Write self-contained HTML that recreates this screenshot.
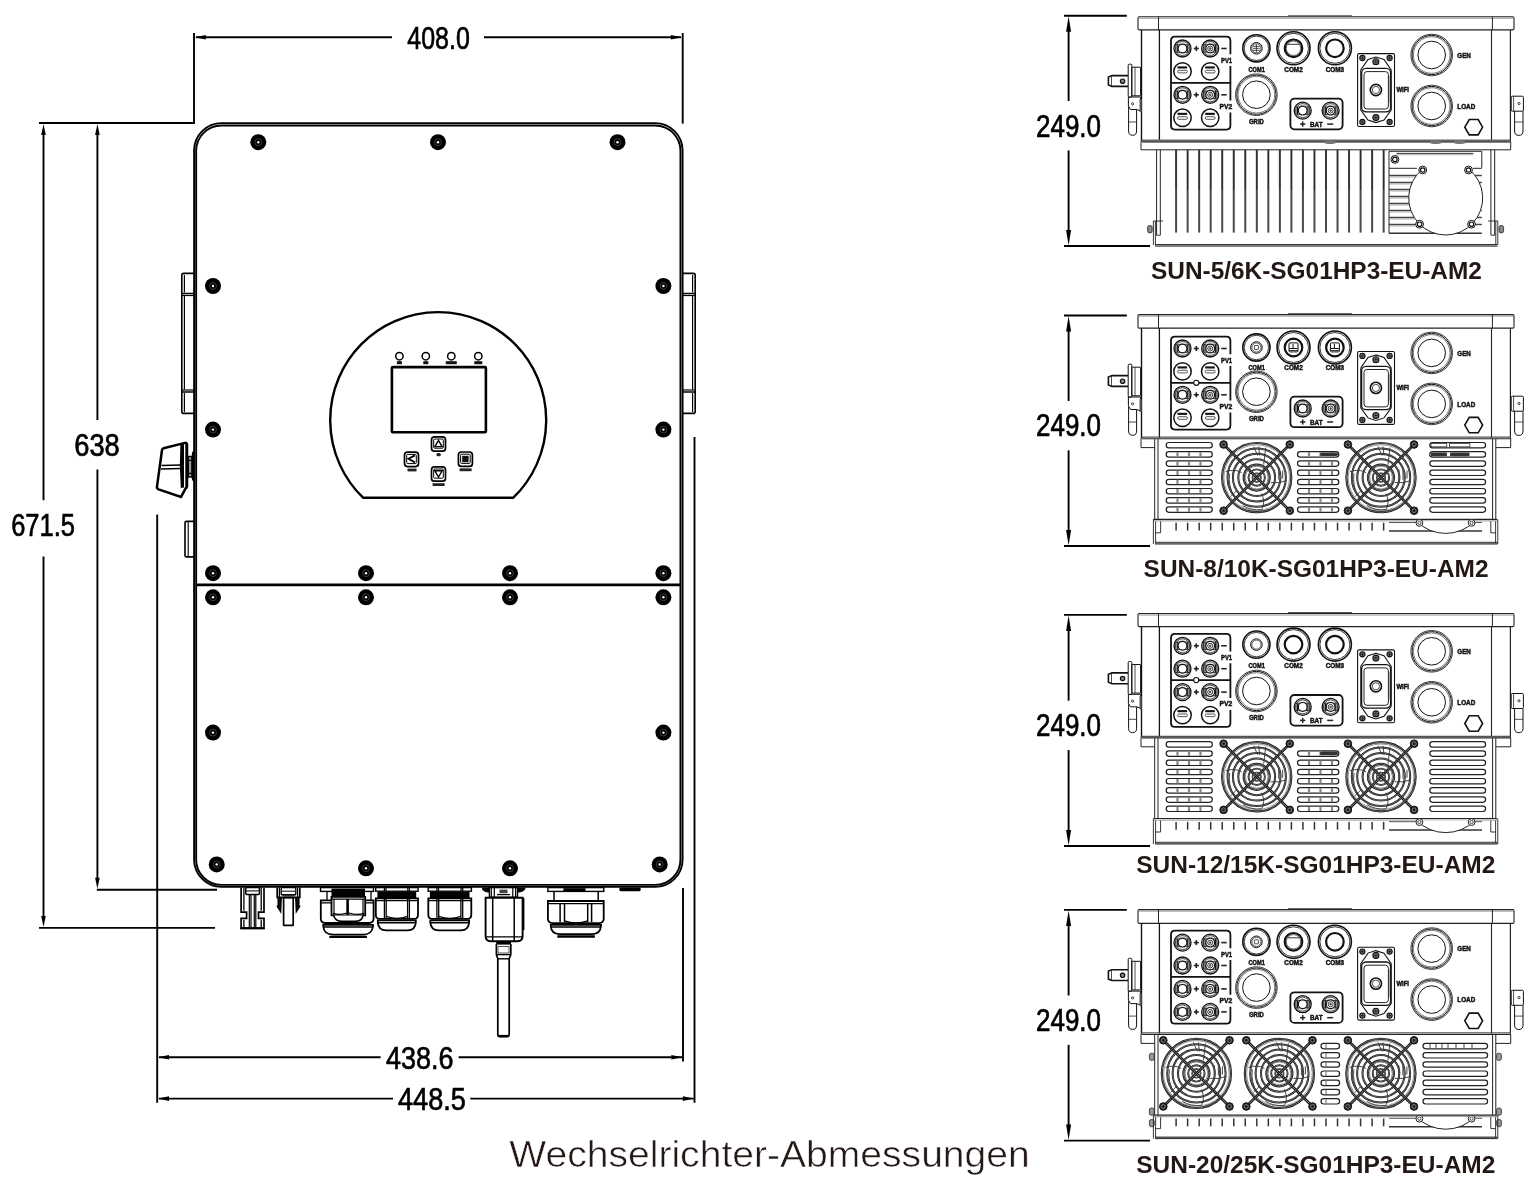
<!DOCTYPE html>
<html lang="de"><head><meta charset="utf-8"><title>Wechselrichter-Abmessungen</title>
<style>
html,body{margin:0;padding:0;background:#fff;}
body{width:1539px;height:1196px;overflow:hidden;}
svg{display:block;font-family:"Liberation Sans",sans-serif;will-change:transform;}
</style></head><body>
<svg width="1539" height="1196" viewBox="0 0 1539 1196">
<rect x="0" y="0" width="1539" height="1196" fill="#fff"/>
<line x1="194" y1="33" x2="194" y2="123.6" stroke="#000" stroke-width="1.9" />
<line x1="682.7" y1="33" x2="682.7" y2="123.6" stroke="#000" stroke-width="1.9" />
<line x1="196" y1="37.3" x2="392" y2="37.3" stroke="#000" stroke-width="1.9" />
<line x1="484" y1="37.3" x2="681" y2="37.3" stroke="#000" stroke-width="1.9" />
<polygon points="194.8,37.3 205.8,35 205.8,39.6" fill="#000"/>
<polygon points="681.9,37.3 670.9,35 670.9,39.6" fill="#000"/>
<text x="407.3" y="48.6" font-size="31.5" font-weight="normal" text-anchor="start" fill="#000" textLength="62.5" lengthAdjust="spacingAndGlyphs" stroke="#000" stroke-width="0.7">408.0</text>
<line x1="39" y1="123" x2="194.9" y2="123" stroke="#000" stroke-width="1.9" />
<line x1="43.5" y1="132" x2="43.5" y2="500.3" stroke="#000" stroke-width="1.9" />
<line x1="43.5" y1="556.5" x2="43.5" y2="918" stroke="#000" stroke-width="1.9" />
<polygon points="43.5,124 41.2,135 45.8,135" fill="#000"/>
<polygon points="43.5,927 41.2,916 45.8,916" fill="#000"/>
<line x1="97.4" y1="132" x2="97.4" y2="420" stroke="#000" stroke-width="1.9" />
<line x1="97.4" y1="469.6" x2="97.4" y2="880" stroke="#000" stroke-width="1.9" />
<polygon points="97.4,124 95.1,135 99.7,135" fill="#000"/>
<polygon points="97.4,888.8 95.1,877.8 99.7,877.8" fill="#000"/>
<line x1="96.8" y1="889.7" x2="217" y2="889.7" stroke="#000" stroke-width="1.9" />
<line x1="39" y1="927.9" x2="215" y2="927.9" stroke="#000" stroke-width="1.9" />
<text x="74.3" y="456.2" font-size="31" font-weight="normal" text-anchor="start" fill="#000" textLength="45.5" lengthAdjust="spacingAndGlyphs" stroke="#000" stroke-width="0.7">638</text>
<text x="11.2" y="536.4" font-size="31" font-weight="normal" text-anchor="start" fill="#000" textLength="63.7" lengthAdjust="spacingAndGlyphs" stroke="#000" stroke-width="0.7">671.5</text>
<line x1="157.2" y1="514.5" x2="157.2" y2="1102.8" stroke="#000" stroke-width="1.9" />
<line x1="694.5" y1="437" x2="694.5" y2="1102.8" stroke="#000" stroke-width="1.9" />
<line x1="683" y1="888" x2="683" y2="1061.6" stroke="#000" stroke-width="1.9" />
<line x1="159" y1="1057.2" x2="380.6" y2="1057.2" stroke="#000" stroke-width="1.9" />
<line x1="458.6" y1="1057.2" x2="682" y2="1057.2" stroke="#000" stroke-width="1.9" />
<polygon points="158,1057.2 169,1054.9 169,1059.5" fill="#000"/>
<polygon points="682.3,1057.2 671.3,1054.9 671.3,1059.5" fill="#000"/>
<line x1="159" y1="1098.6" x2="393" y2="1098.6" stroke="#000" stroke-width="1.9" />
<line x1="470.3" y1="1098.6" x2="693.5" y2="1098.6" stroke="#000" stroke-width="1.9" />
<polygon points="158,1098.6 169,1096.3 169,1100.9" fill="#000"/>
<polygon points="693.8,1098.6 682.8,1096.3 682.8,1100.9" fill="#000"/>
<text x="385.9" y="1068.9" font-size="31.5" font-weight="normal" text-anchor="start" fill="#000" textLength="67.5" lengthAdjust="spacingAndGlyphs" stroke="#000" stroke-width="0.7">438.6</text>
<text x="398" y="1109.6" font-size="31.5" font-weight="normal" text-anchor="start" fill="#000" textLength="67.8" lengthAdjust="spacingAndGlyphs" stroke="#000" stroke-width="0.7">448.5</text>
<rect x="194.1" y="123.1" width="488.5" height="763.8" rx="27.5" stroke="#000" stroke-width="1.9" fill="none"/>
<rect x="196.15" y="125.45" width="484.3" height="759.45" rx="25.4" stroke="#000" stroke-width="1.9" fill="none"/>
<line x1="196" y1="584.9" x2="681" y2="584.9" stroke="#000" stroke-width="2.6" />
<circle cx="258.3" cy="142.2" r="8" fill="#000"/>
<circle cx="258.3" cy="142.2" r="3.4" fill="none" stroke="#555" stroke-width="0.7"/>
<circle cx="258.3" cy="142.2" r="1.2" fill="#fff"/>
<circle cx="438" cy="142.2" r="8" fill="#000"/>
<circle cx="438" cy="142.2" r="3.4" fill="none" stroke="#555" stroke-width="0.7"/>
<circle cx="438" cy="142.2" r="1.2" fill="#fff"/>
<circle cx="617.5" cy="142.2" r="8" fill="#000"/>
<circle cx="617.5" cy="142.2" r="3.4" fill="none" stroke="#555" stroke-width="0.7"/>
<circle cx="617.5" cy="142.2" r="1.2" fill="#fff"/>
<circle cx="213" cy="286" r="8" fill="#000"/>
<circle cx="213" cy="286" r="3.4" fill="none" stroke="#555" stroke-width="0.7"/>
<circle cx="213" cy="286" r="1.2" fill="#fff"/>
<circle cx="663.4" cy="286" r="8" fill="#000"/>
<circle cx="663.4" cy="286" r="3.4" fill="none" stroke="#555" stroke-width="0.7"/>
<circle cx="663.4" cy="286" r="1.2" fill="#fff"/>
<circle cx="213" cy="429.6" r="8" fill="#000"/>
<circle cx="213" cy="429.6" r="3.4" fill="none" stroke="#555" stroke-width="0.7"/>
<circle cx="213" cy="429.6" r="1.2" fill="#fff"/>
<circle cx="663.4" cy="429.6" r="8" fill="#000"/>
<circle cx="663.4" cy="429.6" r="3.4" fill="none" stroke="#555" stroke-width="0.7"/>
<circle cx="663.4" cy="429.6" r="1.2" fill="#fff"/>
<circle cx="213" cy="573.2" r="8" fill="#000"/>
<circle cx="213" cy="573.2" r="3.4" fill="none" stroke="#555" stroke-width="0.7"/>
<circle cx="213" cy="573.2" r="1.2" fill="#fff"/>
<circle cx="663.4" cy="573.2" r="8" fill="#000"/>
<circle cx="663.4" cy="573.2" r="3.4" fill="none" stroke="#555" stroke-width="0.7"/>
<circle cx="663.4" cy="573.2" r="1.2" fill="#fff"/>
<circle cx="213" cy="597.3" r="8" fill="#000"/>
<circle cx="213" cy="597.3" r="3.4" fill="none" stroke="#555" stroke-width="0.7"/>
<circle cx="213" cy="597.3" r="1.2" fill="#fff"/>
<circle cx="663.4" cy="597.3" r="8" fill="#000"/>
<circle cx="663.4" cy="597.3" r="3.4" fill="none" stroke="#555" stroke-width="0.7"/>
<circle cx="663.4" cy="597.3" r="1.2" fill="#fff"/>
<circle cx="213" cy="732.6" r="8" fill="#000"/>
<circle cx="213" cy="732.6" r="3.4" fill="none" stroke="#555" stroke-width="0.7"/>
<circle cx="213" cy="732.6" r="1.2" fill="#fff"/>
<circle cx="663.4" cy="732.6" r="8" fill="#000"/>
<circle cx="663.4" cy="732.6" r="3.4" fill="none" stroke="#555" stroke-width="0.7"/>
<circle cx="663.4" cy="732.6" r="1.2" fill="#fff"/>
<circle cx="366" cy="573.2" r="8" fill="#000"/>
<circle cx="366" cy="573.2" r="3.4" fill="none" stroke="#555" stroke-width="0.7"/>
<circle cx="366" cy="573.2" r="1.2" fill="#fff"/>
<circle cx="366" cy="597.3" r="8" fill="#000"/>
<circle cx="366" cy="597.3" r="3.4" fill="none" stroke="#555" stroke-width="0.7"/>
<circle cx="366" cy="597.3" r="1.2" fill="#fff"/>
<circle cx="366" cy="868.3" r="8" fill="#000"/>
<circle cx="366" cy="868.3" r="3.4" fill="none" stroke="#555" stroke-width="0.7"/>
<circle cx="366" cy="868.3" r="1.2" fill="#fff"/>
<circle cx="510" cy="573.2" r="8" fill="#000"/>
<circle cx="510" cy="573.2" r="3.4" fill="none" stroke="#555" stroke-width="0.7"/>
<circle cx="510" cy="573.2" r="1.2" fill="#fff"/>
<circle cx="510" cy="597.3" r="8" fill="#000"/>
<circle cx="510" cy="597.3" r="3.4" fill="none" stroke="#555" stroke-width="0.7"/>
<circle cx="510" cy="597.3" r="1.2" fill="#fff"/>
<circle cx="510" cy="868.3" r="8" fill="#000"/>
<circle cx="510" cy="868.3" r="3.4" fill="none" stroke="#555" stroke-width="0.7"/>
<circle cx="510" cy="868.3" r="1.2" fill="#fff"/>
<circle cx="216.7" cy="864.4" r="8" fill="#000"/>
<circle cx="216.7" cy="864.4" r="3.4" fill="none" stroke="#555" stroke-width="0.7"/>
<circle cx="216.7" cy="864.4" r="1.2" fill="#fff"/>
<circle cx="659.7" cy="864.4" r="8" fill="#000"/>
<circle cx="659.7" cy="864.4" r="3.4" fill="none" stroke="#555" stroke-width="0.7"/>
<circle cx="659.7" cy="864.4" r="1.2" fill="#fff"/>
<path d="M194.5,273.4 H183.8 Q181.8,273.4 181.8,275.4 V411.4 Q181.8,413.4 183.8,413.4 H194.5" stroke="#000" stroke-width="1.6" fill="none" />
<line x1="181.8" y1="293.5" x2="194.5" y2="293.5" stroke="#000" stroke-width="1.5" />
<line x1="181.8" y1="295.5" x2="194.5" y2="295.5" stroke="#000" stroke-width="1.2" />
<line x1="181.8" y1="392" x2="194.5" y2="392" stroke="#000" stroke-width="1.5" />
<line x1="181.8" y1="390" x2="194.5" y2="390" stroke="#000" stroke-width="1.2" />
<line x1="184.4" y1="275" x2="184.4" y2="292.5" stroke="#000" stroke-width="1.2" />
<line x1="184.4" y1="296" x2="184.4" y2="389.5" stroke="#000" stroke-width="1.2" />
<line x1="184.4" y1="393" x2="184.4" y2="412" stroke="#000" stroke-width="1.2" />
<path d="M682.3,273.4 H693.2 Q695.2,273.4 695.2,275.4 V411.4 Q695.2,413.4 693.2,413.4 H682.3" stroke="#000" stroke-width="1.6" fill="none" />
<line x1="695.2" y1="293.5" x2="682.3" y2="293.5" stroke="#000" stroke-width="1.5" />
<line x1="695.2" y1="295.5" x2="682.3" y2="295.5" stroke="#000" stroke-width="1.2" />
<line x1="695.2" y1="392" x2="682.3" y2="392" stroke="#000" stroke-width="1.5" />
<line x1="695.2" y1="390" x2="682.3" y2="390" stroke="#000" stroke-width="1.2" />
<line x1="692.6" y1="275" x2="692.6" y2="292.5" stroke="#000" stroke-width="1.2" />
<line x1="692.6" y1="296" x2="692.6" y2="389.5" stroke="#000" stroke-width="1.2" />
<line x1="692.6" y1="393" x2="692.6" y2="412" stroke="#000" stroke-width="1.2" />
<path d="M194.5,521.4 H186.5 Q185,521.4 185,523 V555.4 Q185,556.9 186.5,556.9 H194.5" stroke="#000" stroke-width="1.6" fill="none" />
<line x1="188.2" y1="522" x2="188.2" y2="556.5" stroke="#000" stroke-width="1.1" />
<path d="M163.6,448.3 L185,442.9 Q186.9,442.6 187,444.6 V486.6 Q187,488 185.6,488.3 L181,497 L158.6,489.4 Q156.6,488.6 157,486.6 L162,450 Q162.3,448.6 163.6,448.3 Z" stroke="#000" stroke-width="2.5" fill="none" />
<path d="M180.4,444.2 L184,443.3 V487.6 L180.8,488 Q179,466 180.4,444.2 Z" fill="#000"/>
<line x1="185.9" y1="444" x2="185.9" y2="488" stroke="#000" stroke-width="1" />
<line x1="161.6" y1="465.4" x2="181" y2="465" stroke="#000" stroke-width="1.5" />
<line x1="161" y1="469" x2="181" y2="468.6" stroke="#000" stroke-width="1.5" />
<rect x="188.2" y="456.6" width="3.8" height="20.4" rx="0.6" stroke="#000" stroke-width="1.5" fill="#999"/>
<line x1="187.6" y1="460.4" x2="192" y2="460.4" stroke="#000" stroke-width="1.3" />
<line x1="187.6" y1="473.4" x2="192" y2="473.4" stroke="#000" stroke-width="1.3" />
<path d="M194.2,450.6 Q191.6,451.6 191.8,455 V477.6 Q191.6,481 194.2,482 Z" fill="#000"/>
<path d="M363.09,497.7 A108,108 0 1 1 513.31,497.7 Z" stroke="#000" stroke-width="2.4" fill="none" />
<rect x="391.9" y="367.1" width="94" height="65.2" rx="1" stroke="#000" stroke-width="2.6" fill="none"/>
<circle cx="399.4" cy="356.2" r="3.7" stroke="#000" stroke-width="1.5" fill="none"/>
<rect x="396.9" y="361.2" width="5" height="3" fill="#111"/>
<circle cx="425.8" cy="356.2" r="3.7" stroke="#000" stroke-width="1.5" fill="none"/>
<rect x="423.3" y="361.2" width="5" height="3" fill="#111"/>
<circle cx="451.3" cy="356.2" r="3.7" stroke="#000" stroke-width="1.5" fill="none"/>
<rect x="445.8" y="361.2" width="11" height="3" fill="#111"/>
<circle cx="478.3" cy="356.2" r="3.7" stroke="#000" stroke-width="1.5" fill="none"/>
<rect x="474.3" y="361.2" width="8" height="3" fill="#111"/>
<rect x="431.5" y="436.8" width="14" height="14.4" rx="3" stroke="#000" stroke-width="1.7" fill="none"/>
<rect x="433.7" y="439" width="9.6" height="9.2" rx="1" stroke="#000" stroke-width="1" fill="none"/>
<path d="M434.9,446.6 L438.5,440.4 L442.1,446.6 Z" stroke="#000" stroke-width="1.4" fill="none" />
<rect x="404.5" y="452.2" width="14" height="14.4" rx="3" stroke="#000" stroke-width="1.7" fill="none"/>
<rect x="406.7" y="454.4" width="9.6" height="9.2" rx="1" stroke="#000" stroke-width="1" fill="none"/>
<path d="M414.9,455.4 L408.5,458.8 L414.9,462.4" stroke="#000" stroke-width="1.8" fill="none" />
<rect x="458.4" y="452" width="14" height="14.4" rx="3" stroke="#000" stroke-width="1.7" fill="none"/>
<rect x="460.6" y="454.2" width="9.6" height="9.2" rx="1" stroke="#000" stroke-width="1" fill="none"/>
<rect x="462.2" y="455.8" width="6.4" height="6.4" fill="#111"/>
<rect x="431.5" y="466.8" width="14" height="14.4" rx="3" stroke="#000" stroke-width="1.7" fill="none"/>
<rect x="433.7" y="469" width="9.6" height="9.2" rx="1" stroke="#000" stroke-width="1" fill="none"/>
<path d="M434.9,470.8 L438.5,477 L442.1,470.8 Z" stroke="#000" stroke-width="1.4" fill="none" />
<rect x="436.4" y="453" width="4.4" height="3.2" rx="1.5" fill="#222"/>
<rect x="407.5" y="468.6" width="9" height="2.8" fill="#222"/>
<rect x="459.6" y="468.4" width="12" height="2.8" fill="#222"/>
<rect x="432.6" y="483.2" width="12" height="2.8" fill="#222"/>
<path d="M241.1,887.6 V912.2 H246.6 V918.3 H241.1 V928.2 H264.0 V918.3 H258.5 V912.2 H264.0 V887.6" stroke="#000" stroke-width="1.7" fill="none" />
<path d="M243.9,887.6 V910.8 M261.2,887.6 V910.8 M243.9,919.8 V927 M261.2,919.8 V927" stroke="#000" stroke-width="1.3" fill="none" />
<rect x="245.8" y="887.6" width="13.6" height="6.8" rx="0.8" stroke="#000" stroke-width="1.5" fill="none"/>
<line x1="245.8" y1="890.9" x2="259.4" y2="890.9" stroke="#333" stroke-width="1.3" />
<path d="M249.3,895 V927.5 M251,895 V927.5 M254.3,895 V927.5 M255.8,895 V927.5" stroke="#000" stroke-width="1.2" fill="none" />
<line x1="240.3" y1="928.3" x2="264.8" y2="928.3" stroke="#000" stroke-width="2.2" />
<path d="M277.2,887.6 V897.4 H299.8 V887.6" stroke="#000" stroke-width="1.7" fill="none" />
<path d="M279.4,887.6 V897 M297.6,887.6 V897" stroke="#000" stroke-width="1.2" fill="none" />
<rect x="281.2" y="887.6" width="14.6" height="7.2" rx="0.8" stroke="#000" stroke-width="1.4" fill="none"/>
<line x1="281.2" y1="891.2" x2="295.8" y2="891.2" stroke="#333" stroke-width="1.2" />
<line x1="282.5" y1="895.6" x2="294.5" y2="895.6" stroke="#333" stroke-width="1.6" />
<path d="M278.2,897.4 V905.6 L277.4,906.4 L280.6,911.6 L281.2,897.4" stroke="#000" stroke-width="1.5" fill="#111" />
<path d="M298.8,897.4 V905.6 L299.6,906.4 L296.4,911.6 L295.8,897.4" stroke="#000" stroke-width="1.5" fill="#111" />
<rect x="283.6" y="897.6" width="9.6" height="27.8" rx="0.5" stroke="#000" stroke-width="1.7" fill="none"/>
<rect x="375.7" y="887.6" width="42.4" height="3.6" rx="0" stroke="#000" stroke-width="1.4" fill="none"/>
<line x1="384.4" y1="887.6" x2="384.4" y2="891.2" stroke="#000" stroke-width="1.2" />
<line x1="386" y1="887.6" x2="386" y2="891.2" stroke="#000" stroke-width="1.2" />
<line x1="409.4" y1="887.6" x2="409.4" y2="891.2" stroke="#000" stroke-width="1.2" />
<line x1="407.8" y1="887.6" x2="407.8" y2="891.2" stroke="#000" stroke-width="1.2" />
<rect x="377.4" y="891.8" width="38.8" height="6.6" fill="#000"/>
<path d="M375.8,898.4 H418 V914.5 Q418,918.6 414.6,918.8 H379.2 Q375.8,918.6 375.8,914.5 Z" stroke="#000" stroke-width="1.8" fill="none" />
<line x1="375.8" y1="900.6" x2="418" y2="900.6" stroke="#000" stroke-width="1.3" />
<line x1="384.4" y1="898.4" x2="384.4" y2="918" stroke="#000" stroke-width="1.3" />
<line x1="409.4" y1="898.4" x2="409.4" y2="918" stroke="#000" stroke-width="1.3" />
<line x1="386.2" y1="898.4" x2="386.2" y2="918" stroke="#000" stroke-width="1.3" />
<line x1="407.6" y1="898.4" x2="407.6" y2="918" stroke="#000" stroke-width="1.3" />
<path d="M386.2,916.4 Q396.9,920.4 407.6,916.4" stroke="#000" stroke-width="1.4" fill="none" />
<path d="M377.8,920.4 H415.8 V922.6 Q415.2,930.2 407.6,930.3 H386.2 Q378.4,930.2 377.8,922.6 Z" stroke="#000" stroke-width="1.8" fill="none" />
<line x1="377.8" y1="922.7" x2="415.8" y2="922.7" stroke="#000" stroke-width="1.4" />
<rect x="428.2" y="887.6" width="43.2" height="3.6" rx="0" stroke="#000" stroke-width="1.4" fill="none"/>
<line x1="436.9" y1="887.6" x2="436.9" y2="891.2" stroke="#000" stroke-width="1.2" />
<line x1="438.5" y1="887.6" x2="438.5" y2="891.2" stroke="#000" stroke-width="1.2" />
<line x1="462.7" y1="887.6" x2="462.7" y2="891.2" stroke="#000" stroke-width="1.2" />
<line x1="461.1" y1="887.6" x2="461.1" y2="891.2" stroke="#000" stroke-width="1.2" />
<rect x="429.9" y="891.8" width="39.6" height="6.6" fill="#000"/>
<path d="M428.3,898.4 H471.3 V914.5 Q471.3,918.6 467.9,918.8 H431.7 Q428.3,918.6 428.3,914.5 Z" stroke="#000" stroke-width="1.8" fill="none" />
<line x1="428.3" y1="900.6" x2="471.3" y2="900.6" stroke="#000" stroke-width="1.3" />
<line x1="436.9" y1="898.4" x2="436.9" y2="918" stroke="#000" stroke-width="1.3" />
<line x1="462.7" y1="898.4" x2="462.7" y2="918" stroke="#000" stroke-width="1.3" />
<line x1="438.7" y1="898.4" x2="438.7" y2="918" stroke="#000" stroke-width="1.3" />
<line x1="460.9" y1="898.4" x2="460.9" y2="918" stroke="#000" stroke-width="1.3" />
<path d="M438.7,916.4 Q449.8,920.4 460.9,916.4" stroke="#000" stroke-width="1.4" fill="none" />
<path d="M430.3,920.4 H469.1 V922.6 Q468.5,930.2 460.9,930.3 H438.7 Q430.9,930.2 430.3,922.6 Z" stroke="#000" stroke-width="1.8" fill="none" />
<line x1="430.3" y1="922.7" x2="469.1" y2="922.7" stroke="#000" stroke-width="1.4" />
<rect x="320.5" y="887.6" width="53" height="3.8" rx="0" stroke="#000" stroke-width="1.4" fill="none"/>
<rect x="331.5" y="888.6" width="33.5" height="8.2" fill="#000"/>
<path d="M327,892 V900.4 M371,892 V900.4" stroke="#000" stroke-width="1.3" fill="none" />
<path d="M320.8,900.4 H373.6 V918.5 Q373.4,922.8 369,923 H325 Q320.9,922.8 320.8,918.5 Z" stroke="#000" stroke-width="1.8" fill="none" />
<line x1="320.8" y1="902.8" x2="373.6" y2="902.8" stroke="#000" stroke-width="1.3" />
<path d="M331.5,896.8 H365.2 V915.4 H331.5 Z" stroke="#000" stroke-width="1.8" fill="#fff" />
<line x1="331.5" y1="899.2" x2="365.2" y2="899.2" stroke="#000" stroke-width="1.3" />
<line x1="347.6" y1="899" x2="347.6" y2="915" stroke="#000" stroke-width="2.6" />
<line x1="334" y1="899" x2="334" y2="915" stroke="#000" stroke-width="1.2" />
<line x1="363" y1="899" x2="363" y2="915" stroke="#000" stroke-width="1.2" />
<path d="M333,913.4 Q340,915.6 346.5,913 M348.8,913 Q357,915.6 364,913.4" stroke="#000" stroke-width="1.3" fill="none" />
<path d="M333.8,915.6 Q335,921.2 342,921.4 H355 Q362,921.2 363,915.6" stroke="#000" stroke-width="1.7" fill="#fff" />
<path d="M323.3,924.8 H373 V926.5 Q372,934.5 363,934.7 H333 Q324,934.5 323.3,926.5 Z" stroke="#000" stroke-width="1.8" fill="none" />
<line x1="323.3" y1="927" x2="373" y2="927" stroke="#000" stroke-width="1.3" />
<line x1="329.3" y1="936.9" x2="366.9" y2="936.9" stroke="#000" stroke-width="2.4" />
<rect x="547.9" y="887.6" width="55.9" height="3.8" rx="0" stroke="#000" stroke-width="1.4" fill="none"/>
<rect x="563.4" y="888.2" width="22.1" height="3.6" fill="#000"/>
<path d="M554,892 V901 M598.2,892 V901" stroke="#000" stroke-width="1.5" fill="none" />
<path d="M547.9,901 H603.7 V919 Q603.5,922.9 599.3,923.1 H552.4 Q548.1,922.9 547.9,919 Z" stroke="#000" stroke-width="1.8" fill="none" />
<line x1="547.9" y1="903.6" x2="603.7" y2="903.6" stroke="#000" stroke-width="1.4" />
<line x1="560.1" y1="903.6" x2="560.1" y2="922" stroke="#000" stroke-width="1.5" />
<line x1="564.5" y1="903.6" x2="564.5" y2="922" stroke="#000" stroke-width="1.5" />
<line x1="591.6" y1="903.6" x2="591.6" y2="922" stroke="#000" stroke-width="1.5" />
<line x1="587.7" y1="903.6" x2="587.7" y2="922" stroke="#000" stroke-width="1.5" />
<path d="M564.5,920.8 Q575.85,925 587.7,920.8" stroke="#000" stroke-width="1.4" fill="none" />
<path d="M550.7,924.8 H601 V926 Q600.3,934 592.3,934.2 H559.4 Q551.4,934 550.7,926 Z" stroke="#000" stroke-width="1.8" fill="none" />
<line x1="550.7" y1="927" x2="601" y2="927" stroke="#000" stroke-width="1.3" />
<line x1="557.3" y1="936.5" x2="594.9" y2="936.5" stroke="#000" stroke-width="2.4" />
<path d="M481.6,887.6 H525.8 Q524.5,892.4 519,892.4 H488 Q482.6,892.4 481.6,887.6 Z" fill="#000"/>
<rect x="489.4" y="887.6" width="28.1" height="9.6" fill="#fff" stroke="#000" stroke-width="1.4"/>
<path d="M491.3,887.6 V897 M494.3,887.6 V897 M512.8,887.6 V897 M515.6,887.6 V897" stroke="#000" stroke-width="1.2" fill="none" />
<rect x="499.5" y="889.6" width="8" height="3.6" fill="#444"/>
<line x1="497" y1="894.6" x2="510" y2="894.6" stroke="#000" stroke-width="1.3" />
<path d="M485.6,897.8 H522.6 V936 Q522.6,941.2 517.4,941.2 H490.8 Q485.6,941.2 485.6,936 Z" stroke="#000" stroke-width="1.9" fill="none" />
<line x1="523.2" y1="898" x2="523.2" y2="930" stroke="#000" stroke-width="2.4" />
<line x1="492.7" y1="898" x2="492.7" y2="941" stroke="#000" stroke-width="1.5" />
<line x1="514.2" y1="898" x2="514.2" y2="941" stroke="#000" stroke-width="1.5" />
<line x1="485.6" y1="936.9" x2="522.6" y2="936.9" stroke="#000" stroke-width="1.4" />
<rect x="496.2" y="941.4" width="14.8" height="3.2" fill="#000"/>
<path d="M496.4,944 V954.6 L497.8,958.8 V1034.5 Q497.8,1036.6 500,1036.6 H507 Q509.2,1036.6 509.2,1034.5 V958.8 L510.8,954.6 V944" stroke="#000" stroke-width="1.7" fill="none" />
<line x1="496.4" y1="954.6" x2="510.8" y2="954.6" stroke="#000" stroke-width="1.4" />
<line x1="497.8" y1="958.8" x2="509.2" y2="958.8" stroke="#000" stroke-width="1.4" />
<path d="M498,946.5 H509 V953 H498 Z" stroke="#555" stroke-width="1" fill="none" />
<line x1="498.5" y1="1036" x2="508.5" y2="1036" stroke="#000" stroke-width="2.2" />
<rect x="619.3" y="887.6" width="21.4" height="3.6" rx="1.4" fill="#000"/>
<text x="509.3" y="1167.4" font-size="37" font-weight="normal" text-anchor="start" fill="#231815" textLength="520.5" lengthAdjust="spacingAndGlyphs" stroke="#fff" stroke-width="0.55">Wechselrichter-Abmessungen</text>
<line x1="1064" y1="15.7" x2="1126.8" y2="15.7" stroke="#000" stroke-width="1.9" />
<line x1="1064" y1="246" x2="1150" y2="246" stroke="#000" stroke-width="1.9" />
<line x1="1068.6" y1="27.7" x2="1068.6" y2="101.05" stroke="#000" stroke-width="1.9" />
<line x1="1068.6" y1="150.45" x2="1068.6" y2="234" stroke="#000" stroke-width="1.9" />
<polygon points="1068.6,16.3 1066.1,31.8 1071.1,31.8" fill="#000"/>
<polygon points="1068.6,245.4 1066.1,229.9 1071.1,229.9" fill="#000"/>
<text x="1036" y="136.55" font-size="30.5" font-weight="normal" text-anchor="start" fill="#000" textLength="65" lengthAdjust="spacingAndGlyphs" stroke="#000" stroke-width="0.7">249.0</text>
<rect x="1138" y="16.7" width="376" height="13.2" rx="1.2" stroke="#222" stroke-width="1.1" fill="none"/>
<line x1="1139" y1="18.2" x2="1514" y2="18.2" stroke="#777" stroke-width="0.8" />
<line x1="1288" y1="15.8" x2="1352" y2="15.8" stroke="#444" stroke-width="1" />
<line x1="1141.5" y1="29.9" x2="1141.5" y2="141.3" stroke="#111" stroke-width="1.4" />
<line x1="1510.4" y1="29.9" x2="1510.4" y2="141.3" stroke="#222" stroke-width="1.2" />
<line x1="1158.5" y1="16.7" x2="1158.5" y2="29.9" stroke="#222" stroke-width="1" />
<line x1="1492.4" y1="16.7" x2="1492.4" y2="29.9" stroke="#222" stroke-width="1" />
<line x1="1159.4" y1="29.9" x2="1159.4" y2="141.3" stroke="#111" stroke-width="1.3" />
<line x1="1491.5" y1="29.9" x2="1491.5" y2="141.3" stroke="#222" stroke-width="1.1" />
<line x1="1141.8" y1="140.7" x2="1510.4" y2="140.7" stroke="#666" stroke-width="2.6" />
<line x1="1141.8" y1="142.2" x2="1510.4" y2="142.2" stroke="#222" stroke-width="0.8" />
<path d="M1141,141.3 V149.8 H1510.7 V141.3" stroke="#222" stroke-width="1" fill="none" />
<ellipse cx="1330" cy="142.3" rx="6.5" ry="1.8" fill="#777"/>
<ellipse cx="1435.7" cy="142.3" rx="6.5" ry="1.8" fill="#777"/>
<ellipse cx="1459.6" cy="142.3" rx="6.5" ry="1.8" fill="#777"/>
<path d="M1128,75.6 H1112 L1108.4,77 V85 L1112,86.4 H1128" stroke="#111" stroke-width="1.6" fill="none" />
<line x1="1111.5" y1="76" x2="1111.5" y2="86" stroke="#222" stroke-width="0.8" />
<circle cx="1122.6" cy="81.2" r="2.2" stroke="#111" stroke-width="1.2" fill="#888"/>
<rect x="1128.2" y="64.2" width="3.6" height="33" rx="1" stroke="#111" stroke-width="1" fill="none"/>
<rect x="1131.8" y="67.2" width="8.8" height="28.6" rx="0.5" stroke="#111" stroke-width="1" fill="none"/>
<line x1="1135" y1="67.2" x2="1135" y2="95.8" stroke="#222" stroke-width="0.8" />
<path d="M1128.4,97 H1140.6 V111 L1136.8,109.5 H1130.5 L1128.4,106 Z" stroke="#111" stroke-width="1" fill="none" />
<circle cx="1132.6" cy="103.8" r="1.1" stroke="#111" stroke-width="0.8" fill="none"/>
<path d="M1128.6,107 V131 Q1128.6,135.3 1132.6,135.3 Q1136.6,135.3 1136.6,131 V109.5" stroke="#111" stroke-width="1" fill="none" />
<line x1="1128.6" y1="122" x2="1136.6" y2="122" stroke="#222" stroke-width="0.8" />
<line x1="1140.6" y1="99" x2="1140.6" y2="112" stroke="#555" stroke-width="2.2" />
<rect x="1511.2" y="96.2" width="12.2" height="15" rx="1" stroke="#111" stroke-width="1" fill="none"/>
<line x1="1513.6" y1="96.2" x2="1513.6" y2="111.2" stroke="#222" stroke-width="0.8" />
<circle cx="1519" cy="103.5" r="1.1" stroke="#111" stroke-width="0.8" fill="none"/>
<path d="M1514.6,111.2 V131 Q1514.6,135.4 1518.8,135.4 Q1523,135.4 1523,131 V111.2" stroke="#111" stroke-width="1" fill="none" />
<line x1="1514.6" y1="122" x2="1523" y2="122" stroke="#222" stroke-width="0.8" />
<path d="M1230.4,54.2 V40.6 Q1230.4,36.6 1226.4,36.6 H1175 Q1171,36.6 1171,40.6 V125.6 Q1171,129.6 1175,129.6 H1226.4 Q1230.4,129.6 1230.4,125.6 V112.6 M1230.4,66 V100.6" stroke="#111" stroke-width="1.8" fill="none" />
<line x1="1171" y1="82.8" x2="1230.4" y2="82.8" stroke="#111" stroke-width="1.8" />
<circle cx="1182.5" cy="48.5" r="8.5" stroke="#111" stroke-width="1.3" fill="#d2d2d2"/>
<circle cx="1182.5" cy="48.5" r="7" stroke="#333" stroke-width="0.8" fill="#eee"/>
<rect x="1175.9" y="44.8" width="13.2" height="7.4" fill="#fff" stroke="#222" stroke-width="0.8"/>
<line x1="1177.3" y1="44.8" x2="1177.3" y2="52.2" stroke="#111" stroke-width="1.1" />
<line x1="1187.7" y1="44.8" x2="1187.7" y2="52.2" stroke="#111" stroke-width="1.1" />
<circle cx="1182.5" cy="48.5" r="4.4" stroke="#111" stroke-width="1.2" fill="#fff"/>
<circle cx="1210.2" cy="48.5" r="8.5" stroke="#111" stroke-width="1.3" fill="#d2d2d2"/>
<circle cx="1210.2" cy="48.5" r="7" stroke="#333" stroke-width="0.8" fill="#eee"/>
<rect x="1203.6" y="44.8" width="13.2" height="7.4" fill="#fff" stroke="#222" stroke-width="0.8"/>
<line x1="1205" y1="44.8" x2="1205" y2="52.2" stroke="#111" stroke-width="1.1" />
<line x1="1215.4" y1="44.8" x2="1215.4" y2="52.2" stroke="#111" stroke-width="1.1" />
<circle cx="1210.2" cy="48.5" r="4.4" stroke="#111" stroke-width="1.2" fill="#fff"/>
<circle cx="1210.2" cy="48.5" r="2.5" stroke="#222" stroke-width="0.9" fill="none"/>
<circle cx="1210.2" cy="48.5" r="0.9" stroke="#222" stroke-width="0.6" fill="#666"/>
<line x1="1193.8" y1="48.5" x2="1198.8" y2="48.5" stroke="#222" stroke-width="1.6" />
<line x1="1196.3" y1="46" x2="1196.3" y2="51" stroke="#222" stroke-width="1.6" />
<line x1="1221.3" y1="48.5" x2="1226.7" y2="48.5" stroke="#222" stroke-width="1.6" />
<circle cx="1182.5" cy="71.4" r="8.7" stroke="#111" stroke-width="1.5" fill="#fff"/>
<rect x="1177.5" y="66.4" width="9.6" height="2.1" fill="#111"/>
<rect x="1177.6" y="70.3" width="9.8" height="2.6" rx="1.2" stroke="#444" stroke-width="0.9" fill="none"/>
<circle cx="1210.2" cy="71.4" r="8.7" stroke="#111" stroke-width="1.5" fill="#fff"/>
<rect x="1205.2" y="66.4" width="9.6" height="2.1" fill="#111"/>
<rect x="1205.3" y="70.3" width="9.8" height="2.6" rx="1.2" stroke="#444" stroke-width="0.9" fill="none"/>
<circle cx="1182.5" cy="94.8" r="8.5" stroke="#111" stroke-width="1.3" fill="#d2d2d2"/>
<circle cx="1182.5" cy="94.8" r="7" stroke="#333" stroke-width="0.8" fill="#eee"/>
<rect x="1175.9" y="91.1" width="13.2" height="7.4" fill="#fff" stroke="#222" stroke-width="0.8"/>
<line x1="1177.3" y1="91.1" x2="1177.3" y2="98.5" stroke="#111" stroke-width="1.1" />
<line x1="1187.7" y1="91.1" x2="1187.7" y2="98.5" stroke="#111" stroke-width="1.1" />
<circle cx="1182.5" cy="94.8" r="4.4" stroke="#111" stroke-width="1.2" fill="#fff"/>
<circle cx="1210.2" cy="94.8" r="8.5" stroke="#111" stroke-width="1.3" fill="#d2d2d2"/>
<circle cx="1210.2" cy="94.8" r="7" stroke="#333" stroke-width="0.8" fill="#eee"/>
<rect x="1203.6" y="91.1" width="13.2" height="7.4" fill="#fff" stroke="#222" stroke-width="0.8"/>
<line x1="1205" y1="91.1" x2="1205" y2="98.5" stroke="#111" stroke-width="1.1" />
<line x1="1215.4" y1="91.1" x2="1215.4" y2="98.5" stroke="#111" stroke-width="1.1" />
<circle cx="1210.2" cy="94.8" r="4.4" stroke="#111" stroke-width="1.2" fill="#fff"/>
<circle cx="1210.2" cy="94.8" r="2.5" stroke="#222" stroke-width="0.9" fill="none"/>
<circle cx="1210.2" cy="94.8" r="0.9" stroke="#222" stroke-width="0.6" fill="#666"/>
<line x1="1193.8" y1="94.8" x2="1198.8" y2="94.8" stroke="#222" stroke-width="1.6" />
<line x1="1196.3" y1="92.3" x2="1196.3" y2="97.3" stroke="#222" stroke-width="1.6" />
<line x1="1221.3" y1="94.8" x2="1226.7" y2="94.8" stroke="#222" stroke-width="1.6" />
<circle cx="1182.5" cy="117.8" r="8.7" stroke="#111" stroke-width="1.5" fill="#fff"/>
<rect x="1177.5" y="112.8" width="9.6" height="2.1" fill="#111"/>
<rect x="1177.6" y="116.7" width="9.8" height="2.6" rx="1.2" stroke="#444" stroke-width="0.9" fill="none"/>
<circle cx="1210.2" cy="117.8" r="8.7" stroke="#111" stroke-width="1.5" fill="#fff"/>
<rect x="1205.2" y="112.8" width="9.6" height="2.1" fill="#111"/>
<rect x="1205.3" y="116.7" width="9.8" height="2.6" rx="1.2" stroke="#444" stroke-width="0.9" fill="none"/>
<text x="1220.9" y="62.8" font-size="7.2" font-weight="bold" text-anchor="start" fill="#111" textLength="11.3" lengthAdjust="spacingAndGlyphs" stroke="#111" stroke-width="0.45">PV1</text>
<text x="1219.4" y="109" font-size="7.2" font-weight="bold" text-anchor="start" fill="#111" textLength="12.8" lengthAdjust="spacingAndGlyphs" stroke="#111" stroke-width="0.45">PV2</text>
<circle cx="1256.4" cy="48.3" r="13.6" stroke="#111" stroke-width="1.6" fill="none"/>
<circle cx="1256.4" cy="48.3" r="12.2" stroke="#222" stroke-width="0.9" fill="none"/>
<circle cx="1256.4" cy="48.3" r="5.8" stroke="#111" stroke-width="1" fill="none"/>
<circle cx="1256.4" cy="48.3" r="4.6" stroke="#222" stroke-width="0.8" fill="none"/>
<line x1="1253" y1="46.3" x2="1259.8" y2="46.3" stroke="#222" stroke-width="0.8" />
<line x1="1253" y1="48.3" x2="1259.8" y2="48.3" stroke="#222" stroke-width="0.8" />
<line x1="1253" y1="50.3" x2="1259.8" y2="50.3" stroke="#222" stroke-width="0.8" />
<line x1="1256.4" y1="44.3" x2="1256.4" y2="52.3" stroke="#222" stroke-width="0.8" />
<circle cx="1293.5" cy="48.3" r="16.5" stroke="#111" stroke-width="1.6" fill="none"/>
<circle cx="1293.5" cy="48.3" r="15" stroke="#222" stroke-width="0.9" fill="none"/>
<circle cx="1293.5" cy="48.3" r="8.8" stroke="#111" stroke-width="2.2" fill="none"/>
<line x1="1288" y1="44.3" x2="1299" y2="44.3" stroke="#222" stroke-width="0.9" />
<circle cx="1293.5" cy="48.3" r="7.2" stroke="#222" stroke-width="0.7" fill="none"/>
<circle cx="1334.9" cy="48.3" r="16.5" stroke="#111" stroke-width="1.6" fill="none"/>
<circle cx="1334.9" cy="48.3" r="15" stroke="#222" stroke-width="0.9" fill="none"/>
<circle cx="1334.9" cy="48.3" r="8.8" stroke="#111" stroke-width="2.2" fill="none"/>
<text x="1248.4" y="71.7" font-size="6.6" font-weight="bold" text-anchor="start" fill="#111" textLength="16.4" lengthAdjust="spacingAndGlyphs" stroke="#111" stroke-width="0.45">COM1</text>
<text x="1284.3" y="71.7" font-size="6.6" font-weight="bold" text-anchor="start" fill="#111" textLength="18.4" lengthAdjust="spacingAndGlyphs" stroke="#111" stroke-width="0.45">COM2</text>
<text x="1325.7" y="71.7" font-size="6.6" font-weight="bold" text-anchor="start" fill="#111" textLength="18.4" lengthAdjust="spacingAndGlyphs" stroke="#111" stroke-width="0.45">COM3</text>
<circle cx="1256.4" cy="94.7" r="20.8" stroke="#222" stroke-width="0.9" fill="none"/>
<circle cx="1256.4" cy="94.7" r="19.6" stroke="#111" stroke-width="1" fill="none"/>
<circle cx="1256.4" cy="94.7" r="18.3" stroke="#444" stroke-width="0.7" fill="none"/>
<circle cx="1256.4" cy="94.7" r="13.8" stroke="#111" stroke-width="1" fill="none"/>
<text x="1249" y="123.5" font-size="6.6" font-weight="bold" text-anchor="start" fill="#111" textLength="14.8" lengthAdjust="spacingAndGlyphs" stroke="#111" stroke-width="0.45">GRID</text>
<rect x="1290.4" y="98.7" width="52.2" height="30.6" rx="4" stroke="#111" stroke-width="1.8" fill="none"/>
<circle cx="1302.7" cy="110.6" r="8.5" stroke="#111" stroke-width="1.3" fill="#d2d2d2"/>
<circle cx="1302.7" cy="110.6" r="7" stroke="#333" stroke-width="0.8" fill="#eee"/>
<rect x="1296.1" y="106.9" width="13.2" height="7.4" fill="#fff" stroke="#222" stroke-width="0.8"/>
<line x1="1297.5" y1="106.9" x2="1297.5" y2="114.3" stroke="#111" stroke-width="1.1" />
<line x1="1307.9" y1="106.9" x2="1307.9" y2="114.3" stroke="#111" stroke-width="1.1" />
<circle cx="1302.7" cy="110.6" r="4.4" stroke="#111" stroke-width="1.2" fill="#fff"/>
<circle cx="1330.6" cy="110.6" r="8.5" stroke="#111" stroke-width="1.3" fill="#d2d2d2"/>
<circle cx="1330.6" cy="110.6" r="7" stroke="#333" stroke-width="0.8" fill="#eee"/>
<rect x="1324" y="106.9" width="13.2" height="7.4" fill="#fff" stroke="#222" stroke-width="0.8"/>
<line x1="1325.4" y1="106.9" x2="1325.4" y2="114.3" stroke="#111" stroke-width="1.1" />
<line x1="1335.8" y1="106.9" x2="1335.8" y2="114.3" stroke="#111" stroke-width="1.1" />
<circle cx="1330.6" cy="110.6" r="4.4" stroke="#111" stroke-width="1.2" fill="#fff"/>
<circle cx="1330.6" cy="110.6" r="2.5" stroke="#222" stroke-width="0.9" fill="none"/>
<circle cx="1330.6" cy="110.6" r="0.9" stroke="#222" stroke-width="0.6" fill="#666"/>
<line x1="1300.1" y1="124.1" x2="1305.3" y2="124.1" stroke="#222" stroke-width="1.5" />
<line x1="1302.7" y1="121.5" x2="1302.7" y2="126.7" stroke="#222" stroke-width="1.5" />
<line x1="1327.2" y1="124.1" x2="1333.2" y2="124.1" stroke="#222" stroke-width="1.5" />
<text x="1310" y="126.6" font-size="6.8" font-weight="bold" text-anchor="start" fill="#111" textLength="12.6" lengthAdjust="spacingAndGlyphs" stroke="#111" stroke-width="0.45">BAT</text>
<rect x="1357.6" y="53.6" width="36.9" height="72.9" rx="1.5" stroke="#111" stroke-width="1.1" fill="none"/>
<circle cx="1362.4" cy="58" r="2.6" stroke="#111" stroke-width="1.1" fill="#777"/>
<line x1="1360.7" y1="58" x2="1364.1" y2="58" stroke="#111" stroke-width="0.7" />
<line x1="1362.4" y1="56.3" x2="1362.4" y2="59.7" stroke="#111" stroke-width="0.7" />
<circle cx="1389.6" cy="58" r="2.6" stroke="#111" stroke-width="1.1" fill="#777"/>
<line x1="1387.9" y1="58" x2="1391.3" y2="58" stroke="#111" stroke-width="0.7" />
<line x1="1389.6" y1="56.3" x2="1389.6" y2="59.7" stroke="#111" stroke-width="0.7" />
<circle cx="1362.4" cy="122" r="2.6" stroke="#111" stroke-width="1.1" fill="#777"/>
<line x1="1360.7" y1="122" x2="1364.1" y2="122" stroke="#111" stroke-width="0.7" />
<line x1="1362.4" y1="120.3" x2="1362.4" y2="123.7" stroke="#111" stroke-width="0.7" />
<circle cx="1389.6" cy="122" r="2.6" stroke="#111" stroke-width="1.1" fill="#777"/>
<line x1="1387.9" y1="122" x2="1391.3" y2="122" stroke="#111" stroke-width="0.7" />
<line x1="1389.6" y1="120.3" x2="1389.6" y2="123.7" stroke="#111" stroke-width="0.7" />
<path d="M1375.9,57 L1368,59.5 L1360.8,70 V110 L1368,120 L1375.9,122.6 L1384,120 L1391.2,110 V70 L1384,59.5 Z" stroke="#111" stroke-width="1.1" fill="none" />
<circle cx="1375.9" cy="61.8" r="3" stroke="#111" stroke-width="1.1" fill="#777"/>
<line x1="1373.8" y1="61.8" x2="1378" y2="61.8" stroke="#111" stroke-width="0.7" />
<line x1="1375.9" y1="59.7" x2="1375.9" y2="63.9" stroke="#111" stroke-width="0.7" />
<circle cx="1375.9" cy="117.6" r="3" stroke="#111" stroke-width="1.1" fill="#777"/>
<line x1="1373.8" y1="117.6" x2="1378" y2="117.6" stroke="#111" stroke-width="0.7" />
<line x1="1375.9" y1="115.5" x2="1375.9" y2="119.7" stroke="#111" stroke-width="0.7" />
<rect x="1361.6" y="68.4" width="29" height="43.4" rx="4.5" stroke="#111" stroke-width="1.3" fill="none"/>
<rect x="1364" y="71.6" width="24.4" height="37.4" rx="3" stroke="#222" stroke-width="1" fill="none"/>
<line x1="1390.2" y1="76" x2="1390.2" y2="103" stroke="#222" stroke-width="1" />
<circle cx="1375.9" cy="90" r="5.6" stroke="#111" stroke-width="1.6" fill="none"/>
<circle cx="1375.9" cy="90" r="3.6" stroke="#222" stroke-width="0.8" fill="none"/>
<text x="1396.4" y="92.4" font-size="6.6" font-weight="bold" text-anchor="start" fill="#111" textLength="12.6" lengthAdjust="spacingAndGlyphs" stroke="#111" stroke-width="0.45">WIFI</text>
<circle cx="1431.7" cy="55" r="20.8" stroke="#222" stroke-width="0.9" fill="none"/>
<circle cx="1431.7" cy="55" r="19.6" stroke="#111" stroke-width="1" fill="none"/>
<circle cx="1431.7" cy="55" r="18.3" stroke="#444" stroke-width="0.7" fill="none"/>
<circle cx="1431.7" cy="55" r="13.8" stroke="#111" stroke-width="1" fill="none"/>
<circle cx="1431.7" cy="106" r="20.8" stroke="#222" stroke-width="0.9" fill="none"/>
<circle cx="1431.7" cy="106" r="19.6" stroke="#111" stroke-width="1" fill="none"/>
<circle cx="1431.7" cy="106" r="18.3" stroke="#444" stroke-width="0.7" fill="none"/>
<circle cx="1431.7" cy="106" r="13.8" stroke="#111" stroke-width="1" fill="none"/>
<text x="1457.3" y="57.6" font-size="6.6" font-weight="bold" text-anchor="start" fill="#111" textLength="13.5" lengthAdjust="spacingAndGlyphs" stroke="#111" stroke-width="0.45">GEN</text>
<text x="1457.3" y="108.6" font-size="6.6" font-weight="bold" text-anchor="start" fill="#111" textLength="18" lengthAdjust="spacingAndGlyphs" stroke="#111" stroke-width="0.45">LOAD</text>
<polygon points="1482.6,127.2 1478.15,134.91 1469.25,134.91 1464.8,127.2 1469.25,119.49 1478.15,119.49" fill="none" stroke="#111" stroke-width="1.6"/>
<text x="1151" y="279.1" font-size="23" font-weight="bold" text-anchor="start" fill="#231815" textLength="330.9" lengthAdjust="spacingAndGlyphs" >SUN-5/6K-SG01HP3-EU-AM2</text>
<line x1="1156.6" y1="149.8" x2="1156.6" y2="235.2" stroke="#222" stroke-width="1" />
<line x1="1160.3" y1="149.8" x2="1160.3" y2="235.2" stroke="#222" stroke-width="1" />
<line x1="1490.9" y1="149.8" x2="1490.9" y2="235.2" stroke="#222" stroke-width="1" />
<line x1="1494.7" y1="149.8" x2="1494.7" y2="235.2" stroke="#222" stroke-width="1" />
<line x1="1176.1" y1="149.8" x2="1176.1" y2="232.6" stroke="#4a4a4a" stroke-width="2" />
<line x1="1176.1" y1="149.8" x2="1176.1" y2="189.8" stroke="#222" stroke-width="0.8" />
<line x1="1187.63" y1="149.8" x2="1187.63" y2="232.6" stroke="#4a4a4a" stroke-width="2" />
<line x1="1187.63" y1="149.8" x2="1187.63" y2="189.8" stroke="#222" stroke-width="0.8" />
<line x1="1199.16" y1="149.8" x2="1199.16" y2="232.6" stroke="#4a4a4a" stroke-width="2" />
<line x1="1199.16" y1="149.8" x2="1199.16" y2="189.8" stroke="#222" stroke-width="0.8" />
<line x1="1210.69" y1="149.8" x2="1210.69" y2="232.6" stroke="#4a4a4a" stroke-width="2" />
<line x1="1210.69" y1="149.8" x2="1210.69" y2="189.8" stroke="#222" stroke-width="0.8" />
<line x1="1222.22" y1="149.8" x2="1222.22" y2="232.6" stroke="#4a4a4a" stroke-width="2" />
<line x1="1222.22" y1="149.8" x2="1222.22" y2="189.8" stroke="#222" stroke-width="0.8" />
<line x1="1233.75" y1="149.8" x2="1233.75" y2="232.6" stroke="#4a4a4a" stroke-width="2" />
<line x1="1233.75" y1="149.8" x2="1233.75" y2="189.8" stroke="#222" stroke-width="0.8" />
<line x1="1245.28" y1="149.8" x2="1245.28" y2="232.6" stroke="#4a4a4a" stroke-width="2" />
<line x1="1245.28" y1="149.8" x2="1245.28" y2="189.8" stroke="#222" stroke-width="0.8" />
<line x1="1256.81" y1="149.8" x2="1256.81" y2="232.6" stroke="#4a4a4a" stroke-width="2" />
<line x1="1256.81" y1="149.8" x2="1256.81" y2="189.8" stroke="#222" stroke-width="0.8" />
<line x1="1268.34" y1="149.8" x2="1268.34" y2="232.6" stroke="#4a4a4a" stroke-width="2" />
<line x1="1268.34" y1="149.8" x2="1268.34" y2="189.8" stroke="#222" stroke-width="0.8" />
<line x1="1279.87" y1="149.8" x2="1279.87" y2="232.6" stroke="#4a4a4a" stroke-width="2" />
<line x1="1279.87" y1="149.8" x2="1279.87" y2="189.8" stroke="#222" stroke-width="0.8" />
<line x1="1291.4" y1="149.8" x2="1291.4" y2="232.6" stroke="#4a4a4a" stroke-width="2" />
<line x1="1291.4" y1="149.8" x2="1291.4" y2="189.8" stroke="#222" stroke-width="0.8" />
<line x1="1302.93" y1="149.8" x2="1302.93" y2="232.6" stroke="#4a4a4a" stroke-width="2" />
<line x1="1302.93" y1="149.8" x2="1302.93" y2="189.8" stroke="#222" stroke-width="0.8" />
<line x1="1314.46" y1="149.8" x2="1314.46" y2="232.6" stroke="#4a4a4a" stroke-width="2" />
<line x1="1314.46" y1="149.8" x2="1314.46" y2="189.8" stroke="#222" stroke-width="0.8" />
<line x1="1325.99" y1="149.8" x2="1325.99" y2="232.6" stroke="#4a4a4a" stroke-width="2" />
<line x1="1325.99" y1="149.8" x2="1325.99" y2="189.8" stroke="#222" stroke-width="0.8" />
<line x1="1337.52" y1="149.8" x2="1337.52" y2="232.6" stroke="#4a4a4a" stroke-width="2" />
<line x1="1337.52" y1="149.8" x2="1337.52" y2="189.8" stroke="#222" stroke-width="0.8" />
<line x1="1349.05" y1="149.8" x2="1349.05" y2="232.6" stroke="#4a4a4a" stroke-width="2" />
<line x1="1349.05" y1="149.8" x2="1349.05" y2="189.8" stroke="#222" stroke-width="0.8" />
<line x1="1360.58" y1="149.8" x2="1360.58" y2="232.6" stroke="#4a4a4a" stroke-width="2" />
<line x1="1360.58" y1="149.8" x2="1360.58" y2="189.8" stroke="#222" stroke-width="0.8" />
<line x1="1372.11" y1="149.8" x2="1372.11" y2="232.6" stroke="#4a4a4a" stroke-width="2" />
<line x1="1372.11" y1="149.8" x2="1372.11" y2="189.8" stroke="#222" stroke-width="0.8" />
<line x1="1383.64" y1="149.8" x2="1383.64" y2="232.6" stroke="#4a4a4a" stroke-width="2" />
<line x1="1383.64" y1="149.8" x2="1383.64" y2="189.8" stroke="#222" stroke-width="0.8" />
<line x1="1155" y1="244.6" x2="1497.5" y2="244.6" stroke="#333" stroke-width="1.2" />
<line x1="1155" y1="246.1" x2="1497.5" y2="246.1" stroke="#222" stroke-width="1" />
<path d="M1160.3,235.2 H1156.2 M1153.4,221 V245 M1155.4,221 V245 M1153.4,221 H1163" stroke="#222" stroke-width="0.9" fill="none" />
<rect x="1147.6" y="225.5" width="4.6" height="7.4" rx="2" fill="#888" stroke="#222" stroke-width="0.8"/>
<path d="M1490.9,235.2 H1495 M1497.8,221 V245 M1495.8,221 V245 M1497.8,221 H1488" stroke="#222" stroke-width="0.9" fill="none" />
<rect x="1499" y="225.5" width="4.6" height="7.4" rx="2" fill="#888" stroke="#222" stroke-width="0.8"/>
<path d="M1389,233.2 V151.3 H1481.8 V167.8" stroke="#222" stroke-width="1" fill="none" />
<line x1="1396.5" y1="153.4" x2="1473.3" y2="153.4" stroke="#333" stroke-width="1" />
<line x1="1396.5" y1="154.8" x2="1473.3" y2="154.8" stroke="#777" stroke-width="0.6" />
<path d="M1389,168.3 H1417 M1473,168.3 H1481.8" stroke="#222" stroke-width="1" fill="none" />
<line x1="1389" y1="175.5" x2="1416.33" y2="175.5" stroke="#444" stroke-width="1.5" />
<line x1="1389" y1="177.1" x2="1416.33" y2="177.1" stroke="#888" stroke-width="0.6" />
<line x1="1475.07" y1="175.5" x2="1481.8" y2="175.5" stroke="#444" stroke-width="1.5" />
<line x1="1389" y1="182.5" x2="1412.1" y2="182.5" stroke="#444" stroke-width="1.5" />
<line x1="1389" y1="184.1" x2="1412.1" y2="184.1" stroke="#888" stroke-width="0.6" />
<line x1="1479.3" y1="182.5" x2="1481.8" y2="182.5" stroke="#444" stroke-width="1.5" />
<line x1="1389" y1="189.5" x2="1409.69" y2="189.5" stroke="#444" stroke-width="1.5" />
<line x1="1389" y1="191.1" x2="1409.69" y2="191.1" stroke="#888" stroke-width="0.6" />
<line x1="1481.71" y1="189.5" x2="1481.8" y2="189.5" stroke="#444" stroke-width="1.5" />
<line x1="1389" y1="196.5" x2="1408.73" y2="196.5" stroke="#444" stroke-width="1.5" />
<line x1="1389" y1="198.1" x2="1408.73" y2="198.1" stroke="#888" stroke-width="0.6" />
<line x1="1389" y1="203.5" x2="1409.11" y2="203.5" stroke="#444" stroke-width="1.5" />
<line x1="1389" y1="205.1" x2="1409.11" y2="205.1" stroke="#888" stroke-width="0.6" />
<line x1="1389" y1="210.5" x2="1410.88" y2="210.5" stroke="#444" stroke-width="1.5" />
<line x1="1389" y1="212.1" x2="1410.88" y2="212.1" stroke="#888" stroke-width="0.6" />
<line x1="1480.52" y1="210.5" x2="1481.8" y2="210.5" stroke="#444" stroke-width="1.5" />
<line x1="1389" y1="217.5" x2="1414.26" y2="217.5" stroke="#444" stroke-width="1.5" />
<line x1="1389" y1="219.1" x2="1414.26" y2="219.1" stroke="#888" stroke-width="0.6" />
<line x1="1477.14" y1="217.5" x2="1481.8" y2="217.5" stroke="#444" stroke-width="1.5" />
<line x1="1389" y1="224.5" x2="1419.88" y2="224.5" stroke="#444" stroke-width="1.5" />
<line x1="1389" y1="226.1" x2="1419.88" y2="226.1" stroke="#888" stroke-width="0.6" />
<line x1="1471.52" y1="224.5" x2="1481.8" y2="224.5" stroke="#444" stroke-width="1.5" />
<line x1="1389" y1="233.2" x2="1481.8" y2="233.2" stroke="#333" stroke-width="1.4" />
<path d="M1422.21,169.41 A37,37 0 1 0 1469.06,169.31" stroke="#222" stroke-width="1" fill="#fff" />
<circle cx="1394.9" cy="159.4" r="3.9" stroke="#111" stroke-width="1" fill="#fff"/>
<circle cx="1394.9" cy="159.4" r="2.2" stroke="#111" stroke-width="1.2" fill="#fff"/>
<circle cx="1422.7" cy="170" r="3.9" stroke="#111" stroke-width="1" fill="#fff"/>
<circle cx="1422.7" cy="170" r="2.2" stroke="#111" stroke-width="1.2" fill="#fff"/>
<circle cx="1468.5" cy="170" r="3.9" stroke="#111" stroke-width="1" fill="#fff"/>
<circle cx="1468.5" cy="170" r="2.2" stroke="#111" stroke-width="1.2" fill="#fff"/>
<circle cx="1419.6" cy="224.2" r="3.9" stroke="#111" stroke-width="1" fill="#fff"/>
<circle cx="1419.6" cy="224.2" r="2.2" stroke="#111" stroke-width="1.2" fill="#fff"/>
<circle cx="1471.5" cy="224.2" r="3.9" stroke="#111" stroke-width="1" fill="#fff"/>
<circle cx="1471.5" cy="224.2" r="2.2" stroke="#111" stroke-width="1.2" fill="#fff"/>
<line x1="1064" y1="315.5" x2="1126.8" y2="315.5" stroke="#000" stroke-width="1.9" />
<line x1="1064" y1="546" x2="1150" y2="546" stroke="#000" stroke-width="1.9" />
<line x1="1068.6" y1="327.5" x2="1068.6" y2="400.95" stroke="#000" stroke-width="1.9" />
<line x1="1068.6" y1="450.35" x2="1068.6" y2="534" stroke="#000" stroke-width="1.9" />
<polygon points="1068.6,316.1 1066.1,331.6 1071.1,331.6" fill="#000"/>
<polygon points="1068.6,545.4 1066.1,529.9 1071.1,529.9" fill="#000"/>
<text x="1036" y="436.45" font-size="30.5" font-weight="normal" text-anchor="start" fill="#000" textLength="65" lengthAdjust="spacingAndGlyphs" stroke="#000" stroke-width="0.7">249.0</text>
<rect x="1138" y="314.6" width="376" height="13.5" rx="1.2" stroke="#222" stroke-width="1.1" fill="none"/>
<line x1="1139" y1="316.1" x2="1514" y2="316.1" stroke="#777" stroke-width="0.8" />
<line x1="1288" y1="313.7" x2="1352" y2="313.7" stroke="#444" stroke-width="1" />
<line x1="1141.5" y1="328.1" x2="1141.5" y2="438" stroke="#111" stroke-width="1.4" />
<line x1="1510.4" y1="328.1" x2="1510.4" y2="438" stroke="#222" stroke-width="1.2" />
<line x1="1158.5" y1="314.6" x2="1158.5" y2="328.1" stroke="#222" stroke-width="1" />
<line x1="1492.4" y1="314.6" x2="1492.4" y2="328.1" stroke="#222" stroke-width="1" />
<line x1="1159.4" y1="328.1" x2="1159.4" y2="438" stroke="#111" stroke-width="1.3" />
<line x1="1491.5" y1="328.1" x2="1491.5" y2="438" stroke="#222" stroke-width="1.1" />
<line x1="1141.8" y1="437.1" x2="1510.4" y2="437.1" stroke="#555" stroke-width="1.2" />
<line x1="1141.8" y1="438.7" x2="1510.4" y2="438.7" stroke="#222" stroke-width="1.1" />
<path d="M1141,438 V447.6 H1154.7 M1495.8,447.6 H1510.7 V438" stroke="#222" stroke-width="1" fill="none" />
<path d="M1128,375.6 H1112 L1108.4,377 V385 L1112,386.4 H1128" stroke="#111" stroke-width="1.6" fill="none" />
<line x1="1111.5" y1="376" x2="1111.5" y2="386" stroke="#222" stroke-width="0.8" />
<circle cx="1122.6" cy="381.2" r="2.2" stroke="#111" stroke-width="1.2" fill="#888"/>
<rect x="1128.2" y="364.2" width="3.6" height="33" rx="1" stroke="#111" stroke-width="1" fill="none"/>
<rect x="1131.8" y="367.2" width="8.8" height="28.6" rx="0.5" stroke="#111" stroke-width="1" fill="none"/>
<line x1="1135" y1="367.2" x2="1135" y2="395.8" stroke="#222" stroke-width="0.8" />
<path d="M1128.4,397 H1140.6 V411 L1136.8,409.5 H1130.5 L1128.4,406 Z" stroke="#111" stroke-width="1" fill="none" />
<circle cx="1132.6" cy="403.8" r="1.1" stroke="#111" stroke-width="0.8" fill="none"/>
<path d="M1128.6,407 V431 Q1128.6,435.3 1132.6,435.3 Q1136.6,435.3 1136.6,431 V409.5" stroke="#111" stroke-width="1" fill="none" />
<line x1="1128.6" y1="422" x2="1136.6" y2="422" stroke="#222" stroke-width="0.8" />
<line x1="1140.6" y1="399" x2="1140.6" y2="412" stroke="#555" stroke-width="2.2" />
<rect x="1511.2" y="396.2" width="12.2" height="15" rx="1" stroke="#111" stroke-width="1" fill="none"/>
<line x1="1513.6" y1="396.2" x2="1513.6" y2="411.2" stroke="#222" stroke-width="0.8" />
<circle cx="1519" cy="403.5" r="1.1" stroke="#111" stroke-width="0.8" fill="none"/>
<path d="M1514.6,411.2 V431 Q1514.6,435.4 1518.8,435.4 Q1523,435.4 1523,431 V411.2" stroke="#111" stroke-width="1" fill="none" />
<line x1="1514.6" y1="422" x2="1523" y2="422" stroke="#222" stroke-width="0.8" />
<path d="M1230.4,354.2 V340.6 Q1230.4,336.6 1226.4,336.6 H1175 Q1171,336.6 1171,340.6 V425.6 Q1171,429.6 1175,429.6 H1226.4 Q1230.4,429.6 1230.4,425.6 V412.6 M1230.4,366 V400.6" stroke="#111" stroke-width="1.8" fill="none" />
<line x1="1171" y1="382.8" x2="1230.4" y2="382.8" stroke="#111" stroke-width="1.8" />
<circle cx="1182.5" cy="348.5" r="8.5" stroke="#111" stroke-width="1.3" fill="#d2d2d2"/>
<circle cx="1182.5" cy="348.5" r="7" stroke="#333" stroke-width="0.8" fill="#eee"/>
<rect x="1175.9" y="344.8" width="13.2" height="7.4" fill="#fff" stroke="#222" stroke-width="0.8"/>
<line x1="1177.3" y1="344.8" x2="1177.3" y2="352.2" stroke="#111" stroke-width="1.1" />
<line x1="1187.7" y1="344.8" x2="1187.7" y2="352.2" stroke="#111" stroke-width="1.1" />
<circle cx="1182.5" cy="348.5" r="4.4" stroke="#111" stroke-width="1.2" fill="#fff"/>
<circle cx="1210.2" cy="348.5" r="8.5" stroke="#111" stroke-width="1.3" fill="#d2d2d2"/>
<circle cx="1210.2" cy="348.5" r="7" stroke="#333" stroke-width="0.8" fill="#eee"/>
<rect x="1203.6" y="344.8" width="13.2" height="7.4" fill="#fff" stroke="#222" stroke-width="0.8"/>
<line x1="1205" y1="344.8" x2="1205" y2="352.2" stroke="#111" stroke-width="1.1" />
<line x1="1215.4" y1="344.8" x2="1215.4" y2="352.2" stroke="#111" stroke-width="1.1" />
<circle cx="1210.2" cy="348.5" r="4.4" stroke="#111" stroke-width="1.2" fill="#fff"/>
<circle cx="1210.2" cy="348.5" r="2.5" stroke="#222" stroke-width="0.9" fill="none"/>
<circle cx="1210.2" cy="348.5" r="0.9" stroke="#222" stroke-width="0.6" fill="#666"/>
<line x1="1193.8" y1="348.5" x2="1198.8" y2="348.5" stroke="#222" stroke-width="1.6" />
<line x1="1196.3" y1="346" x2="1196.3" y2="351" stroke="#222" stroke-width="1.6" />
<line x1="1221.3" y1="348.5" x2="1226.7" y2="348.5" stroke="#222" stroke-width="1.6" />
<circle cx="1182.5" cy="371.4" r="8.7" stroke="#111" stroke-width="1.5" fill="#fff"/>
<rect x="1177.5" y="366.4" width="9.6" height="2.1" fill="#111"/>
<rect x="1177.6" y="370.3" width="9.8" height="2.6" rx="1.2" stroke="#444" stroke-width="0.9" fill="none"/>
<circle cx="1210.2" cy="371.4" r="8.7" stroke="#111" stroke-width="1.5" fill="#fff"/>
<rect x="1205.2" y="366.4" width="9.6" height="2.1" fill="#111"/>
<rect x="1205.3" y="370.3" width="9.8" height="2.6" rx="1.2" stroke="#444" stroke-width="0.9" fill="none"/>
<circle cx="1182.5" cy="394.8" r="8.5" stroke="#111" stroke-width="1.3" fill="#d2d2d2"/>
<circle cx="1182.5" cy="394.8" r="7" stroke="#333" stroke-width="0.8" fill="#eee"/>
<rect x="1175.9" y="391.1" width="13.2" height="7.4" fill="#fff" stroke="#222" stroke-width="0.8"/>
<line x1="1177.3" y1="391.1" x2="1177.3" y2="398.5" stroke="#111" stroke-width="1.1" />
<line x1="1187.7" y1="391.1" x2="1187.7" y2="398.5" stroke="#111" stroke-width="1.1" />
<circle cx="1182.5" cy="394.8" r="4.4" stroke="#111" stroke-width="1.2" fill="#fff"/>
<circle cx="1210.2" cy="394.8" r="8.5" stroke="#111" stroke-width="1.3" fill="#d2d2d2"/>
<circle cx="1210.2" cy="394.8" r="7" stroke="#333" stroke-width="0.8" fill="#eee"/>
<rect x="1203.6" y="391.1" width="13.2" height="7.4" fill="#fff" stroke="#222" stroke-width="0.8"/>
<line x1="1205" y1="391.1" x2="1205" y2="398.5" stroke="#111" stroke-width="1.1" />
<line x1="1215.4" y1="391.1" x2="1215.4" y2="398.5" stroke="#111" stroke-width="1.1" />
<circle cx="1210.2" cy="394.8" r="4.4" stroke="#111" stroke-width="1.2" fill="#fff"/>
<circle cx="1210.2" cy="394.8" r="2.5" stroke="#222" stroke-width="0.9" fill="none"/>
<circle cx="1210.2" cy="394.8" r="0.9" stroke="#222" stroke-width="0.6" fill="#666"/>
<line x1="1193.8" y1="394.8" x2="1198.8" y2="394.8" stroke="#222" stroke-width="1.6" />
<line x1="1196.3" y1="392.3" x2="1196.3" y2="397.3" stroke="#222" stroke-width="1.6" />
<line x1="1221.3" y1="394.8" x2="1226.7" y2="394.8" stroke="#222" stroke-width="1.6" />
<circle cx="1182.5" cy="417.8" r="8.7" stroke="#111" stroke-width="1.5" fill="#fff"/>
<rect x="1177.5" y="412.8" width="9.6" height="2.1" fill="#111"/>
<rect x="1177.6" y="416.7" width="9.8" height="2.6" rx="1.2" stroke="#444" stroke-width="0.9" fill="none"/>
<circle cx="1210.2" cy="417.8" r="8.7" stroke="#111" stroke-width="1.5" fill="#fff"/>
<rect x="1205.2" y="412.8" width="9.6" height="2.1" fill="#111"/>
<rect x="1205.3" y="416.7" width="9.8" height="2.6" rx="1.2" stroke="#444" stroke-width="0.9" fill="none"/>
<text x="1220.9" y="362.8" font-size="7.2" font-weight="bold" text-anchor="start" fill="#111" textLength="11.3" lengthAdjust="spacingAndGlyphs" stroke="#111" stroke-width="0.45">PV1</text>
<text x="1219.4" y="409" font-size="7.2" font-weight="bold" text-anchor="start" fill="#111" textLength="12.8" lengthAdjust="spacingAndGlyphs" stroke="#111" stroke-width="0.45">PV2</text>
<circle cx="1196.3" cy="382.8" r="2.6" stroke="#111" stroke-width="1.1" fill="#fff"/>
<circle cx="1256.4" cy="347.5" r="13.6" stroke="#111" stroke-width="1.6" fill="none"/>
<circle cx="1256.4" cy="347.5" r="12.2" stroke="#222" stroke-width="0.9" fill="none"/>
<circle cx="1256.4" cy="347.5" r="5.8" stroke="#111" stroke-width="1" fill="none"/>
<circle cx="1256.4" cy="347.5" r="4.6" stroke="#222" stroke-width="0.8" fill="none"/>
<rect x="1254.4" y="345.5" width="4" height="4" rx="0.5" stroke="#222" stroke-width="0.8" fill="none"/>
<circle cx="1293.5" cy="347.5" r="16.5" stroke="#111" stroke-width="1.6" fill="none"/>
<circle cx="1293.5" cy="347.5" r="15" stroke="#222" stroke-width="0.9" fill="none"/>
<circle cx="1293.5" cy="347.5" r="8.8" stroke="#111" stroke-width="2.2" fill="none"/>
<rect x="1289" y="342.9" width="9" height="9" rx="1" stroke="#111" stroke-width="1" fill="none"/>
<path d="M1289.5,348.5 H1293 V344 M1293,348.5 H1297.5" stroke="#111" stroke-width="1" fill="none" />
<line x1="1289" y1="350.5" x2="1298" y2="350.5" stroke="#222" stroke-width="0.9" />
<circle cx="1334.9" cy="347.5" r="16.5" stroke="#111" stroke-width="1.6" fill="none"/>
<circle cx="1334.9" cy="347.5" r="15" stroke="#222" stroke-width="0.9" fill="none"/>
<circle cx="1334.9" cy="347.5" r="8.8" stroke="#111" stroke-width="2.2" fill="none"/>
<rect x="1330.4" y="342.9" width="9" height="9" rx="1" stroke="#111" stroke-width="1" fill="none"/>
<path d="M1330.9,348.5 H1334.4 V344 M1334.4,348.5 H1338.9" stroke="#111" stroke-width="1" fill="none" />
<line x1="1330.4" y1="350.5" x2="1339.4" y2="350.5" stroke="#222" stroke-width="0.9" />
<text x="1248.4" y="369.6" font-size="6.6" font-weight="bold" text-anchor="start" fill="#111" textLength="16.4" lengthAdjust="spacingAndGlyphs" stroke="#111" stroke-width="0.45">COM1</text>
<text x="1284.3" y="369.6" font-size="6.6" font-weight="bold" text-anchor="start" fill="#111" textLength="18.4" lengthAdjust="spacingAndGlyphs" stroke="#111" stroke-width="0.45">COM2</text>
<text x="1325.7" y="369.6" font-size="6.6" font-weight="bold" text-anchor="start" fill="#111" textLength="18.4" lengthAdjust="spacingAndGlyphs" stroke="#111" stroke-width="0.45">COM3</text>
<circle cx="1256.4" cy="391.7" r="20.8" stroke="#222" stroke-width="0.9" fill="none"/>
<circle cx="1256.4" cy="391.7" r="19.6" stroke="#111" stroke-width="1" fill="none"/>
<circle cx="1256.4" cy="391.7" r="18.3" stroke="#444" stroke-width="0.7" fill="none"/>
<circle cx="1256.4" cy="391.7" r="13.8" stroke="#111" stroke-width="1" fill="none"/>
<text x="1249" y="421.4" font-size="6.6" font-weight="bold" text-anchor="start" fill="#111" textLength="14.8" lengthAdjust="spacingAndGlyphs" stroke="#111" stroke-width="0.45">GRID</text>
<rect x="1290.4" y="396.6" width="52.2" height="30.6" rx="4" stroke="#111" stroke-width="1.8" fill="none"/>
<circle cx="1302.7" cy="408.5" r="8.5" stroke="#111" stroke-width="1.3" fill="#d2d2d2"/>
<circle cx="1302.7" cy="408.5" r="7" stroke="#333" stroke-width="0.8" fill="#eee"/>
<rect x="1296.1" y="404.8" width="13.2" height="7.4" fill="#fff" stroke="#222" stroke-width="0.8"/>
<line x1="1297.5" y1="404.8" x2="1297.5" y2="412.2" stroke="#111" stroke-width="1.1" />
<line x1="1307.9" y1="404.8" x2="1307.9" y2="412.2" stroke="#111" stroke-width="1.1" />
<circle cx="1302.7" cy="408.5" r="4.4" stroke="#111" stroke-width="1.2" fill="#fff"/>
<circle cx="1330.6" cy="408.5" r="8.5" stroke="#111" stroke-width="1.3" fill="#d2d2d2"/>
<circle cx="1330.6" cy="408.5" r="7" stroke="#333" stroke-width="0.8" fill="#eee"/>
<rect x="1324" y="404.8" width="13.2" height="7.4" fill="#fff" stroke="#222" stroke-width="0.8"/>
<line x1="1325.4" y1="404.8" x2="1325.4" y2="412.2" stroke="#111" stroke-width="1.1" />
<line x1="1335.8" y1="404.8" x2="1335.8" y2="412.2" stroke="#111" stroke-width="1.1" />
<circle cx="1330.6" cy="408.5" r="4.4" stroke="#111" stroke-width="1.2" fill="#fff"/>
<circle cx="1330.6" cy="408.5" r="2.5" stroke="#222" stroke-width="0.9" fill="none"/>
<circle cx="1330.6" cy="408.5" r="0.9" stroke="#222" stroke-width="0.6" fill="#666"/>
<line x1="1300.1" y1="422" x2="1305.3" y2="422" stroke="#222" stroke-width="1.5" />
<line x1="1302.7" y1="419.4" x2="1302.7" y2="424.6" stroke="#222" stroke-width="1.5" />
<line x1="1327.2" y1="422" x2="1333.2" y2="422" stroke="#222" stroke-width="1.5" />
<text x="1310" y="424.5" font-size="6.8" font-weight="bold" text-anchor="start" fill="#111" textLength="12.6" lengthAdjust="spacingAndGlyphs" stroke="#111" stroke-width="0.45">BAT</text>
<rect x="1357.6" y="351.5" width="36.9" height="72.9" rx="1.5" stroke="#111" stroke-width="1.1" fill="none"/>
<circle cx="1362.4" cy="355.9" r="2.6" stroke="#111" stroke-width="1.1" fill="#777"/>
<line x1="1360.7" y1="355.9" x2="1364.1" y2="355.9" stroke="#111" stroke-width="0.7" />
<line x1="1362.4" y1="354.2" x2="1362.4" y2="357.6" stroke="#111" stroke-width="0.7" />
<circle cx="1389.6" cy="355.9" r="2.6" stroke="#111" stroke-width="1.1" fill="#777"/>
<line x1="1387.9" y1="355.9" x2="1391.3" y2="355.9" stroke="#111" stroke-width="0.7" />
<line x1="1389.6" y1="354.2" x2="1389.6" y2="357.6" stroke="#111" stroke-width="0.7" />
<circle cx="1362.4" cy="419.9" r="2.6" stroke="#111" stroke-width="1.1" fill="#777"/>
<line x1="1360.7" y1="419.9" x2="1364.1" y2="419.9" stroke="#111" stroke-width="0.7" />
<line x1="1362.4" y1="418.2" x2="1362.4" y2="421.6" stroke="#111" stroke-width="0.7" />
<circle cx="1389.6" cy="419.9" r="2.6" stroke="#111" stroke-width="1.1" fill="#777"/>
<line x1="1387.9" y1="419.9" x2="1391.3" y2="419.9" stroke="#111" stroke-width="0.7" />
<line x1="1389.6" y1="418.2" x2="1389.6" y2="421.6" stroke="#111" stroke-width="0.7" />
<path d="M1375.9,354.9 L1368,357.4 L1360.8,367.9 V407.9 L1368,417.9 L1375.9,420.5 L1384,417.9 L1391.2,407.9 V367.9 L1384,357.4 Z" stroke="#111" stroke-width="1.1" fill="none" />
<circle cx="1375.9" cy="359.7" r="3" stroke="#111" stroke-width="1.1" fill="#777"/>
<line x1="1373.8" y1="359.7" x2="1378" y2="359.7" stroke="#111" stroke-width="0.7" />
<line x1="1375.9" y1="357.6" x2="1375.9" y2="361.8" stroke="#111" stroke-width="0.7" />
<circle cx="1375.9" cy="415.5" r="3" stroke="#111" stroke-width="1.1" fill="#777"/>
<line x1="1373.8" y1="415.5" x2="1378" y2="415.5" stroke="#111" stroke-width="0.7" />
<line x1="1375.9" y1="413.4" x2="1375.9" y2="417.6" stroke="#111" stroke-width="0.7" />
<rect x="1361.6" y="366.3" width="29" height="43.4" rx="4.5" stroke="#111" stroke-width="1.3" fill="none"/>
<rect x="1364" y="369.5" width="24.4" height="37.4" rx="3" stroke="#222" stroke-width="1" fill="none"/>
<line x1="1390.2" y1="373.9" x2="1390.2" y2="400.9" stroke="#222" stroke-width="1" />
<circle cx="1375.9" cy="387.9" r="5.6" stroke="#111" stroke-width="1.6" fill="none"/>
<circle cx="1375.9" cy="387.9" r="3.6" stroke="#222" stroke-width="0.8" fill="none"/>
<text x="1396.4" y="390.3" font-size="6.6" font-weight="bold" text-anchor="start" fill="#111" textLength="12.6" lengthAdjust="spacingAndGlyphs" stroke="#111" stroke-width="0.45">WIFI</text>
<circle cx="1431.7" cy="352.9" r="20.8" stroke="#222" stroke-width="0.9" fill="none"/>
<circle cx="1431.7" cy="352.9" r="19.6" stroke="#111" stroke-width="1" fill="none"/>
<circle cx="1431.7" cy="352.9" r="18.3" stroke="#444" stroke-width="0.7" fill="none"/>
<circle cx="1431.7" cy="352.9" r="13.8" stroke="#111" stroke-width="1" fill="none"/>
<circle cx="1431.7" cy="403.9" r="20.8" stroke="#222" stroke-width="0.9" fill="none"/>
<circle cx="1431.7" cy="403.9" r="19.6" stroke="#111" stroke-width="1" fill="none"/>
<circle cx="1431.7" cy="403.9" r="18.3" stroke="#444" stroke-width="0.7" fill="none"/>
<circle cx="1431.7" cy="403.9" r="13.8" stroke="#111" stroke-width="1" fill="none"/>
<text x="1457.3" y="355.5" font-size="6.6" font-weight="bold" text-anchor="start" fill="#111" textLength="13.5" lengthAdjust="spacingAndGlyphs" stroke="#111" stroke-width="0.45">GEN</text>
<text x="1457.3" y="406.5" font-size="6.6" font-weight="bold" text-anchor="start" fill="#111" textLength="18" lengthAdjust="spacingAndGlyphs" stroke="#111" stroke-width="0.45">LOAD</text>
<polygon points="1482.6,425.1 1478.15,432.81 1469.25,432.81 1464.8,425.1 1469.25,417.39 1478.15,417.39" fill="none" stroke="#111" stroke-width="1.6"/>
<text x="1143.6" y="576.6" font-size="23" font-weight="bold" text-anchor="start" fill="#231815" textLength="344.9" lengthAdjust="spacingAndGlyphs" >SUN-8/10K-SG01HP3-EU-AM2</text>
<line x1="1154.7" y1="439" x2="1154.7" y2="519.3" stroke="#222" stroke-width="1" />
<line x1="1158" y1="439" x2="1158" y2="519.3" stroke="#222" stroke-width="1" />
<line x1="1495.8" y1="439" x2="1495.8" y2="519.3" stroke="#222" stroke-width="1" />
<line x1="1492.6" y1="439" x2="1492.6" y2="519.3" stroke="#222" stroke-width="1" />
<line x1="1153.5" y1="519.3" x2="1497" y2="519.3" stroke="#222" stroke-width="1.2" />
<line x1="1153.5" y1="520.9" x2="1497" y2="520.9" stroke="#666" stroke-width="0.7" />
<rect x="1166.2" y="442.5" width="46.1" height="5.4" rx="2.7" stroke="#222" stroke-width="1.2" fill="none"/>
<rect x="1429.8" y="442.5" width="55.8" height="5.4" rx="2.7" stroke="#222" stroke-width="1.2" fill="none"/>
<rect x="1166.2" y="451.7" width="46.1" height="5.4" rx="2.7" stroke="#222" stroke-width="1.2" fill="none"/>
<rect x="1297.5" y="451.7" width="41.3" height="5.4" rx="2.7" stroke="#222" stroke-width="1.2" fill="none"/>
<line x1="1177.5" y1="452.2" x2="1177.5" y2="456.6" stroke="#888" stroke-width="2.2" />
<line x1="1189" y1="452.2" x2="1189" y2="456.6" stroke="#888" stroke-width="2.2" />
<line x1="1200.5" y1="452.2" x2="1200.5" y2="456.6" stroke="#888" stroke-width="2.2" />
<line x1="1309" y1="452.2" x2="1309" y2="456.6" stroke="#888" stroke-width="2.2" />
<line x1="1320.5" y1="452.2" x2="1320.5" y2="456.6" stroke="#888" stroke-width="2.2" />
<line x1="1332" y1="452.2" x2="1332" y2="456.6" stroke="#888" stroke-width="2.2" />
<rect x="1429.8" y="451.7" width="55.8" height="5.4" rx="2.7" stroke="#222" stroke-width="1.2" fill="none"/>
<rect x="1166.2" y="460.9" width="46.1" height="5.4" rx="2.7" stroke="#222" stroke-width="1.2" fill="none"/>
<rect x="1297.5" y="460.9" width="41.3" height="5.4" rx="2.7" stroke="#222" stroke-width="1.2" fill="none"/>
<line x1="1177.5" y1="461.4" x2="1177.5" y2="465.8" stroke="#888" stroke-width="2.2" />
<line x1="1189" y1="461.4" x2="1189" y2="465.8" stroke="#888" stroke-width="2.2" />
<line x1="1200.5" y1="461.4" x2="1200.5" y2="465.8" stroke="#888" stroke-width="2.2" />
<line x1="1309" y1="461.4" x2="1309" y2="465.8" stroke="#888" stroke-width="2.2" />
<line x1="1320.5" y1="461.4" x2="1320.5" y2="465.8" stroke="#888" stroke-width="2.2" />
<line x1="1332" y1="461.4" x2="1332" y2="465.8" stroke="#888" stroke-width="2.2" />
<rect x="1429.8" y="460.9" width="55.8" height="5.4" rx="2.7" stroke="#222" stroke-width="1.2" fill="none"/>
<rect x="1166.2" y="470.1" width="46.1" height="5.4" rx="2.7" stroke="#222" stroke-width="1.2" fill="none"/>
<rect x="1297.5" y="470.1" width="41.3" height="5.4" rx="2.7" stroke="#222" stroke-width="1.2" fill="none"/>
<line x1="1177.5" y1="470.6" x2="1177.5" y2="475" stroke="#888" stroke-width="2.2" />
<line x1="1189" y1="470.6" x2="1189" y2="475" stroke="#888" stroke-width="2.2" />
<line x1="1200.5" y1="470.6" x2="1200.5" y2="475" stroke="#888" stroke-width="2.2" />
<line x1="1309" y1="470.6" x2="1309" y2="475" stroke="#888" stroke-width="2.2" />
<line x1="1320.5" y1="470.6" x2="1320.5" y2="475" stroke="#888" stroke-width="2.2" />
<line x1="1332" y1="470.6" x2="1332" y2="475" stroke="#888" stroke-width="2.2" />
<rect x="1429.8" y="470.1" width="55.8" height="5.4" rx="2.7" stroke="#222" stroke-width="1.2" fill="none"/>
<rect x="1166.2" y="479.3" width="46.1" height="5.4" rx="2.7" stroke="#222" stroke-width="1.2" fill="none"/>
<rect x="1297.5" y="479.3" width="41.3" height="5.4" rx="2.7" stroke="#222" stroke-width="1.2" fill="none"/>
<line x1="1177.5" y1="479.8" x2="1177.5" y2="484.2" stroke="#888" stroke-width="2.2" />
<line x1="1189" y1="479.8" x2="1189" y2="484.2" stroke="#888" stroke-width="2.2" />
<line x1="1200.5" y1="479.8" x2="1200.5" y2="484.2" stroke="#888" stroke-width="2.2" />
<line x1="1309" y1="479.8" x2="1309" y2="484.2" stroke="#888" stroke-width="2.2" />
<line x1="1320.5" y1="479.8" x2="1320.5" y2="484.2" stroke="#888" stroke-width="2.2" />
<line x1="1332" y1="479.8" x2="1332" y2="484.2" stroke="#888" stroke-width="2.2" />
<rect x="1429.8" y="479.3" width="55.8" height="5.4" rx="2.7" stroke="#222" stroke-width="1.2" fill="none"/>
<rect x="1166.2" y="488.5" width="46.1" height="5.4" rx="2.7" stroke="#222" stroke-width="1.2" fill="none"/>
<rect x="1297.5" y="488.5" width="41.3" height="5.4" rx="2.7" stroke="#222" stroke-width="1.2" fill="none"/>
<line x1="1177.5" y1="489" x2="1177.5" y2="493.4" stroke="#888" stroke-width="2.2" />
<line x1="1189" y1="489" x2="1189" y2="493.4" stroke="#888" stroke-width="2.2" />
<line x1="1200.5" y1="489" x2="1200.5" y2="493.4" stroke="#888" stroke-width="2.2" />
<line x1="1309" y1="489" x2="1309" y2="493.4" stroke="#888" stroke-width="2.2" />
<line x1="1320.5" y1="489" x2="1320.5" y2="493.4" stroke="#888" stroke-width="2.2" />
<line x1="1332" y1="489" x2="1332" y2="493.4" stroke="#888" stroke-width="2.2" />
<rect x="1429.8" y="488.5" width="55.8" height="5.4" rx="2.7" stroke="#222" stroke-width="1.2" fill="none"/>
<rect x="1166.2" y="497.7" width="46.1" height="5.4" rx="2.7" stroke="#222" stroke-width="1.2" fill="none"/>
<rect x="1297.5" y="497.7" width="41.3" height="5.4" rx="2.7" stroke="#222" stroke-width="1.2" fill="none"/>
<line x1="1177.5" y1="498.2" x2="1177.5" y2="502.6" stroke="#888" stroke-width="2.2" />
<line x1="1189" y1="498.2" x2="1189" y2="502.6" stroke="#888" stroke-width="2.2" />
<line x1="1200.5" y1="498.2" x2="1200.5" y2="502.6" stroke="#888" stroke-width="2.2" />
<line x1="1309" y1="498.2" x2="1309" y2="502.6" stroke="#888" stroke-width="2.2" />
<line x1="1320.5" y1="498.2" x2="1320.5" y2="502.6" stroke="#888" stroke-width="2.2" />
<line x1="1332" y1="498.2" x2="1332" y2="502.6" stroke="#888" stroke-width="2.2" />
<rect x="1429.8" y="497.7" width="55.8" height="5.4" rx="2.7" stroke="#222" stroke-width="1.2" fill="none"/>
<rect x="1166.2" y="506.9" width="46.1" height="5.4" rx="2.7" stroke="#222" stroke-width="1.2" fill="none"/>
<rect x="1297.5" y="506.9" width="41.3" height="5.4" rx="2.7" stroke="#222" stroke-width="1.2" fill="none"/>
<line x1="1177.5" y1="507.4" x2="1177.5" y2="511.8" stroke="#888" stroke-width="2.2" />
<line x1="1189" y1="507.4" x2="1189" y2="511.8" stroke="#888" stroke-width="2.2" />
<line x1="1200.5" y1="507.4" x2="1200.5" y2="511.8" stroke="#888" stroke-width="2.2" />
<line x1="1309" y1="507.4" x2="1309" y2="511.8" stroke="#888" stroke-width="2.2" />
<line x1="1320.5" y1="507.4" x2="1320.5" y2="511.8" stroke="#888" stroke-width="2.2" />
<line x1="1332" y1="507.4" x2="1332" y2="511.8" stroke="#888" stroke-width="2.2" />
<rect x="1429.8" y="506.9" width="55.8" height="5.4" rx="2.7" stroke="#222" stroke-width="1.2" fill="none"/>
<rect x="1320" y="452.4" width="18" height="3.6" rx="1.8" fill="#333"/>
<rect x="1431" y="443.6" width="15.8" height="3.2" rx="0" stroke="#333" stroke-width="0.8" fill="none"/>
<rect x="1449.5" y="443.6" width="20.4" height="3.2" rx="0" stroke="#333" stroke-width="0.8" fill="none"/>
<rect x="1431" y="452.4" width="16" height="3.8" rx="1" fill="#333"/>
<rect x="1450" y="452.4" width="19.5" height="3.8" rx="1" fill="#333"/>
<line x1="1256.7" y1="477.6" x2="1223.6" y2="444.5" stroke="#1a1a1a" stroke-width="2.8" />
<line x1="1256.7" y1="477.6" x2="1223.6" y2="444.5" stroke="#aaa" stroke-width="0.7" />
<line x1="1256.7" y1="477.6" x2="1223.6" y2="510.7" stroke="#1a1a1a" stroke-width="2.8" />
<line x1="1256.7" y1="477.6" x2="1223.6" y2="510.7" stroke="#aaa" stroke-width="0.7" />
<line x1="1256.7" y1="477.6" x2="1289.8" y2="444.5" stroke="#1a1a1a" stroke-width="2.8" />
<line x1="1256.7" y1="477.6" x2="1289.8" y2="444.5" stroke="#aaa" stroke-width="0.7" />
<line x1="1256.7" y1="477.6" x2="1289.8" y2="510.7" stroke="#1a1a1a" stroke-width="2.8" />
<line x1="1256.7" y1="477.6" x2="1289.8" y2="510.7" stroke="#aaa" stroke-width="0.7" />
<circle cx="1256.7" cy="477.6" r="34.6" stroke="#1a1a1a" stroke-width="2.2" fill="none"/>
<circle cx="1256.7" cy="477.6" r="34.6" stroke="#aaa" stroke-width="0.5" fill="none"/>
<circle cx="1256.7" cy="477.6" r="29.2" stroke="#1a1a1a" stroke-width="2" fill="none"/>
<circle cx="1256.7" cy="477.6" r="29.2" stroke="#aaa" stroke-width="0.5" fill="none"/>
<circle cx="1256.7" cy="477.6" r="23.8" stroke="#1a1a1a" stroke-width="2" fill="none"/>
<circle cx="1256.7" cy="477.6" r="23.8" stroke="#aaa" stroke-width="0.5" fill="none"/>
<circle cx="1256.7" cy="477.6" r="18.4" stroke="#1a1a1a" stroke-width="2" fill="none"/>
<circle cx="1256.7" cy="477.6" r="18.4" stroke="#aaa" stroke-width="0.5" fill="none"/>
<circle cx="1256.7" cy="477.6" r="13" stroke="#1a1a1a" stroke-width="2.2" fill="none"/>
<circle cx="1256.7" cy="477.6" r="13" stroke="#aaa" stroke-width="0.5" fill="none"/>
<circle cx="1256.7" cy="477.6" r="8.2" stroke="#1a1a1a" stroke-width="1.9" fill="none"/>
<circle cx="1256.7" cy="477.6" r="8.2" stroke="#aaa" stroke-width="0.5" fill="none"/>
<circle cx="1256.7" cy="477.6" r="4.2" stroke="#1a1a1a" stroke-width="1.7" fill="none"/>
<circle cx="1256.7" cy="477.6" r="4.2" stroke="#aaa" stroke-width="0.5" fill="none"/>
<circle cx="1256.7" cy="477.6" r="32.8" stroke="#555" stroke-width="0.6" fill="none"/>
<circle cx="1256.7" cy="477.6" r="11.4" stroke="#555" stroke-width="0.7" fill="none"/>
<path d="M1253.7,446.6 L1257.7,455.6 M1258.7,446.6 L1259.7,455.6 M1265.7,447.6 L1263.7,464.6" stroke="#333" stroke-width="0.9" fill="none" />
<path d="M1225.7,471.6 Q1234.7,468.6 1241.7,472.6 M1229.7,473.6 Q1227.7,485.6 1234.7,497.6 M1236.7,490.6 L1230.7,496.6" stroke="#333" stroke-width="0.9" fill="none" />
<path d="M1286.7,480.6 Q1278.7,483.6 1270.7,482.6 M1261.7,493.6 Q1265.7,502.6 1261.7,509.6 M1261.7,509.6 Q1250.7,510.6 1242.7,505.6" stroke="#333" stroke-width="0.9" fill="none" />
<path d="M1274.7,469.6 V479.6 M1278.7,469.6 V479.6 M1282.7,470.6 V478.6" stroke="#444" stroke-width="1" fill="none" />
<circle cx="1223.6" cy="444.5" r="3.8" stroke="#111" stroke-width="1" fill="#222"/>
<circle cx="1223.6" cy="444.5" r="2" stroke="#999" stroke-width="0.7" fill="none"/>
<circle cx="1223.6" cy="510.7" r="3.8" stroke="#111" stroke-width="1" fill="#222"/>
<circle cx="1223.6" cy="510.7" r="2" stroke="#999" stroke-width="0.7" fill="none"/>
<circle cx="1289.8" cy="444.5" r="3.8" stroke="#111" stroke-width="1" fill="#222"/>
<circle cx="1289.8" cy="444.5" r="2" stroke="#999" stroke-width="0.7" fill="none"/>
<circle cx="1289.8" cy="510.7" r="3.8" stroke="#111" stroke-width="1" fill="#222"/>
<circle cx="1289.8" cy="510.7" r="2" stroke="#999" stroke-width="0.7" fill="none"/>
<line x1="1381" y1="477.6" x2="1347.9" y2="444.5" stroke="#1a1a1a" stroke-width="2.8" />
<line x1="1381" y1="477.6" x2="1347.9" y2="444.5" stroke="#aaa" stroke-width="0.7" />
<line x1="1381" y1="477.6" x2="1347.9" y2="510.7" stroke="#1a1a1a" stroke-width="2.8" />
<line x1="1381" y1="477.6" x2="1347.9" y2="510.7" stroke="#aaa" stroke-width="0.7" />
<line x1="1381" y1="477.6" x2="1414.1" y2="444.5" stroke="#1a1a1a" stroke-width="2.8" />
<line x1="1381" y1="477.6" x2="1414.1" y2="444.5" stroke="#aaa" stroke-width="0.7" />
<line x1="1381" y1="477.6" x2="1414.1" y2="510.7" stroke="#1a1a1a" stroke-width="2.8" />
<line x1="1381" y1="477.6" x2="1414.1" y2="510.7" stroke="#aaa" stroke-width="0.7" />
<circle cx="1381" cy="477.6" r="34.6" stroke="#1a1a1a" stroke-width="2.2" fill="none"/>
<circle cx="1381" cy="477.6" r="34.6" stroke="#aaa" stroke-width="0.5" fill="none"/>
<circle cx="1381" cy="477.6" r="29.2" stroke="#1a1a1a" stroke-width="2" fill="none"/>
<circle cx="1381" cy="477.6" r="29.2" stroke="#aaa" stroke-width="0.5" fill="none"/>
<circle cx="1381" cy="477.6" r="23.8" stroke="#1a1a1a" stroke-width="2" fill="none"/>
<circle cx="1381" cy="477.6" r="23.8" stroke="#aaa" stroke-width="0.5" fill="none"/>
<circle cx="1381" cy="477.6" r="18.4" stroke="#1a1a1a" stroke-width="2" fill="none"/>
<circle cx="1381" cy="477.6" r="18.4" stroke="#aaa" stroke-width="0.5" fill="none"/>
<circle cx="1381" cy="477.6" r="13" stroke="#1a1a1a" stroke-width="2.2" fill="none"/>
<circle cx="1381" cy="477.6" r="13" stroke="#aaa" stroke-width="0.5" fill="none"/>
<circle cx="1381" cy="477.6" r="8.2" stroke="#1a1a1a" stroke-width="1.9" fill="none"/>
<circle cx="1381" cy="477.6" r="8.2" stroke="#aaa" stroke-width="0.5" fill="none"/>
<circle cx="1381" cy="477.6" r="4.2" stroke="#1a1a1a" stroke-width="1.7" fill="none"/>
<circle cx="1381" cy="477.6" r="4.2" stroke="#aaa" stroke-width="0.5" fill="none"/>
<circle cx="1381" cy="477.6" r="32.8" stroke="#555" stroke-width="0.6" fill="none"/>
<circle cx="1381" cy="477.6" r="11.4" stroke="#555" stroke-width="0.7" fill="none"/>
<path d="M1378,446.6 L1382,455.6 M1383,446.6 L1384,455.6 M1390,447.6 L1388,464.6" stroke="#333" stroke-width="0.9" fill="none" />
<path d="M1350,471.6 Q1359,468.6 1366,472.6 M1354,473.6 Q1352,485.6 1359,497.6 M1361,490.6 L1355,496.6" stroke="#333" stroke-width="0.9" fill="none" />
<path d="M1411,480.6 Q1403,483.6 1395,482.6 M1386,493.6 Q1390,502.6 1386,509.6 M1386,509.6 Q1375,510.6 1367,505.6" stroke="#333" stroke-width="0.9" fill="none" />
<path d="M1399,469.6 V479.6 M1403,469.6 V479.6 M1407,470.6 V478.6" stroke="#444" stroke-width="1" fill="none" />
<circle cx="1347.9" cy="444.5" r="3.8" stroke="#111" stroke-width="1" fill="#222"/>
<circle cx="1347.9" cy="444.5" r="2" stroke="#999" stroke-width="0.7" fill="none"/>
<circle cx="1347.9" cy="510.7" r="3.8" stroke="#111" stroke-width="1" fill="#222"/>
<circle cx="1347.9" cy="510.7" r="2" stroke="#999" stroke-width="0.7" fill="none"/>
<circle cx="1414.1" cy="444.5" r="3.8" stroke="#111" stroke-width="1" fill="#222"/>
<circle cx="1414.1" cy="444.5" r="2" stroke="#999" stroke-width="0.7" fill="none"/>
<circle cx="1414.1" cy="510.7" r="3.8" stroke="#111" stroke-width="1" fill="#222"/>
<circle cx="1414.1" cy="510.7" r="2" stroke="#999" stroke-width="0.7" fill="none"/>
<line x1="1176.1" y1="522.7" x2="1176.1" y2="530.5" stroke="#333" stroke-width="1.5" />
<line x1="1187.63" y1="522.7" x2="1187.63" y2="530.5" stroke="#333" stroke-width="1.5" />
<line x1="1199.16" y1="522.7" x2="1199.16" y2="530.5" stroke="#333" stroke-width="1.5" />
<line x1="1210.69" y1="522.7" x2="1210.69" y2="530.5" stroke="#333" stroke-width="1.5" />
<line x1="1222.22" y1="522.7" x2="1222.22" y2="530.5" stroke="#333" stroke-width="1.5" />
<line x1="1233.75" y1="522.7" x2="1233.75" y2="530.5" stroke="#333" stroke-width="1.5" />
<line x1="1245.28" y1="522.7" x2="1245.28" y2="530.5" stroke="#333" stroke-width="1.5" />
<line x1="1256.81" y1="522.7" x2="1256.81" y2="530.5" stroke="#333" stroke-width="1.5" />
<line x1="1268.34" y1="522.7" x2="1268.34" y2="530.5" stroke="#333" stroke-width="1.5" />
<line x1="1279.87" y1="522.7" x2="1279.87" y2="530.5" stroke="#333" stroke-width="1.5" />
<line x1="1291.4" y1="522.7" x2="1291.4" y2="530.5" stroke="#333" stroke-width="1.5" />
<line x1="1302.93" y1="522.7" x2="1302.93" y2="530.5" stroke="#333" stroke-width="1.5" />
<line x1="1314.46" y1="522.7" x2="1314.46" y2="530.5" stroke="#333" stroke-width="1.5" />
<line x1="1325.99" y1="522.7" x2="1325.99" y2="530.5" stroke="#333" stroke-width="1.5" />
<line x1="1337.52" y1="522.7" x2="1337.52" y2="530.5" stroke="#333" stroke-width="1.5" />
<line x1="1349.05" y1="522.7" x2="1349.05" y2="530.5" stroke="#333" stroke-width="1.5" />
<line x1="1360.58" y1="522.7" x2="1360.58" y2="530.5" stroke="#333" stroke-width="1.5" />
<line x1="1372.11" y1="522.7" x2="1372.11" y2="530.5" stroke="#333" stroke-width="1.5" />
<line x1="1383.64" y1="522.7" x2="1383.64" y2="530.5" stroke="#333" stroke-width="1.5" />
<line x1="1155" y1="542.6" x2="1497.5" y2="542.6" stroke="#555" stroke-width="1.6" />
<line x1="1155" y1="544" x2="1497.5" y2="544" stroke="#222" stroke-width="1" />
<path d="M1153.4,519.3 V544 M1155.6,521.3 V543 M1155.6,532.8 H1160.6 V521.3" stroke="#222" stroke-width="0.9" fill="none" />
<path d="M1497.8,519.3 V544 M1495.6,521.3 V543 M1495.6,532.8 H1490.8 V521.3" stroke="#222" stroke-width="0.9" fill="none" />
<line x1="1389" y1="522.5" x2="1482" y2="522.5" stroke="#444" stroke-width="0.9" />
<line x1="1389" y1="530.9" x2="1482" y2="530.9" stroke="#333" stroke-width="1.5" />
<path d="M1416.6,521.3 A41,41 0 0 0 1474.8,521.3" stroke="#222" stroke-width="1" fill="#fff" />
<circle cx="1419.4" cy="522.9" r="3.4" stroke="#222" stroke-width="1" fill="#fff"/>
<circle cx="1419.4" cy="522.9" r="1.6" stroke="#222" stroke-width="0.8" fill="none"/>
<circle cx="1471.6" cy="522.9" r="3.4" stroke="#222" stroke-width="1" fill="#fff"/>
<circle cx="1471.6" cy="522.9" r="1.6" stroke="#222" stroke-width="0.8" fill="none"/>
<line x1="1064" y1="614.9" x2="1126.8" y2="614.9" stroke="#000" stroke-width="1.9" />
<line x1="1064" y1="846" x2="1150" y2="846" stroke="#000" stroke-width="1.9" />
<line x1="1068.6" y1="626.9" x2="1068.6" y2="700.65" stroke="#000" stroke-width="1.9" />
<line x1="1068.6" y1="750.05" x2="1068.6" y2="834" stroke="#000" stroke-width="1.9" />
<polygon points="1068.6,615.5 1066.1,631 1071.1,631" fill="#000"/>
<polygon points="1068.6,845.4 1066.1,829.9 1071.1,829.9" fill="#000"/>
<text x="1036" y="736.15" font-size="30.5" font-weight="normal" text-anchor="start" fill="#000" textLength="65" lengthAdjust="spacingAndGlyphs" stroke="#000" stroke-width="0.7">249.0</text>
<rect x="1138" y="613.5" width="376" height="13.1" rx="1.2" stroke="#222" stroke-width="1.1" fill="none"/>
<line x1="1139" y1="615" x2="1514" y2="615" stroke="#777" stroke-width="0.8" />
<line x1="1288" y1="612.6" x2="1352" y2="612.6" stroke="#444" stroke-width="1" />
<line x1="1141.5" y1="626.6" x2="1141.5" y2="737.2" stroke="#111" stroke-width="1.4" />
<line x1="1510.4" y1="626.6" x2="1510.4" y2="737.2" stroke="#222" stroke-width="1.2" />
<line x1="1158.5" y1="613.5" x2="1158.5" y2="626.6" stroke="#222" stroke-width="1" />
<line x1="1492.4" y1="613.5" x2="1492.4" y2="626.6" stroke="#222" stroke-width="1" />
<line x1="1159.4" y1="626.6" x2="1159.4" y2="737.2" stroke="#111" stroke-width="1.3" />
<line x1="1491.5" y1="626.6" x2="1491.5" y2="737.2" stroke="#222" stroke-width="1.1" />
<line x1="1141.8" y1="736.3" x2="1510.4" y2="736.3" stroke="#555" stroke-width="1.2" />
<line x1="1141.8" y1="737.9" x2="1510.4" y2="737.9" stroke="#222" stroke-width="1.1" />
<path d="M1141,737.2 V746.8 H1154.7 M1495.8,746.8 H1510.7 V737.2" stroke="#222" stroke-width="1" fill="none" />
<path d="M1128,672.9 H1112 L1108.4,674.3 V682.3 L1112,683.7 H1128" stroke="#111" stroke-width="1.6" fill="none" />
<line x1="1111.5" y1="673.3" x2="1111.5" y2="683.3" stroke="#222" stroke-width="0.8" />
<circle cx="1122.6" cy="678.5" r="2.2" stroke="#111" stroke-width="1.2" fill="#888"/>
<rect x="1128.2" y="661.5" width="3.6" height="33" rx="1" stroke="#111" stroke-width="1" fill="none"/>
<rect x="1131.8" y="664.5" width="8.8" height="28.6" rx="0.5" stroke="#111" stroke-width="1" fill="none"/>
<line x1="1135" y1="664.5" x2="1135" y2="693.1" stroke="#222" stroke-width="0.8" />
<path d="M1128.4,694.3 H1140.6 V708.3 L1136.8,706.8 H1130.5 L1128.4,703.3 Z" stroke="#111" stroke-width="1" fill="none" />
<circle cx="1132.6" cy="701.1" r="1.1" stroke="#111" stroke-width="0.8" fill="none"/>
<path d="M1128.6,704.3 V728.3 Q1128.6,732.6 1132.6,732.6 Q1136.6,732.6 1136.6,728.3 V706.8" stroke="#111" stroke-width="1" fill="none" />
<line x1="1128.6" y1="719.3" x2="1136.6" y2="719.3" stroke="#222" stroke-width="0.8" />
<line x1="1140.6" y1="696.3" x2="1140.6" y2="709.3" stroke="#555" stroke-width="2.2" />
<rect x="1511.2" y="693.5" width="12.2" height="15" rx="1" stroke="#111" stroke-width="1" fill="none"/>
<line x1="1513.6" y1="693.5" x2="1513.6" y2="708.5" stroke="#222" stroke-width="0.8" />
<circle cx="1519" cy="700.8" r="1.1" stroke="#111" stroke-width="0.8" fill="none"/>
<path d="M1514.6,708.5 V728.3 Q1514.6,732.7 1518.8,732.7 Q1523,732.7 1523,728.3 V708.5" stroke="#111" stroke-width="1" fill="none" />
<line x1="1514.6" y1="719.3" x2="1523" y2="719.3" stroke="#222" stroke-width="0.8" />
<path d="M1230.4,651.5 V637.9 Q1230.4,633.9 1226.4,633.9 H1175 Q1171,633.9 1171,637.9 V722.9 Q1171,726.9 1175,726.9 H1226.4 Q1230.4,726.9 1230.4,722.9 V709.9 M1230.4,663.3 V697.9" stroke="#111" stroke-width="1.8" fill="none" />
<line x1="1171" y1="680.1" x2="1230.4" y2="680.1" stroke="#111" stroke-width="1.8" />
<circle cx="1182.5" cy="645.8" r="8.5" stroke="#111" stroke-width="1.3" fill="#d2d2d2"/>
<circle cx="1182.5" cy="645.8" r="7" stroke="#333" stroke-width="0.8" fill="#eee"/>
<rect x="1175.9" y="642.1" width="13.2" height="7.4" fill="#fff" stroke="#222" stroke-width="0.8"/>
<line x1="1177.3" y1="642.1" x2="1177.3" y2="649.5" stroke="#111" stroke-width="1.1" />
<line x1="1187.7" y1="642.1" x2="1187.7" y2="649.5" stroke="#111" stroke-width="1.1" />
<circle cx="1182.5" cy="645.8" r="4.4" stroke="#111" stroke-width="1.2" fill="#fff"/>
<circle cx="1210.2" cy="645.8" r="8.5" stroke="#111" stroke-width="1.3" fill="#d2d2d2"/>
<circle cx="1210.2" cy="645.8" r="7" stroke="#333" stroke-width="0.8" fill="#eee"/>
<rect x="1203.6" y="642.1" width="13.2" height="7.4" fill="#fff" stroke="#222" stroke-width="0.8"/>
<line x1="1205" y1="642.1" x2="1205" y2="649.5" stroke="#111" stroke-width="1.1" />
<line x1="1215.4" y1="642.1" x2="1215.4" y2="649.5" stroke="#111" stroke-width="1.1" />
<circle cx="1210.2" cy="645.8" r="4.4" stroke="#111" stroke-width="1.2" fill="#fff"/>
<circle cx="1210.2" cy="645.8" r="2.5" stroke="#222" stroke-width="0.9" fill="none"/>
<circle cx="1210.2" cy="645.8" r="0.9" stroke="#222" stroke-width="0.6" fill="#666"/>
<line x1="1193.8" y1="645.8" x2="1198.8" y2="645.8" stroke="#222" stroke-width="1.6" />
<line x1="1196.3" y1="643.3" x2="1196.3" y2="648.3" stroke="#222" stroke-width="1.6" />
<line x1="1221.3" y1="645.8" x2="1226.7" y2="645.8" stroke="#222" stroke-width="1.6" />
<circle cx="1182.5" cy="668.7" r="8.5" stroke="#111" stroke-width="1.3" fill="#d2d2d2"/>
<circle cx="1182.5" cy="668.7" r="7" stroke="#333" stroke-width="0.8" fill="#eee"/>
<rect x="1175.9" y="665" width="13.2" height="7.4" fill="#fff" stroke="#222" stroke-width="0.8"/>
<line x1="1177.3" y1="665" x2="1177.3" y2="672.4" stroke="#111" stroke-width="1.1" />
<line x1="1187.7" y1="665" x2="1187.7" y2="672.4" stroke="#111" stroke-width="1.1" />
<circle cx="1182.5" cy="668.7" r="4.4" stroke="#111" stroke-width="1.2" fill="#fff"/>
<circle cx="1210.2" cy="668.7" r="8.5" stroke="#111" stroke-width="1.3" fill="#d2d2d2"/>
<circle cx="1210.2" cy="668.7" r="7" stroke="#333" stroke-width="0.8" fill="#eee"/>
<rect x="1203.6" y="665" width="13.2" height="7.4" fill="#fff" stroke="#222" stroke-width="0.8"/>
<line x1="1205" y1="665" x2="1205" y2="672.4" stroke="#111" stroke-width="1.1" />
<line x1="1215.4" y1="665" x2="1215.4" y2="672.4" stroke="#111" stroke-width="1.1" />
<circle cx="1210.2" cy="668.7" r="4.4" stroke="#111" stroke-width="1.2" fill="#fff"/>
<circle cx="1210.2" cy="668.7" r="2.5" stroke="#222" stroke-width="0.9" fill="none"/>
<circle cx="1210.2" cy="668.7" r="0.9" stroke="#222" stroke-width="0.6" fill="#666"/>
<line x1="1193.8" y1="668.7" x2="1198.8" y2="668.7" stroke="#222" stroke-width="1.6" />
<line x1="1196.3" y1="666.2" x2="1196.3" y2="671.2" stroke="#222" stroke-width="1.6" />
<line x1="1221.3" y1="668.7" x2="1226.7" y2="668.7" stroke="#222" stroke-width="1.6" />
<circle cx="1182.5" cy="692.1" r="8.5" stroke="#111" stroke-width="1.3" fill="#d2d2d2"/>
<circle cx="1182.5" cy="692.1" r="7" stroke="#333" stroke-width="0.8" fill="#eee"/>
<rect x="1175.9" y="688.4" width="13.2" height="7.4" fill="#fff" stroke="#222" stroke-width="0.8"/>
<line x1="1177.3" y1="688.4" x2="1177.3" y2="695.8" stroke="#111" stroke-width="1.1" />
<line x1="1187.7" y1="688.4" x2="1187.7" y2="695.8" stroke="#111" stroke-width="1.1" />
<circle cx="1182.5" cy="692.1" r="4.4" stroke="#111" stroke-width="1.2" fill="#fff"/>
<circle cx="1210.2" cy="692.1" r="8.5" stroke="#111" stroke-width="1.3" fill="#d2d2d2"/>
<circle cx="1210.2" cy="692.1" r="7" stroke="#333" stroke-width="0.8" fill="#eee"/>
<rect x="1203.6" y="688.4" width="13.2" height="7.4" fill="#fff" stroke="#222" stroke-width="0.8"/>
<line x1="1205" y1="688.4" x2="1205" y2="695.8" stroke="#111" stroke-width="1.1" />
<line x1="1215.4" y1="688.4" x2="1215.4" y2="695.8" stroke="#111" stroke-width="1.1" />
<circle cx="1210.2" cy="692.1" r="4.4" stroke="#111" stroke-width="1.2" fill="#fff"/>
<circle cx="1210.2" cy="692.1" r="2.5" stroke="#222" stroke-width="0.9" fill="none"/>
<circle cx="1210.2" cy="692.1" r="0.9" stroke="#222" stroke-width="0.6" fill="#666"/>
<line x1="1193.8" y1="692.1" x2="1198.8" y2="692.1" stroke="#222" stroke-width="1.6" />
<line x1="1196.3" y1="689.6" x2="1196.3" y2="694.6" stroke="#222" stroke-width="1.6" />
<line x1="1221.3" y1="692.1" x2="1226.7" y2="692.1" stroke="#222" stroke-width="1.6" />
<circle cx="1182.5" cy="715.1" r="8.7" stroke="#111" stroke-width="1.5" fill="#fff"/>
<rect x="1177.5" y="710.1" width="9.6" height="2.1" fill="#111"/>
<rect x="1177.6" y="714" width="9.8" height="2.6" rx="1.2" stroke="#444" stroke-width="0.9" fill="none"/>
<circle cx="1210.2" cy="715.1" r="8.7" stroke="#111" stroke-width="1.5" fill="#fff"/>
<rect x="1205.2" y="710.1" width="9.6" height="2.1" fill="#111"/>
<rect x="1205.3" y="714" width="9.8" height="2.6" rx="1.2" stroke="#444" stroke-width="0.9" fill="none"/>
<text x="1220.9" y="660.1" font-size="7.2" font-weight="bold" text-anchor="start" fill="#111" textLength="11.3" lengthAdjust="spacingAndGlyphs" stroke="#111" stroke-width="0.45">PV1</text>
<text x="1219.4" y="706.3" font-size="7.2" font-weight="bold" text-anchor="start" fill="#111" textLength="12.8" lengthAdjust="spacingAndGlyphs" stroke="#111" stroke-width="0.45">PV2</text>
<circle cx="1196.3" cy="680.1" r="2.6" stroke="#111" stroke-width="1.1" fill="#fff"/>
<circle cx="1256.4" cy="644.6" r="13.6" stroke="#111" stroke-width="1.6" fill="none"/>
<circle cx="1256.4" cy="644.6" r="12.2" stroke="#222" stroke-width="0.9" fill="none"/>
<circle cx="1256.4" cy="644.6" r="5.8" stroke="#111" stroke-width="1" fill="none"/>
<circle cx="1256.4" cy="644.6" r="4.6" stroke="#222" stroke-width="0.8" fill="none"/>
<circle cx="1293.5" cy="644.6" r="16.5" stroke="#111" stroke-width="1.6" fill="none"/>
<circle cx="1293.5" cy="644.6" r="15" stroke="#222" stroke-width="0.9" fill="none"/>
<circle cx="1293.5" cy="644.6" r="8.8" stroke="#111" stroke-width="2.2" fill="none"/>
<circle cx="1334.9" cy="644.6" r="16.5" stroke="#111" stroke-width="1.6" fill="none"/>
<circle cx="1334.9" cy="644.6" r="15" stroke="#222" stroke-width="0.9" fill="none"/>
<circle cx="1334.9" cy="644.6" r="8.8" stroke="#111" stroke-width="2.2" fill="none"/>
<text x="1248.4" y="668" font-size="6.6" font-weight="bold" text-anchor="start" fill="#111" textLength="16.4" lengthAdjust="spacingAndGlyphs" stroke="#111" stroke-width="0.45">COM1</text>
<text x="1284.3" y="668" font-size="6.6" font-weight="bold" text-anchor="start" fill="#111" textLength="18.4" lengthAdjust="spacingAndGlyphs" stroke="#111" stroke-width="0.45">COM2</text>
<text x="1325.7" y="668" font-size="6.6" font-weight="bold" text-anchor="start" fill="#111" textLength="18.4" lengthAdjust="spacingAndGlyphs" stroke="#111" stroke-width="0.45">COM3</text>
<circle cx="1256.4" cy="691" r="20.8" stroke="#222" stroke-width="0.9" fill="none"/>
<circle cx="1256.4" cy="691" r="19.6" stroke="#111" stroke-width="1" fill="none"/>
<circle cx="1256.4" cy="691" r="18.3" stroke="#444" stroke-width="0.7" fill="none"/>
<circle cx="1256.4" cy="691" r="13.8" stroke="#111" stroke-width="1" fill="none"/>
<text x="1249" y="719.8" font-size="6.6" font-weight="bold" text-anchor="start" fill="#111" textLength="14.8" lengthAdjust="spacingAndGlyphs" stroke="#111" stroke-width="0.45">GRID</text>
<rect x="1290.4" y="695" width="52.2" height="30.6" rx="4" stroke="#111" stroke-width="1.8" fill="none"/>
<circle cx="1302.7" cy="706.9" r="8.5" stroke="#111" stroke-width="1.3" fill="#d2d2d2"/>
<circle cx="1302.7" cy="706.9" r="7" stroke="#333" stroke-width="0.8" fill="#eee"/>
<rect x="1296.1" y="703.2" width="13.2" height="7.4" fill="#fff" stroke="#222" stroke-width="0.8"/>
<line x1="1297.5" y1="703.2" x2="1297.5" y2="710.6" stroke="#111" stroke-width="1.1" />
<line x1="1307.9" y1="703.2" x2="1307.9" y2="710.6" stroke="#111" stroke-width="1.1" />
<circle cx="1302.7" cy="706.9" r="4.4" stroke="#111" stroke-width="1.2" fill="#fff"/>
<circle cx="1330.6" cy="706.9" r="8.5" stroke="#111" stroke-width="1.3" fill="#d2d2d2"/>
<circle cx="1330.6" cy="706.9" r="7" stroke="#333" stroke-width="0.8" fill="#eee"/>
<rect x="1324" y="703.2" width="13.2" height="7.4" fill="#fff" stroke="#222" stroke-width="0.8"/>
<line x1="1325.4" y1="703.2" x2="1325.4" y2="710.6" stroke="#111" stroke-width="1.1" />
<line x1="1335.8" y1="703.2" x2="1335.8" y2="710.6" stroke="#111" stroke-width="1.1" />
<circle cx="1330.6" cy="706.9" r="4.4" stroke="#111" stroke-width="1.2" fill="#fff"/>
<circle cx="1330.6" cy="706.9" r="2.5" stroke="#222" stroke-width="0.9" fill="none"/>
<circle cx="1330.6" cy="706.9" r="0.9" stroke="#222" stroke-width="0.6" fill="#666"/>
<line x1="1300.1" y1="720.4" x2="1305.3" y2="720.4" stroke="#222" stroke-width="1.5" />
<line x1="1302.7" y1="717.8" x2="1302.7" y2="723" stroke="#222" stroke-width="1.5" />
<line x1="1327.2" y1="720.4" x2="1333.2" y2="720.4" stroke="#222" stroke-width="1.5" />
<text x="1310" y="722.9" font-size="6.8" font-weight="bold" text-anchor="start" fill="#111" textLength="12.6" lengthAdjust="spacingAndGlyphs" stroke="#111" stroke-width="0.45">BAT</text>
<rect x="1357.6" y="649.9" width="36.9" height="72.9" rx="1.5" stroke="#111" stroke-width="1.1" fill="none"/>
<circle cx="1362.4" cy="654.3" r="2.6" stroke="#111" stroke-width="1.1" fill="#777"/>
<line x1="1360.7" y1="654.3" x2="1364.1" y2="654.3" stroke="#111" stroke-width="0.7" />
<line x1="1362.4" y1="652.6" x2="1362.4" y2="656" stroke="#111" stroke-width="0.7" />
<circle cx="1389.6" cy="654.3" r="2.6" stroke="#111" stroke-width="1.1" fill="#777"/>
<line x1="1387.9" y1="654.3" x2="1391.3" y2="654.3" stroke="#111" stroke-width="0.7" />
<line x1="1389.6" y1="652.6" x2="1389.6" y2="656" stroke="#111" stroke-width="0.7" />
<circle cx="1362.4" cy="718.3" r="2.6" stroke="#111" stroke-width="1.1" fill="#777"/>
<line x1="1360.7" y1="718.3" x2="1364.1" y2="718.3" stroke="#111" stroke-width="0.7" />
<line x1="1362.4" y1="716.6" x2="1362.4" y2="720" stroke="#111" stroke-width="0.7" />
<circle cx="1389.6" cy="718.3" r="2.6" stroke="#111" stroke-width="1.1" fill="#777"/>
<line x1="1387.9" y1="718.3" x2="1391.3" y2="718.3" stroke="#111" stroke-width="0.7" />
<line x1="1389.6" y1="716.6" x2="1389.6" y2="720" stroke="#111" stroke-width="0.7" />
<path d="M1375.9,653.3 L1368,655.8 L1360.8,666.3 V706.3 L1368,716.3 L1375.9,718.9 L1384,716.3 L1391.2,706.3 V666.3 L1384,655.8 Z" stroke="#111" stroke-width="1.1" fill="none" />
<circle cx="1375.9" cy="658.1" r="3" stroke="#111" stroke-width="1.1" fill="#777"/>
<line x1="1373.8" y1="658.1" x2="1378" y2="658.1" stroke="#111" stroke-width="0.7" />
<line x1="1375.9" y1="656" x2="1375.9" y2="660.2" stroke="#111" stroke-width="0.7" />
<circle cx="1375.9" cy="713.9" r="3" stroke="#111" stroke-width="1.1" fill="#777"/>
<line x1="1373.8" y1="713.9" x2="1378" y2="713.9" stroke="#111" stroke-width="0.7" />
<line x1="1375.9" y1="711.8" x2="1375.9" y2="716" stroke="#111" stroke-width="0.7" />
<rect x="1361.6" y="664.7" width="29" height="43.4" rx="4.5" stroke="#111" stroke-width="1.3" fill="none"/>
<rect x="1364" y="667.9" width="24.4" height="37.4" rx="3" stroke="#222" stroke-width="1" fill="none"/>
<line x1="1390.2" y1="672.3" x2="1390.2" y2="699.3" stroke="#222" stroke-width="1" />
<circle cx="1375.9" cy="686.3" r="5.6" stroke="#111" stroke-width="1.6" fill="none"/>
<circle cx="1375.9" cy="686.3" r="3.6" stroke="#222" stroke-width="0.8" fill="none"/>
<text x="1396.4" y="688.7" font-size="6.6" font-weight="bold" text-anchor="start" fill="#111" textLength="12.6" lengthAdjust="spacingAndGlyphs" stroke="#111" stroke-width="0.45">WIFI</text>
<circle cx="1431.7" cy="651.3" r="20.8" stroke="#222" stroke-width="0.9" fill="none"/>
<circle cx="1431.7" cy="651.3" r="19.6" stroke="#111" stroke-width="1" fill="none"/>
<circle cx="1431.7" cy="651.3" r="18.3" stroke="#444" stroke-width="0.7" fill="none"/>
<circle cx="1431.7" cy="651.3" r="13.8" stroke="#111" stroke-width="1" fill="none"/>
<circle cx="1431.7" cy="702.3" r="20.8" stroke="#222" stroke-width="0.9" fill="none"/>
<circle cx="1431.7" cy="702.3" r="19.6" stroke="#111" stroke-width="1" fill="none"/>
<circle cx="1431.7" cy="702.3" r="18.3" stroke="#444" stroke-width="0.7" fill="none"/>
<circle cx="1431.7" cy="702.3" r="13.8" stroke="#111" stroke-width="1" fill="none"/>
<text x="1457.3" y="653.9" font-size="6.6" font-weight="bold" text-anchor="start" fill="#111" textLength="13.5" lengthAdjust="spacingAndGlyphs" stroke="#111" stroke-width="0.45">GEN</text>
<text x="1457.3" y="704.9" font-size="6.6" font-weight="bold" text-anchor="start" fill="#111" textLength="18" lengthAdjust="spacingAndGlyphs" stroke="#111" stroke-width="0.45">LOAD</text>
<polygon points="1482.6,723.5 1478.15,731.21 1469.25,731.21 1464.8,723.5 1469.25,715.79 1478.15,715.79" fill="none" stroke="#111" stroke-width="1.6"/>
<text x="1136.2" y="872.8" font-size="23" font-weight="bold" text-anchor="start" fill="#231815" textLength="359.2" lengthAdjust="spacingAndGlyphs" >SUN-12/15K-SG01HP3-EU-AM2</text>
<line x1="1154.7" y1="738.2" x2="1154.7" y2="818.5" stroke="#222" stroke-width="1" />
<line x1="1158" y1="738.2" x2="1158" y2="818.5" stroke="#222" stroke-width="1" />
<line x1="1495.8" y1="738.2" x2="1495.8" y2="818.5" stroke="#222" stroke-width="1" />
<line x1="1492.6" y1="738.2" x2="1492.6" y2="818.5" stroke="#222" stroke-width="1" />
<line x1="1153.5" y1="818.5" x2="1497" y2="818.5" stroke="#222" stroke-width="1.2" />
<line x1="1153.5" y1="820.1" x2="1497" y2="820.1" stroke="#666" stroke-width="0.7" />
<rect x="1166.2" y="741.7" width="46.1" height="5.4" rx="2.7" stroke="#222" stroke-width="1.2" fill="none"/>
<rect x="1429.8" y="741.7" width="55.8" height="5.4" rx="2.7" stroke="#222" stroke-width="1.2" fill="none"/>
<rect x="1166.2" y="750.9" width="46.1" height="5.4" rx="2.7" stroke="#222" stroke-width="1.2" fill="none"/>
<rect x="1297.5" y="750.9" width="41.3" height="5.4" rx="2.7" stroke="#222" stroke-width="1.2" fill="none"/>
<line x1="1177.5" y1="751.4" x2="1177.5" y2="755.8" stroke="#888" stroke-width="2.2" />
<line x1="1189" y1="751.4" x2="1189" y2="755.8" stroke="#888" stroke-width="2.2" />
<line x1="1200.5" y1="751.4" x2="1200.5" y2="755.8" stroke="#888" stroke-width="2.2" />
<line x1="1309" y1="751.4" x2="1309" y2="755.8" stroke="#888" stroke-width="2.2" />
<line x1="1320.5" y1="751.4" x2="1320.5" y2="755.8" stroke="#888" stroke-width="2.2" />
<line x1="1332" y1="751.4" x2="1332" y2="755.8" stroke="#888" stroke-width="2.2" />
<rect x="1429.8" y="750.9" width="55.8" height="5.4" rx="2.7" stroke="#222" stroke-width="1.2" fill="none"/>
<rect x="1166.2" y="760.1" width="46.1" height="5.4" rx="2.7" stroke="#222" stroke-width="1.2" fill="none"/>
<rect x="1297.5" y="760.1" width="41.3" height="5.4" rx="2.7" stroke="#222" stroke-width="1.2" fill="none"/>
<line x1="1177.5" y1="760.6" x2="1177.5" y2="765" stroke="#888" stroke-width="2.2" />
<line x1="1189" y1="760.6" x2="1189" y2="765" stroke="#888" stroke-width="2.2" />
<line x1="1200.5" y1="760.6" x2="1200.5" y2="765" stroke="#888" stroke-width="2.2" />
<line x1="1309" y1="760.6" x2="1309" y2="765" stroke="#888" stroke-width="2.2" />
<line x1="1320.5" y1="760.6" x2="1320.5" y2="765" stroke="#888" stroke-width="2.2" />
<line x1="1332" y1="760.6" x2="1332" y2="765" stroke="#888" stroke-width="2.2" />
<rect x="1429.8" y="760.1" width="55.8" height="5.4" rx="2.7" stroke="#222" stroke-width="1.2" fill="none"/>
<rect x="1166.2" y="769.3" width="46.1" height="5.4" rx="2.7" stroke="#222" stroke-width="1.2" fill="none"/>
<rect x="1297.5" y="769.3" width="41.3" height="5.4" rx="2.7" stroke="#222" stroke-width="1.2" fill="none"/>
<line x1="1177.5" y1="769.8" x2="1177.5" y2="774.2" stroke="#888" stroke-width="2.2" />
<line x1="1189" y1="769.8" x2="1189" y2="774.2" stroke="#888" stroke-width="2.2" />
<line x1="1200.5" y1="769.8" x2="1200.5" y2="774.2" stroke="#888" stroke-width="2.2" />
<line x1="1309" y1="769.8" x2="1309" y2="774.2" stroke="#888" stroke-width="2.2" />
<line x1="1320.5" y1="769.8" x2="1320.5" y2="774.2" stroke="#888" stroke-width="2.2" />
<line x1="1332" y1="769.8" x2="1332" y2="774.2" stroke="#888" stroke-width="2.2" />
<rect x="1429.8" y="769.3" width="55.8" height="5.4" rx="2.7" stroke="#222" stroke-width="1.2" fill="none"/>
<rect x="1166.2" y="778.5" width="46.1" height="5.4" rx="2.7" stroke="#222" stroke-width="1.2" fill="none"/>
<rect x="1297.5" y="778.5" width="41.3" height="5.4" rx="2.7" stroke="#222" stroke-width="1.2" fill="none"/>
<line x1="1177.5" y1="779" x2="1177.5" y2="783.4" stroke="#888" stroke-width="2.2" />
<line x1="1189" y1="779" x2="1189" y2="783.4" stroke="#888" stroke-width="2.2" />
<line x1="1200.5" y1="779" x2="1200.5" y2="783.4" stroke="#888" stroke-width="2.2" />
<line x1="1309" y1="779" x2="1309" y2="783.4" stroke="#888" stroke-width="2.2" />
<line x1="1320.5" y1="779" x2="1320.5" y2="783.4" stroke="#888" stroke-width="2.2" />
<line x1="1332" y1="779" x2="1332" y2="783.4" stroke="#888" stroke-width="2.2" />
<rect x="1429.8" y="778.5" width="55.8" height="5.4" rx="2.7" stroke="#222" stroke-width="1.2" fill="none"/>
<rect x="1166.2" y="787.7" width="46.1" height="5.4" rx="2.7" stroke="#222" stroke-width="1.2" fill="none"/>
<rect x="1297.5" y="787.7" width="41.3" height="5.4" rx="2.7" stroke="#222" stroke-width="1.2" fill="none"/>
<line x1="1177.5" y1="788.2" x2="1177.5" y2="792.6" stroke="#888" stroke-width="2.2" />
<line x1="1189" y1="788.2" x2="1189" y2="792.6" stroke="#888" stroke-width="2.2" />
<line x1="1200.5" y1="788.2" x2="1200.5" y2="792.6" stroke="#888" stroke-width="2.2" />
<line x1="1309" y1="788.2" x2="1309" y2="792.6" stroke="#888" stroke-width="2.2" />
<line x1="1320.5" y1="788.2" x2="1320.5" y2="792.6" stroke="#888" stroke-width="2.2" />
<line x1="1332" y1="788.2" x2="1332" y2="792.6" stroke="#888" stroke-width="2.2" />
<rect x="1429.8" y="787.7" width="55.8" height="5.4" rx="2.7" stroke="#222" stroke-width="1.2" fill="none"/>
<rect x="1166.2" y="796.9" width="46.1" height="5.4" rx="2.7" stroke="#222" stroke-width="1.2" fill="none"/>
<rect x="1297.5" y="796.9" width="41.3" height="5.4" rx="2.7" stroke="#222" stroke-width="1.2" fill="none"/>
<line x1="1177.5" y1="797.4" x2="1177.5" y2="801.8" stroke="#888" stroke-width="2.2" />
<line x1="1189" y1="797.4" x2="1189" y2="801.8" stroke="#888" stroke-width="2.2" />
<line x1="1200.5" y1="797.4" x2="1200.5" y2="801.8" stroke="#888" stroke-width="2.2" />
<line x1="1309" y1="797.4" x2="1309" y2="801.8" stroke="#888" stroke-width="2.2" />
<line x1="1320.5" y1="797.4" x2="1320.5" y2="801.8" stroke="#888" stroke-width="2.2" />
<line x1="1332" y1="797.4" x2="1332" y2="801.8" stroke="#888" stroke-width="2.2" />
<rect x="1429.8" y="796.9" width="55.8" height="5.4" rx="2.7" stroke="#222" stroke-width="1.2" fill="none"/>
<rect x="1166.2" y="806.1" width="46.1" height="5.4" rx="2.7" stroke="#222" stroke-width="1.2" fill="none"/>
<rect x="1297.5" y="806.1" width="41.3" height="5.4" rx="2.7" stroke="#222" stroke-width="1.2" fill="none"/>
<line x1="1177.5" y1="806.6" x2="1177.5" y2="811" stroke="#888" stroke-width="2.2" />
<line x1="1189" y1="806.6" x2="1189" y2="811" stroke="#888" stroke-width="2.2" />
<line x1="1200.5" y1="806.6" x2="1200.5" y2="811" stroke="#888" stroke-width="2.2" />
<line x1="1309" y1="806.6" x2="1309" y2="811" stroke="#888" stroke-width="2.2" />
<line x1="1320.5" y1="806.6" x2="1320.5" y2="811" stroke="#888" stroke-width="2.2" />
<line x1="1332" y1="806.6" x2="1332" y2="811" stroke="#888" stroke-width="2.2" />
<rect x="1429.8" y="806.1" width="55.8" height="5.4" rx="2.7" stroke="#222" stroke-width="1.2" fill="none"/>
<rect x="1320" y="751.6" width="18" height="3.6" rx="1.8" fill="#333"/>
<line x1="1256.7" y1="776.8" x2="1223.6" y2="743.7" stroke="#1a1a1a" stroke-width="2.8" />
<line x1="1256.7" y1="776.8" x2="1223.6" y2="743.7" stroke="#aaa" stroke-width="0.7" />
<line x1="1256.7" y1="776.8" x2="1223.6" y2="809.9" stroke="#1a1a1a" stroke-width="2.8" />
<line x1="1256.7" y1="776.8" x2="1223.6" y2="809.9" stroke="#aaa" stroke-width="0.7" />
<line x1="1256.7" y1="776.8" x2="1289.8" y2="743.7" stroke="#1a1a1a" stroke-width="2.8" />
<line x1="1256.7" y1="776.8" x2="1289.8" y2="743.7" stroke="#aaa" stroke-width="0.7" />
<line x1="1256.7" y1="776.8" x2="1289.8" y2="809.9" stroke="#1a1a1a" stroke-width="2.8" />
<line x1="1256.7" y1="776.8" x2="1289.8" y2="809.9" stroke="#aaa" stroke-width="0.7" />
<circle cx="1256.7" cy="776.8" r="34.6" stroke="#1a1a1a" stroke-width="2.2" fill="none"/>
<circle cx="1256.7" cy="776.8" r="34.6" stroke="#aaa" stroke-width="0.5" fill="none"/>
<circle cx="1256.7" cy="776.8" r="29.2" stroke="#1a1a1a" stroke-width="2" fill="none"/>
<circle cx="1256.7" cy="776.8" r="29.2" stroke="#aaa" stroke-width="0.5" fill="none"/>
<circle cx="1256.7" cy="776.8" r="23.8" stroke="#1a1a1a" stroke-width="2" fill="none"/>
<circle cx="1256.7" cy="776.8" r="23.8" stroke="#aaa" stroke-width="0.5" fill="none"/>
<circle cx="1256.7" cy="776.8" r="18.4" stroke="#1a1a1a" stroke-width="2" fill="none"/>
<circle cx="1256.7" cy="776.8" r="18.4" stroke="#aaa" stroke-width="0.5" fill="none"/>
<circle cx="1256.7" cy="776.8" r="13" stroke="#1a1a1a" stroke-width="2.2" fill="none"/>
<circle cx="1256.7" cy="776.8" r="13" stroke="#aaa" stroke-width="0.5" fill="none"/>
<circle cx="1256.7" cy="776.8" r="8.2" stroke="#1a1a1a" stroke-width="1.9" fill="none"/>
<circle cx="1256.7" cy="776.8" r="8.2" stroke="#aaa" stroke-width="0.5" fill="none"/>
<circle cx="1256.7" cy="776.8" r="4.2" stroke="#1a1a1a" stroke-width="1.7" fill="none"/>
<circle cx="1256.7" cy="776.8" r="4.2" stroke="#aaa" stroke-width="0.5" fill="none"/>
<circle cx="1256.7" cy="776.8" r="32.8" stroke="#555" stroke-width="0.6" fill="none"/>
<circle cx="1256.7" cy="776.8" r="11.4" stroke="#555" stroke-width="0.7" fill="none"/>
<path d="M1253.7,745.8 L1257.7,754.8 M1258.7,745.8 L1259.7,754.8 M1265.7,746.8 L1263.7,763.8" stroke="#333" stroke-width="0.9" fill="none" />
<path d="M1225.7,770.8 Q1234.7,767.8 1241.7,771.8 M1229.7,772.8 Q1227.7,784.8 1234.7,796.8 M1236.7,789.8 L1230.7,795.8" stroke="#333" stroke-width="0.9" fill="none" />
<path d="M1286.7,779.8 Q1278.7,782.8 1270.7,781.8 M1261.7,792.8 Q1265.7,801.8 1261.7,808.8 M1261.7,808.8 Q1250.7,809.8 1242.7,804.8" stroke="#333" stroke-width="0.9" fill="none" />
<path d="M1274.7,768.8 V778.8 M1278.7,768.8 V778.8 M1282.7,769.8 V777.8" stroke="#444" stroke-width="1" fill="none" />
<circle cx="1223.6" cy="743.7" r="3.8" stroke="#111" stroke-width="1" fill="#222"/>
<circle cx="1223.6" cy="743.7" r="2" stroke="#999" stroke-width="0.7" fill="none"/>
<circle cx="1223.6" cy="809.9" r="3.8" stroke="#111" stroke-width="1" fill="#222"/>
<circle cx="1223.6" cy="809.9" r="2" stroke="#999" stroke-width="0.7" fill="none"/>
<circle cx="1289.8" cy="743.7" r="3.8" stroke="#111" stroke-width="1" fill="#222"/>
<circle cx="1289.8" cy="743.7" r="2" stroke="#999" stroke-width="0.7" fill="none"/>
<circle cx="1289.8" cy="809.9" r="3.8" stroke="#111" stroke-width="1" fill="#222"/>
<circle cx="1289.8" cy="809.9" r="2" stroke="#999" stroke-width="0.7" fill="none"/>
<line x1="1381" y1="776.8" x2="1347.9" y2="743.7" stroke="#1a1a1a" stroke-width="2.8" />
<line x1="1381" y1="776.8" x2="1347.9" y2="743.7" stroke="#aaa" stroke-width="0.7" />
<line x1="1381" y1="776.8" x2="1347.9" y2="809.9" stroke="#1a1a1a" stroke-width="2.8" />
<line x1="1381" y1="776.8" x2="1347.9" y2="809.9" stroke="#aaa" stroke-width="0.7" />
<line x1="1381" y1="776.8" x2="1414.1" y2="743.7" stroke="#1a1a1a" stroke-width="2.8" />
<line x1="1381" y1="776.8" x2="1414.1" y2="743.7" stroke="#aaa" stroke-width="0.7" />
<line x1="1381" y1="776.8" x2="1414.1" y2="809.9" stroke="#1a1a1a" stroke-width="2.8" />
<line x1="1381" y1="776.8" x2="1414.1" y2="809.9" stroke="#aaa" stroke-width="0.7" />
<circle cx="1381" cy="776.8" r="34.6" stroke="#1a1a1a" stroke-width="2.2" fill="none"/>
<circle cx="1381" cy="776.8" r="34.6" stroke="#aaa" stroke-width="0.5" fill="none"/>
<circle cx="1381" cy="776.8" r="29.2" stroke="#1a1a1a" stroke-width="2" fill="none"/>
<circle cx="1381" cy="776.8" r="29.2" stroke="#aaa" stroke-width="0.5" fill="none"/>
<circle cx="1381" cy="776.8" r="23.8" stroke="#1a1a1a" stroke-width="2" fill="none"/>
<circle cx="1381" cy="776.8" r="23.8" stroke="#aaa" stroke-width="0.5" fill="none"/>
<circle cx="1381" cy="776.8" r="18.4" stroke="#1a1a1a" stroke-width="2" fill="none"/>
<circle cx="1381" cy="776.8" r="18.4" stroke="#aaa" stroke-width="0.5" fill="none"/>
<circle cx="1381" cy="776.8" r="13" stroke="#1a1a1a" stroke-width="2.2" fill="none"/>
<circle cx="1381" cy="776.8" r="13" stroke="#aaa" stroke-width="0.5" fill="none"/>
<circle cx="1381" cy="776.8" r="8.2" stroke="#1a1a1a" stroke-width="1.9" fill="none"/>
<circle cx="1381" cy="776.8" r="8.2" stroke="#aaa" stroke-width="0.5" fill="none"/>
<circle cx="1381" cy="776.8" r="4.2" stroke="#1a1a1a" stroke-width="1.7" fill="none"/>
<circle cx="1381" cy="776.8" r="4.2" stroke="#aaa" stroke-width="0.5" fill="none"/>
<circle cx="1381" cy="776.8" r="32.8" stroke="#555" stroke-width="0.6" fill="none"/>
<circle cx="1381" cy="776.8" r="11.4" stroke="#555" stroke-width="0.7" fill="none"/>
<path d="M1378,745.8 L1382,754.8 M1383,745.8 L1384,754.8 M1390,746.8 L1388,763.8" stroke="#333" stroke-width="0.9" fill="none" />
<path d="M1350,770.8 Q1359,767.8 1366,771.8 M1354,772.8 Q1352,784.8 1359,796.8 M1361,789.8 L1355,795.8" stroke="#333" stroke-width="0.9" fill="none" />
<path d="M1411,779.8 Q1403,782.8 1395,781.8 M1386,792.8 Q1390,801.8 1386,808.8 M1386,808.8 Q1375,809.8 1367,804.8" stroke="#333" stroke-width="0.9" fill="none" />
<path d="M1399,768.8 V778.8 M1403,768.8 V778.8 M1407,769.8 V777.8" stroke="#444" stroke-width="1" fill="none" />
<circle cx="1347.9" cy="743.7" r="3.8" stroke="#111" stroke-width="1" fill="#222"/>
<circle cx="1347.9" cy="743.7" r="2" stroke="#999" stroke-width="0.7" fill="none"/>
<circle cx="1347.9" cy="809.9" r="3.8" stroke="#111" stroke-width="1" fill="#222"/>
<circle cx="1347.9" cy="809.9" r="2" stroke="#999" stroke-width="0.7" fill="none"/>
<circle cx="1414.1" cy="743.7" r="3.8" stroke="#111" stroke-width="1" fill="#222"/>
<circle cx="1414.1" cy="743.7" r="2" stroke="#999" stroke-width="0.7" fill="none"/>
<circle cx="1414.1" cy="809.9" r="3.8" stroke="#111" stroke-width="1" fill="#222"/>
<circle cx="1414.1" cy="809.9" r="2" stroke="#999" stroke-width="0.7" fill="none"/>
<line x1="1176.1" y1="821.9" x2="1176.1" y2="829.7" stroke="#333" stroke-width="1.5" />
<line x1="1187.63" y1="821.9" x2="1187.63" y2="829.7" stroke="#333" stroke-width="1.5" />
<line x1="1199.16" y1="821.9" x2="1199.16" y2="829.7" stroke="#333" stroke-width="1.5" />
<line x1="1210.69" y1="821.9" x2="1210.69" y2="829.7" stroke="#333" stroke-width="1.5" />
<line x1="1222.22" y1="821.9" x2="1222.22" y2="829.7" stroke="#333" stroke-width="1.5" />
<line x1="1233.75" y1="821.9" x2="1233.75" y2="829.7" stroke="#333" stroke-width="1.5" />
<line x1="1245.28" y1="821.9" x2="1245.28" y2="829.7" stroke="#333" stroke-width="1.5" />
<line x1="1256.81" y1="821.9" x2="1256.81" y2="829.7" stroke="#333" stroke-width="1.5" />
<line x1="1268.34" y1="821.9" x2="1268.34" y2="829.7" stroke="#333" stroke-width="1.5" />
<line x1="1279.87" y1="821.9" x2="1279.87" y2="829.7" stroke="#333" stroke-width="1.5" />
<line x1="1291.4" y1="821.9" x2="1291.4" y2="829.7" stroke="#333" stroke-width="1.5" />
<line x1="1302.93" y1="821.9" x2="1302.93" y2="829.7" stroke="#333" stroke-width="1.5" />
<line x1="1314.46" y1="821.9" x2="1314.46" y2="829.7" stroke="#333" stroke-width="1.5" />
<line x1="1325.99" y1="821.9" x2="1325.99" y2="829.7" stroke="#333" stroke-width="1.5" />
<line x1="1337.52" y1="821.9" x2="1337.52" y2="829.7" stroke="#333" stroke-width="1.5" />
<line x1="1349.05" y1="821.9" x2="1349.05" y2="829.7" stroke="#333" stroke-width="1.5" />
<line x1="1360.58" y1="821.9" x2="1360.58" y2="829.7" stroke="#333" stroke-width="1.5" />
<line x1="1372.11" y1="821.9" x2="1372.11" y2="829.7" stroke="#333" stroke-width="1.5" />
<line x1="1383.64" y1="821.9" x2="1383.64" y2="829.7" stroke="#333" stroke-width="1.5" />
<line x1="1155" y1="842.6" x2="1497.5" y2="842.6" stroke="#555" stroke-width="1.6" />
<line x1="1155" y1="844" x2="1497.5" y2="844" stroke="#222" stroke-width="1" />
<path d="M1153.4,818.5 V844 M1155.6,820.5 V843 M1155.6,832 H1160.6 V820.5" stroke="#222" stroke-width="0.9" fill="none" />
<path d="M1497.8,818.5 V844 M1495.6,820.5 V843 M1495.6,832 H1490.8 V820.5" stroke="#222" stroke-width="0.9" fill="none" />
<line x1="1389" y1="821.7" x2="1482" y2="821.7" stroke="#444" stroke-width="0.9" />
<line x1="1389" y1="830.1" x2="1482" y2="830.1" stroke="#333" stroke-width="1.5" />
<path d="M1416.6,820.5 A41,41 0 0 0 1474.8,820.5" stroke="#222" stroke-width="1" fill="#fff" />
<circle cx="1419.4" cy="822.1" r="3.4" stroke="#222" stroke-width="1" fill="#fff"/>
<circle cx="1419.4" cy="822.1" r="1.6" stroke="#222" stroke-width="0.8" fill="none"/>
<circle cx="1471.6" cy="822.1" r="3.4" stroke="#222" stroke-width="1" fill="#fff"/>
<circle cx="1471.6" cy="822.1" r="1.6" stroke="#222" stroke-width="0.8" fill="none"/>
<line x1="1064" y1="909.9" x2="1126.8" y2="909.9" stroke="#000" stroke-width="1.9" />
<line x1="1064" y1="1140.6" x2="1150" y2="1140.6" stroke="#000" stroke-width="1.9" />
<line x1="1068.6" y1="921.9" x2="1068.6" y2="995.45" stroke="#000" stroke-width="1.9" />
<line x1="1068.6" y1="1044.85" x2="1068.6" y2="1128.6" stroke="#000" stroke-width="1.9" />
<polygon points="1068.6,910.5 1066.1,926 1071.1,926" fill="#000"/>
<polygon points="1068.6,1140 1066.1,1124.5 1071.1,1124.5" fill="#000"/>
<text x="1036" y="1030.95" font-size="30.5" font-weight="normal" text-anchor="start" fill="#000" textLength="65" lengthAdjust="spacingAndGlyphs" stroke="#000" stroke-width="0.7">249.0</text>
<rect x="1138" y="909.6" width="376" height="13.8" rx="1.2" stroke="#222" stroke-width="1.1" fill="none"/>
<line x1="1139" y1="911.1" x2="1514" y2="911.1" stroke="#777" stroke-width="0.8" />
<line x1="1288" y1="908.7" x2="1352" y2="908.7" stroke="#444" stroke-width="1" />
<line x1="1141.5" y1="923.4" x2="1141.5" y2="1033.8" stroke="#111" stroke-width="1.4" />
<line x1="1510.4" y1="923.4" x2="1510.4" y2="1033.8" stroke="#222" stroke-width="1.2" />
<line x1="1158.5" y1="909.6" x2="1158.5" y2="923.4" stroke="#222" stroke-width="1" />
<line x1="1492.4" y1="909.6" x2="1492.4" y2="923.4" stroke="#222" stroke-width="1" />
<line x1="1159.4" y1="923.4" x2="1159.4" y2="1033.8" stroke="#111" stroke-width="1.3" />
<line x1="1491.5" y1="923.4" x2="1491.5" y2="1033.8" stroke="#222" stroke-width="1.1" />
<line x1="1141.8" y1="1032.9" x2="1510.4" y2="1032.9" stroke="#555" stroke-width="1.2" />
<line x1="1141.8" y1="1034.5" x2="1510.4" y2="1034.5" stroke="#222" stroke-width="1.1" />
<path d="M1141,1033.8 V1043.4 H1154.7 M1495.8,1043.4 H1510.7 V1033.8" stroke="#222" stroke-width="1" fill="none" />
<path d="M1128,969.7 H1112 L1108.4,971.1 V979.1 L1112,980.5 H1128" stroke="#111" stroke-width="1.6" fill="none" />
<line x1="1111.5" y1="970.1" x2="1111.5" y2="980.1" stroke="#222" stroke-width="0.8" />
<circle cx="1122.6" cy="975.3" r="2.2" stroke="#111" stroke-width="1.2" fill="#888"/>
<rect x="1128.2" y="958.3" width="3.6" height="33" rx="1" stroke="#111" stroke-width="1" fill="none"/>
<rect x="1131.8" y="961.3" width="8.8" height="28.6" rx="0.5" stroke="#111" stroke-width="1" fill="none"/>
<line x1="1135" y1="961.3" x2="1135" y2="989.9" stroke="#222" stroke-width="0.8" />
<path d="M1128.4,991.1 H1140.6 V1005.1 L1136.8,1003.6 H1130.5 L1128.4,1000.1 Z" stroke="#111" stroke-width="1" fill="none" />
<circle cx="1132.6" cy="997.9" r="1.1" stroke="#111" stroke-width="0.8" fill="none"/>
<path d="M1128.6,1001.1 V1025.1 Q1128.6,1029.4 1132.6,1029.4 Q1136.6,1029.4 1136.6,1025.1 V1003.6" stroke="#111" stroke-width="1" fill="none" />
<line x1="1128.6" y1="1016.1" x2="1136.6" y2="1016.1" stroke="#222" stroke-width="0.8" />
<line x1="1140.6" y1="993.1" x2="1140.6" y2="1006.1" stroke="#555" stroke-width="2.2" />
<rect x="1511.2" y="990.3" width="12.2" height="15" rx="1" stroke="#111" stroke-width="1" fill="none"/>
<line x1="1513.6" y1="990.3" x2="1513.6" y2="1005.3" stroke="#222" stroke-width="0.8" />
<circle cx="1519" cy="997.6" r="1.1" stroke="#111" stroke-width="0.8" fill="none"/>
<path d="M1514.6,1005.3 V1025.1 Q1514.6,1029.5 1518.8,1029.5 Q1523,1029.5 1523,1025.1 V1005.3" stroke="#111" stroke-width="1" fill="none" />
<line x1="1514.6" y1="1016.1" x2="1523" y2="1016.1" stroke="#222" stroke-width="0.8" />
<path d="M1230.4,948.3 V934.7 Q1230.4,930.7 1226.4,930.7 H1175 Q1171,930.7 1171,934.7 V1019.7 Q1171,1023.7 1175,1023.7 H1226.4 Q1230.4,1023.7 1230.4,1019.7 V1006.7 M1230.4,960.1 V994.7" stroke="#111" stroke-width="1.8" fill="none" />
<line x1="1171" y1="976.9" x2="1230.4" y2="976.9" stroke="#111" stroke-width="1.8" />
<circle cx="1182.5" cy="942.6" r="8.5" stroke="#111" stroke-width="1.3" fill="#d2d2d2"/>
<circle cx="1182.5" cy="942.6" r="7" stroke="#333" stroke-width="0.8" fill="#eee"/>
<rect x="1175.9" y="938.9" width="13.2" height="7.4" fill="#fff" stroke="#222" stroke-width="0.8"/>
<line x1="1177.3" y1="938.9" x2="1177.3" y2="946.3" stroke="#111" stroke-width="1.1" />
<line x1="1187.7" y1="938.9" x2="1187.7" y2="946.3" stroke="#111" stroke-width="1.1" />
<circle cx="1182.5" cy="942.6" r="4.4" stroke="#111" stroke-width="1.2" fill="#fff"/>
<circle cx="1210.2" cy="942.6" r="8.5" stroke="#111" stroke-width="1.3" fill="#d2d2d2"/>
<circle cx="1210.2" cy="942.6" r="7" stroke="#333" stroke-width="0.8" fill="#eee"/>
<rect x="1203.6" y="938.9" width="13.2" height="7.4" fill="#fff" stroke="#222" stroke-width="0.8"/>
<line x1="1205" y1="938.9" x2="1205" y2="946.3" stroke="#111" stroke-width="1.1" />
<line x1="1215.4" y1="938.9" x2="1215.4" y2="946.3" stroke="#111" stroke-width="1.1" />
<circle cx="1210.2" cy="942.6" r="4.4" stroke="#111" stroke-width="1.2" fill="#fff"/>
<circle cx="1210.2" cy="942.6" r="2.5" stroke="#222" stroke-width="0.9" fill="none"/>
<circle cx="1210.2" cy="942.6" r="0.9" stroke="#222" stroke-width="0.6" fill="#666"/>
<line x1="1193.8" y1="942.6" x2="1198.8" y2="942.6" stroke="#222" stroke-width="1.6" />
<line x1="1196.3" y1="940.1" x2="1196.3" y2="945.1" stroke="#222" stroke-width="1.6" />
<line x1="1221.3" y1="942.6" x2="1226.7" y2="942.6" stroke="#222" stroke-width="1.6" />
<circle cx="1182.5" cy="965.5" r="8.5" stroke="#111" stroke-width="1.3" fill="#d2d2d2"/>
<circle cx="1182.5" cy="965.5" r="7" stroke="#333" stroke-width="0.8" fill="#eee"/>
<rect x="1175.9" y="961.8" width="13.2" height="7.4" fill="#fff" stroke="#222" stroke-width="0.8"/>
<line x1="1177.3" y1="961.8" x2="1177.3" y2="969.2" stroke="#111" stroke-width="1.1" />
<line x1="1187.7" y1="961.8" x2="1187.7" y2="969.2" stroke="#111" stroke-width="1.1" />
<circle cx="1182.5" cy="965.5" r="4.4" stroke="#111" stroke-width="1.2" fill="#fff"/>
<circle cx="1210.2" cy="965.5" r="8.5" stroke="#111" stroke-width="1.3" fill="#d2d2d2"/>
<circle cx="1210.2" cy="965.5" r="7" stroke="#333" stroke-width="0.8" fill="#eee"/>
<rect x="1203.6" y="961.8" width="13.2" height="7.4" fill="#fff" stroke="#222" stroke-width="0.8"/>
<line x1="1205" y1="961.8" x2="1205" y2="969.2" stroke="#111" stroke-width="1.1" />
<line x1="1215.4" y1="961.8" x2="1215.4" y2="969.2" stroke="#111" stroke-width="1.1" />
<circle cx="1210.2" cy="965.5" r="4.4" stroke="#111" stroke-width="1.2" fill="#fff"/>
<circle cx="1210.2" cy="965.5" r="2.5" stroke="#222" stroke-width="0.9" fill="none"/>
<circle cx="1210.2" cy="965.5" r="0.9" stroke="#222" stroke-width="0.6" fill="#666"/>
<line x1="1193.8" y1="965.5" x2="1198.8" y2="965.5" stroke="#222" stroke-width="1.6" />
<line x1="1196.3" y1="963" x2="1196.3" y2="968" stroke="#222" stroke-width="1.6" />
<line x1="1221.3" y1="965.5" x2="1226.7" y2="965.5" stroke="#222" stroke-width="1.6" />
<circle cx="1182.5" cy="988.9" r="8.5" stroke="#111" stroke-width="1.3" fill="#d2d2d2"/>
<circle cx="1182.5" cy="988.9" r="7" stroke="#333" stroke-width="0.8" fill="#eee"/>
<rect x="1175.9" y="985.2" width="13.2" height="7.4" fill="#fff" stroke="#222" stroke-width="0.8"/>
<line x1="1177.3" y1="985.2" x2="1177.3" y2="992.6" stroke="#111" stroke-width="1.1" />
<line x1="1187.7" y1="985.2" x2="1187.7" y2="992.6" stroke="#111" stroke-width="1.1" />
<circle cx="1182.5" cy="988.9" r="4.4" stroke="#111" stroke-width="1.2" fill="#fff"/>
<circle cx="1210.2" cy="988.9" r="8.5" stroke="#111" stroke-width="1.3" fill="#d2d2d2"/>
<circle cx="1210.2" cy="988.9" r="7" stroke="#333" stroke-width="0.8" fill="#eee"/>
<rect x="1203.6" y="985.2" width="13.2" height="7.4" fill="#fff" stroke="#222" stroke-width="0.8"/>
<line x1="1205" y1="985.2" x2="1205" y2="992.6" stroke="#111" stroke-width="1.1" />
<line x1="1215.4" y1="985.2" x2="1215.4" y2="992.6" stroke="#111" stroke-width="1.1" />
<circle cx="1210.2" cy="988.9" r="4.4" stroke="#111" stroke-width="1.2" fill="#fff"/>
<circle cx="1210.2" cy="988.9" r="2.5" stroke="#222" stroke-width="0.9" fill="none"/>
<circle cx="1210.2" cy="988.9" r="0.9" stroke="#222" stroke-width="0.6" fill="#666"/>
<line x1="1193.8" y1="988.9" x2="1198.8" y2="988.9" stroke="#222" stroke-width="1.6" />
<line x1="1196.3" y1="986.4" x2="1196.3" y2="991.4" stroke="#222" stroke-width="1.6" />
<line x1="1221.3" y1="988.9" x2="1226.7" y2="988.9" stroke="#222" stroke-width="1.6" />
<circle cx="1182.5" cy="1011.9" r="8.5" stroke="#111" stroke-width="1.3" fill="#d2d2d2"/>
<circle cx="1182.5" cy="1011.9" r="7" stroke="#333" stroke-width="0.8" fill="#eee"/>
<rect x="1175.9" y="1008.2" width="13.2" height="7.4" fill="#fff" stroke="#222" stroke-width="0.8"/>
<line x1="1177.3" y1="1008.2" x2="1177.3" y2="1015.6" stroke="#111" stroke-width="1.1" />
<line x1="1187.7" y1="1008.2" x2="1187.7" y2="1015.6" stroke="#111" stroke-width="1.1" />
<circle cx="1182.5" cy="1011.9" r="4.4" stroke="#111" stroke-width="1.2" fill="#fff"/>
<circle cx="1210.2" cy="1011.9" r="8.5" stroke="#111" stroke-width="1.3" fill="#d2d2d2"/>
<circle cx="1210.2" cy="1011.9" r="7" stroke="#333" stroke-width="0.8" fill="#eee"/>
<rect x="1203.6" y="1008.2" width="13.2" height="7.4" fill="#fff" stroke="#222" stroke-width="0.8"/>
<line x1="1205" y1="1008.2" x2="1205" y2="1015.6" stroke="#111" stroke-width="1.1" />
<line x1="1215.4" y1="1008.2" x2="1215.4" y2="1015.6" stroke="#111" stroke-width="1.1" />
<circle cx="1210.2" cy="1011.9" r="4.4" stroke="#111" stroke-width="1.2" fill="#fff"/>
<circle cx="1210.2" cy="1011.9" r="2.5" stroke="#222" stroke-width="0.9" fill="none"/>
<circle cx="1210.2" cy="1011.9" r="0.9" stroke="#222" stroke-width="0.6" fill="#666"/>
<line x1="1193.8" y1="1011.9" x2="1198.8" y2="1011.9" stroke="#222" stroke-width="1.6" />
<line x1="1196.3" y1="1009.4" x2="1196.3" y2="1014.4" stroke="#222" stroke-width="1.6" />
<line x1="1221.3" y1="1011.9" x2="1226.7" y2="1011.9" stroke="#222" stroke-width="1.6" />
<text x="1220.9" y="956.9" font-size="7.2" font-weight="bold" text-anchor="start" fill="#111" textLength="11.3" lengthAdjust="spacingAndGlyphs" stroke="#111" stroke-width="0.45">PV1</text>
<text x="1219.4" y="1003.1" font-size="7.2" font-weight="bold" text-anchor="start" fill="#111" textLength="12.8" lengthAdjust="spacingAndGlyphs" stroke="#111" stroke-width="0.45">PV2</text>
<circle cx="1256.4" cy="941.8" r="13.6" stroke="#111" stroke-width="1.6" fill="none"/>
<circle cx="1256.4" cy="941.8" r="12.2" stroke="#222" stroke-width="0.9" fill="none"/>
<circle cx="1256.4" cy="941.8" r="5.8" stroke="#111" stroke-width="1" fill="none"/>
<circle cx="1256.4" cy="941.8" r="4.6" stroke="#222" stroke-width="0.8" fill="none"/>
<rect x="1254.4" y="939.8" width="4" height="4" rx="0.5" stroke="#222" stroke-width="0.8" fill="none"/>
<circle cx="1293.5" cy="941.8" r="16.5" stroke="#111" stroke-width="1.6" fill="none"/>
<circle cx="1293.5" cy="941.8" r="15" stroke="#222" stroke-width="0.9" fill="none"/>
<circle cx="1293.5" cy="941.8" r="8.8" stroke="#111" stroke-width="2.2" fill="none"/>
<line x1="1288" y1="937.8" x2="1299" y2="937.8" stroke="#222" stroke-width="0.9" />
<circle cx="1293.5" cy="941.8" r="7.2" stroke="#222" stroke-width="0.7" fill="none"/>
<circle cx="1334.9" cy="941.8" r="16.5" stroke="#111" stroke-width="1.6" fill="none"/>
<circle cx="1334.9" cy="941.8" r="15" stroke="#222" stroke-width="0.9" fill="none"/>
<circle cx="1334.9" cy="941.8" r="8.8" stroke="#111" stroke-width="2.2" fill="none"/>
<text x="1248.4" y="965.3" font-size="6.6" font-weight="bold" text-anchor="start" fill="#111" textLength="16.4" lengthAdjust="spacingAndGlyphs" stroke="#111" stroke-width="0.45">COM1</text>
<text x="1284.3" y="965.3" font-size="6.6" font-weight="bold" text-anchor="start" fill="#111" textLength="18.4" lengthAdjust="spacingAndGlyphs" stroke="#111" stroke-width="0.45">COM2</text>
<text x="1325.7" y="965.3" font-size="6.6" font-weight="bold" text-anchor="start" fill="#111" textLength="18.4" lengthAdjust="spacingAndGlyphs" stroke="#111" stroke-width="0.45">COM3</text>
<circle cx="1256.4" cy="987.6" r="20.8" stroke="#222" stroke-width="0.9" fill="none"/>
<circle cx="1256.4" cy="987.6" r="19.6" stroke="#111" stroke-width="1" fill="none"/>
<circle cx="1256.4" cy="987.6" r="18.3" stroke="#444" stroke-width="0.7" fill="none"/>
<circle cx="1256.4" cy="987.6" r="13.8" stroke="#111" stroke-width="1" fill="none"/>
<text x="1249" y="1017.1" font-size="6.6" font-weight="bold" text-anchor="start" fill="#111" textLength="14.8" lengthAdjust="spacingAndGlyphs" stroke="#111" stroke-width="0.45">GRID</text>
<rect x="1290.4" y="992.3" width="52.2" height="30.6" rx="4" stroke="#111" stroke-width="1.8" fill="none"/>
<circle cx="1302.7" cy="1004.2" r="8.5" stroke="#111" stroke-width="1.3" fill="#d2d2d2"/>
<circle cx="1302.7" cy="1004.2" r="7" stroke="#333" stroke-width="0.8" fill="#eee"/>
<rect x="1296.1" y="1000.5" width="13.2" height="7.4" fill="#fff" stroke="#222" stroke-width="0.8"/>
<line x1="1297.5" y1="1000.5" x2="1297.5" y2="1007.9" stroke="#111" stroke-width="1.1" />
<line x1="1307.9" y1="1000.5" x2="1307.9" y2="1007.9" stroke="#111" stroke-width="1.1" />
<circle cx="1302.7" cy="1004.2" r="4.4" stroke="#111" stroke-width="1.2" fill="#fff"/>
<circle cx="1330.6" cy="1004.2" r="8.5" stroke="#111" stroke-width="1.3" fill="#d2d2d2"/>
<circle cx="1330.6" cy="1004.2" r="7" stroke="#333" stroke-width="0.8" fill="#eee"/>
<rect x="1324" y="1000.5" width="13.2" height="7.4" fill="#fff" stroke="#222" stroke-width="0.8"/>
<line x1="1325.4" y1="1000.5" x2="1325.4" y2="1007.9" stroke="#111" stroke-width="1.1" />
<line x1="1335.8" y1="1000.5" x2="1335.8" y2="1007.9" stroke="#111" stroke-width="1.1" />
<circle cx="1330.6" cy="1004.2" r="4.4" stroke="#111" stroke-width="1.2" fill="#fff"/>
<circle cx="1330.6" cy="1004.2" r="2.5" stroke="#222" stroke-width="0.9" fill="none"/>
<circle cx="1330.6" cy="1004.2" r="0.9" stroke="#222" stroke-width="0.6" fill="#666"/>
<line x1="1300.1" y1="1017.7" x2="1305.3" y2="1017.7" stroke="#222" stroke-width="1.5" />
<line x1="1302.7" y1="1015.1" x2="1302.7" y2="1020.3" stroke="#222" stroke-width="1.5" />
<line x1="1327.2" y1="1017.7" x2="1333.2" y2="1017.7" stroke="#222" stroke-width="1.5" />
<text x="1310" y="1020.2" font-size="6.8" font-weight="bold" text-anchor="start" fill="#111" textLength="12.6" lengthAdjust="spacingAndGlyphs" stroke="#111" stroke-width="0.45">BAT</text>
<rect x="1357.6" y="947.2" width="36.9" height="72.9" rx="1.5" stroke="#111" stroke-width="1.1" fill="none"/>
<circle cx="1362.4" cy="951.6" r="2.6" stroke="#111" stroke-width="1.1" fill="#777"/>
<line x1="1360.7" y1="951.6" x2="1364.1" y2="951.6" stroke="#111" stroke-width="0.7" />
<line x1="1362.4" y1="949.9" x2="1362.4" y2="953.3" stroke="#111" stroke-width="0.7" />
<circle cx="1389.6" cy="951.6" r="2.6" stroke="#111" stroke-width="1.1" fill="#777"/>
<line x1="1387.9" y1="951.6" x2="1391.3" y2="951.6" stroke="#111" stroke-width="0.7" />
<line x1="1389.6" y1="949.9" x2="1389.6" y2="953.3" stroke="#111" stroke-width="0.7" />
<circle cx="1362.4" cy="1015.6" r="2.6" stroke="#111" stroke-width="1.1" fill="#777"/>
<line x1="1360.7" y1="1015.6" x2="1364.1" y2="1015.6" stroke="#111" stroke-width="0.7" />
<line x1="1362.4" y1="1013.9" x2="1362.4" y2="1017.3" stroke="#111" stroke-width="0.7" />
<circle cx="1389.6" cy="1015.6" r="2.6" stroke="#111" stroke-width="1.1" fill="#777"/>
<line x1="1387.9" y1="1015.6" x2="1391.3" y2="1015.6" stroke="#111" stroke-width="0.7" />
<line x1="1389.6" y1="1013.9" x2="1389.6" y2="1017.3" stroke="#111" stroke-width="0.7" />
<path d="M1375.9,950.6 L1368,953.1 L1360.8,963.6 V1003.6 L1368,1013.6 L1375.9,1016.2 L1384,1013.6 L1391.2,1003.6 V963.6 L1384,953.1 Z" stroke="#111" stroke-width="1.1" fill="none" />
<circle cx="1375.9" cy="955.4" r="3" stroke="#111" stroke-width="1.1" fill="#777"/>
<line x1="1373.8" y1="955.4" x2="1378" y2="955.4" stroke="#111" stroke-width="0.7" />
<line x1="1375.9" y1="953.3" x2="1375.9" y2="957.5" stroke="#111" stroke-width="0.7" />
<circle cx="1375.9" cy="1011.2" r="3" stroke="#111" stroke-width="1.1" fill="#777"/>
<line x1="1373.8" y1="1011.2" x2="1378" y2="1011.2" stroke="#111" stroke-width="0.7" />
<line x1="1375.9" y1="1009.1" x2="1375.9" y2="1013.3" stroke="#111" stroke-width="0.7" />
<rect x="1361.6" y="962" width="29" height="43.4" rx="4.5" stroke="#111" stroke-width="1.3" fill="none"/>
<rect x="1364" y="965.2" width="24.4" height="37.4" rx="3" stroke="#222" stroke-width="1" fill="none"/>
<line x1="1390.2" y1="969.6" x2="1390.2" y2="996.6" stroke="#222" stroke-width="1" />
<circle cx="1375.9" cy="983.6" r="5.6" stroke="#111" stroke-width="1.6" fill="none"/>
<circle cx="1375.9" cy="983.6" r="3.6" stroke="#222" stroke-width="0.8" fill="none"/>
<text x="1396.4" y="986" font-size="6.6" font-weight="bold" text-anchor="start" fill="#111" textLength="12.6" lengthAdjust="spacingAndGlyphs" stroke="#111" stroke-width="0.45">WIFI</text>
<circle cx="1431.7" cy="948.6" r="20.8" stroke="#222" stroke-width="0.9" fill="none"/>
<circle cx="1431.7" cy="948.6" r="19.6" stroke="#111" stroke-width="1" fill="none"/>
<circle cx="1431.7" cy="948.6" r="18.3" stroke="#444" stroke-width="0.7" fill="none"/>
<circle cx="1431.7" cy="948.6" r="13.8" stroke="#111" stroke-width="1" fill="none"/>
<circle cx="1431.7" cy="999.6" r="20.8" stroke="#222" stroke-width="0.9" fill="none"/>
<circle cx="1431.7" cy="999.6" r="19.6" stroke="#111" stroke-width="1" fill="none"/>
<circle cx="1431.7" cy="999.6" r="18.3" stroke="#444" stroke-width="0.7" fill="none"/>
<circle cx="1431.7" cy="999.6" r="13.8" stroke="#111" stroke-width="1" fill="none"/>
<text x="1457.3" y="951.2" font-size="6.6" font-weight="bold" text-anchor="start" fill="#111" textLength="13.5" lengthAdjust="spacingAndGlyphs" stroke="#111" stroke-width="0.45">GEN</text>
<text x="1457.3" y="1002.2" font-size="6.6" font-weight="bold" text-anchor="start" fill="#111" textLength="18" lengthAdjust="spacingAndGlyphs" stroke="#111" stroke-width="0.45">LOAD</text>
<polygon points="1482.6,1020.8 1478.15,1028.51 1469.25,1028.51 1464.8,1020.8 1469.25,1013.09 1478.15,1013.09" fill="none" stroke="#111" stroke-width="1.6"/>
<text x="1136.2" y="1172.8" font-size="23" font-weight="bold" text-anchor="start" fill="#231815" textLength="359.2" lengthAdjust="spacingAndGlyphs" >SUN-20/25K-SG01HP3-EU-AM2</text>
<line x1="1154.7" y1="1034.8" x2="1154.7" y2="1115.1" stroke="#222" stroke-width="1" />
<line x1="1158" y1="1034.8" x2="1158" y2="1115.1" stroke="#222" stroke-width="1" />
<line x1="1495.8" y1="1034.8" x2="1495.8" y2="1115.1" stroke="#222" stroke-width="1" />
<line x1="1492.6" y1="1034.8" x2="1492.6" y2="1115.1" stroke="#222" stroke-width="1" />
<line x1="1153.5" y1="1115.1" x2="1497" y2="1115.1" stroke="#222" stroke-width="1.2" />
<line x1="1153.5" y1="1116.7" x2="1497" y2="1116.7" stroke="#666" stroke-width="0.7" />
<rect x="1321" y="1043.4" width="18.6" height="5.4" rx="2.7" stroke="#222" stroke-width="1.2" fill="none"/>
<line x1="1326" y1="1043.7" x2="1326" y2="1048.5" stroke="#666" stroke-width="1" />
<rect x="1423" y="1043.4" width="64.6" height="5.4" rx="2.7" stroke="#222" stroke-width="1.2" fill="none"/>
<rect x="1321" y="1052.6" width="18.6" height="5.4" rx="2.7" stroke="#222" stroke-width="1.2" fill="none"/>
<line x1="1326" y1="1052.9" x2="1326" y2="1057.7" stroke="#666" stroke-width="1" />
<rect x="1423" y="1052.6" width="64.6" height="5.4" rx="2.7" stroke="#222" stroke-width="1.2" fill="none"/>
<rect x="1321" y="1061.8" width="18.6" height="5.4" rx="2.7" stroke="#222" stroke-width="1.2" fill="none"/>
<line x1="1326" y1="1062.1" x2="1326" y2="1066.9" stroke="#666" stroke-width="1" />
<rect x="1423" y="1061.8" width="64.6" height="5.4" rx="2.7" stroke="#222" stroke-width="1.2" fill="none"/>
<rect x="1321" y="1071" width="18.6" height="5.4" rx="2.7" stroke="#222" stroke-width="1.2" fill="none"/>
<line x1="1326" y1="1071.3" x2="1326" y2="1076.1" stroke="#666" stroke-width="1" />
<rect x="1423" y="1071" width="64.6" height="5.4" rx="2.7" stroke="#222" stroke-width="1.2" fill="none"/>
<rect x="1321" y="1080.2" width="18.6" height="5.4" rx="2.7" stroke="#222" stroke-width="1.2" fill="none"/>
<line x1="1326" y1="1080.5" x2="1326" y2="1085.3" stroke="#666" stroke-width="1" />
<rect x="1423" y="1080.2" width="64.6" height="5.4" rx="2.7" stroke="#222" stroke-width="1.2" fill="none"/>
<rect x="1321" y="1089.4" width="18.6" height="5.4" rx="2.7" stroke="#222" stroke-width="1.2" fill="none"/>
<line x1="1326" y1="1089.7" x2="1326" y2="1094.5" stroke="#666" stroke-width="1" />
<rect x="1423" y="1089.4" width="64.6" height="5.4" rx="2.7" stroke="#222" stroke-width="1.2" fill="none"/>
<rect x="1321" y="1098.6" width="18.6" height="5.4" rx="2.7" stroke="#222" stroke-width="1.2" fill="none"/>
<line x1="1326" y1="1098.9" x2="1326" y2="1103.7" stroke="#666" stroke-width="1" />
<rect x="1423" y="1098.6" width="64.6" height="5.4" rx="2.7" stroke="#222" stroke-width="1.2" fill="none"/>
<line x1="1430" y1="1043.7" x2="1430" y2="1048.5" stroke="#444" stroke-width="1" />
<line x1="1436" y1="1043.7" x2="1436" y2="1048.5" stroke="#444" stroke-width="1" />
<line x1="1442" y1="1043.7" x2="1442" y2="1048.5" stroke="#444" stroke-width="1" />
<line x1="1448" y1="1043.7" x2="1448" y2="1048.5" stroke="#444" stroke-width="1" />
<line x1="1456" y1="1043.7" x2="1456" y2="1048.5" stroke="#444" stroke-width="1" />
<line x1="1464" y1="1043.7" x2="1464" y2="1048.5" stroke="#444" stroke-width="1" />
<line x1="1472" y1="1043.7" x2="1472" y2="1048.5" stroke="#444" stroke-width="1" />
<rect x="1149.4" y="1053.2" width="4.8" height="7.2" rx="2" fill="#999" stroke="#222" stroke-width="0.8"/>
<rect x="1496.6" y="1053.2" width="4.8" height="7.2" rx="2" fill="#999" stroke="#222" stroke-width="0.8"/>
<rect x="1149.4" y="1108" width="4.8" height="7.2" rx="2" fill="#999" stroke="#222" stroke-width="0.8"/>
<rect x="1496.6" y="1108" width="4.8" height="7.2" rx="2" fill="#999" stroke="#222" stroke-width="0.8"/>
<rect x="1149.4" y="1119.5" width="4.8" height="7.2" rx="2" fill="#999" stroke="#222" stroke-width="0.8"/>
<rect x="1496.6" y="1119.5" width="4.8" height="7.2" rx="2" fill="#999" stroke="#222" stroke-width="0.8"/>
<line x1="1196.4" y1="1073.4" x2="1163.3" y2="1040.3" stroke="#1a1a1a" stroke-width="2.8" />
<line x1="1196.4" y1="1073.4" x2="1163.3" y2="1040.3" stroke="#aaa" stroke-width="0.7" />
<line x1="1196.4" y1="1073.4" x2="1163.3" y2="1106.5" stroke="#1a1a1a" stroke-width="2.8" />
<line x1="1196.4" y1="1073.4" x2="1163.3" y2="1106.5" stroke="#aaa" stroke-width="0.7" />
<line x1="1196.4" y1="1073.4" x2="1229.5" y2="1040.3" stroke="#1a1a1a" stroke-width="2.8" />
<line x1="1196.4" y1="1073.4" x2="1229.5" y2="1040.3" stroke="#aaa" stroke-width="0.7" />
<line x1="1196.4" y1="1073.4" x2="1229.5" y2="1106.5" stroke="#1a1a1a" stroke-width="2.8" />
<line x1="1196.4" y1="1073.4" x2="1229.5" y2="1106.5" stroke="#aaa" stroke-width="0.7" />
<circle cx="1196.4" cy="1073.4" r="34.6" stroke="#1a1a1a" stroke-width="2.2" fill="none"/>
<circle cx="1196.4" cy="1073.4" r="34.6" stroke="#aaa" stroke-width="0.5" fill="none"/>
<circle cx="1196.4" cy="1073.4" r="29.2" stroke="#1a1a1a" stroke-width="2" fill="none"/>
<circle cx="1196.4" cy="1073.4" r="29.2" stroke="#aaa" stroke-width="0.5" fill="none"/>
<circle cx="1196.4" cy="1073.4" r="23.8" stroke="#1a1a1a" stroke-width="2" fill="none"/>
<circle cx="1196.4" cy="1073.4" r="23.8" stroke="#aaa" stroke-width="0.5" fill="none"/>
<circle cx="1196.4" cy="1073.4" r="18.4" stroke="#1a1a1a" stroke-width="2" fill="none"/>
<circle cx="1196.4" cy="1073.4" r="18.4" stroke="#aaa" stroke-width="0.5" fill="none"/>
<circle cx="1196.4" cy="1073.4" r="13" stroke="#1a1a1a" stroke-width="2.2" fill="none"/>
<circle cx="1196.4" cy="1073.4" r="13" stroke="#aaa" stroke-width="0.5" fill="none"/>
<circle cx="1196.4" cy="1073.4" r="8.2" stroke="#1a1a1a" stroke-width="1.9" fill="none"/>
<circle cx="1196.4" cy="1073.4" r="8.2" stroke="#aaa" stroke-width="0.5" fill="none"/>
<circle cx="1196.4" cy="1073.4" r="4.2" stroke="#1a1a1a" stroke-width="1.7" fill="none"/>
<circle cx="1196.4" cy="1073.4" r="4.2" stroke="#aaa" stroke-width="0.5" fill="none"/>
<circle cx="1196.4" cy="1073.4" r="32.8" stroke="#555" stroke-width="0.6" fill="none"/>
<circle cx="1196.4" cy="1073.4" r="11.4" stroke="#555" stroke-width="0.7" fill="none"/>
<path d="M1193.4,1042.4 L1197.4,1051.4 M1198.4,1042.4 L1199.4,1051.4 M1205.4,1043.4 L1203.4,1060.4" stroke="#333" stroke-width="0.9" fill="none" />
<path d="M1165.4,1067.4 Q1174.4,1064.4 1181.4,1068.4 M1169.4,1069.4 Q1167.4,1081.4 1174.4,1093.4 M1176.4,1086.4 L1170.4,1092.4" stroke="#333" stroke-width="0.9" fill="none" />
<path d="M1226.4,1076.4 Q1218.4,1079.4 1210.4,1078.4 M1201.4,1089.4 Q1205.4,1098.4 1201.4,1105.4 M1201.4,1105.4 Q1190.4,1106.4 1182.4,1101.4" stroke="#333" stroke-width="0.9" fill="none" />
<path d="M1214.4,1065.4 V1075.4 M1218.4,1065.4 V1075.4 M1222.4,1066.4 V1074.4" stroke="#444" stroke-width="1" fill="none" />
<circle cx="1163.3" cy="1040.3" r="3.8" stroke="#111" stroke-width="1" fill="#222"/>
<circle cx="1163.3" cy="1040.3" r="2" stroke="#999" stroke-width="0.7" fill="none"/>
<circle cx="1163.3" cy="1106.5" r="3.8" stroke="#111" stroke-width="1" fill="#222"/>
<circle cx="1163.3" cy="1106.5" r="2" stroke="#999" stroke-width="0.7" fill="none"/>
<circle cx="1229.5" cy="1040.3" r="3.8" stroke="#111" stroke-width="1" fill="#222"/>
<circle cx="1229.5" cy="1040.3" r="2" stroke="#999" stroke-width="0.7" fill="none"/>
<circle cx="1229.5" cy="1106.5" r="3.8" stroke="#111" stroke-width="1" fill="#222"/>
<circle cx="1229.5" cy="1106.5" r="2" stroke="#999" stroke-width="0.7" fill="none"/>
<line x1="1279.4" y1="1073.4" x2="1246.3" y2="1040.3" stroke="#1a1a1a" stroke-width="2.8" />
<line x1="1279.4" y1="1073.4" x2="1246.3" y2="1040.3" stroke="#aaa" stroke-width="0.7" />
<line x1="1279.4" y1="1073.4" x2="1246.3" y2="1106.5" stroke="#1a1a1a" stroke-width="2.8" />
<line x1="1279.4" y1="1073.4" x2="1246.3" y2="1106.5" stroke="#aaa" stroke-width="0.7" />
<line x1="1279.4" y1="1073.4" x2="1312.5" y2="1040.3" stroke="#1a1a1a" stroke-width="2.8" />
<line x1="1279.4" y1="1073.4" x2="1312.5" y2="1040.3" stroke="#aaa" stroke-width="0.7" />
<line x1="1279.4" y1="1073.4" x2="1312.5" y2="1106.5" stroke="#1a1a1a" stroke-width="2.8" />
<line x1="1279.4" y1="1073.4" x2="1312.5" y2="1106.5" stroke="#aaa" stroke-width="0.7" />
<circle cx="1279.4" cy="1073.4" r="34.6" stroke="#1a1a1a" stroke-width="2.2" fill="none"/>
<circle cx="1279.4" cy="1073.4" r="34.6" stroke="#aaa" stroke-width="0.5" fill="none"/>
<circle cx="1279.4" cy="1073.4" r="29.2" stroke="#1a1a1a" stroke-width="2" fill="none"/>
<circle cx="1279.4" cy="1073.4" r="29.2" stroke="#aaa" stroke-width="0.5" fill="none"/>
<circle cx="1279.4" cy="1073.4" r="23.8" stroke="#1a1a1a" stroke-width="2" fill="none"/>
<circle cx="1279.4" cy="1073.4" r="23.8" stroke="#aaa" stroke-width="0.5" fill="none"/>
<circle cx="1279.4" cy="1073.4" r="18.4" stroke="#1a1a1a" stroke-width="2" fill="none"/>
<circle cx="1279.4" cy="1073.4" r="18.4" stroke="#aaa" stroke-width="0.5" fill="none"/>
<circle cx="1279.4" cy="1073.4" r="13" stroke="#1a1a1a" stroke-width="2.2" fill="none"/>
<circle cx="1279.4" cy="1073.4" r="13" stroke="#aaa" stroke-width="0.5" fill="none"/>
<circle cx="1279.4" cy="1073.4" r="8.2" stroke="#1a1a1a" stroke-width="1.9" fill="none"/>
<circle cx="1279.4" cy="1073.4" r="8.2" stroke="#aaa" stroke-width="0.5" fill="none"/>
<circle cx="1279.4" cy="1073.4" r="4.2" stroke="#1a1a1a" stroke-width="1.7" fill="none"/>
<circle cx="1279.4" cy="1073.4" r="4.2" stroke="#aaa" stroke-width="0.5" fill="none"/>
<circle cx="1279.4" cy="1073.4" r="32.8" stroke="#555" stroke-width="0.6" fill="none"/>
<circle cx="1279.4" cy="1073.4" r="11.4" stroke="#555" stroke-width="0.7" fill="none"/>
<path d="M1276.4,1042.4 L1280.4,1051.4 M1281.4,1042.4 L1282.4,1051.4 M1288.4,1043.4 L1286.4,1060.4" stroke="#333" stroke-width="0.9" fill="none" />
<path d="M1248.4,1067.4 Q1257.4,1064.4 1264.4,1068.4 M1252.4,1069.4 Q1250.4,1081.4 1257.4,1093.4 M1259.4,1086.4 L1253.4,1092.4" stroke="#333" stroke-width="0.9" fill="none" />
<path d="M1309.4,1076.4 Q1301.4,1079.4 1293.4,1078.4 M1284.4,1089.4 Q1288.4,1098.4 1284.4,1105.4 M1284.4,1105.4 Q1273.4,1106.4 1265.4,1101.4" stroke="#333" stroke-width="0.9" fill="none" />
<path d="M1297.4,1065.4 V1075.4 M1301.4,1065.4 V1075.4 M1305.4,1066.4 V1074.4" stroke="#444" stroke-width="1" fill="none" />
<circle cx="1246.3" cy="1040.3" r="3.8" stroke="#111" stroke-width="1" fill="#222"/>
<circle cx="1246.3" cy="1040.3" r="2" stroke="#999" stroke-width="0.7" fill="none"/>
<circle cx="1246.3" cy="1106.5" r="3.8" stroke="#111" stroke-width="1" fill="#222"/>
<circle cx="1246.3" cy="1106.5" r="2" stroke="#999" stroke-width="0.7" fill="none"/>
<circle cx="1312.5" cy="1040.3" r="3.8" stroke="#111" stroke-width="1" fill="#222"/>
<circle cx="1312.5" cy="1040.3" r="2" stroke="#999" stroke-width="0.7" fill="none"/>
<circle cx="1312.5" cy="1106.5" r="3.8" stroke="#111" stroke-width="1" fill="#222"/>
<circle cx="1312.5" cy="1106.5" r="2" stroke="#999" stroke-width="0.7" fill="none"/>
<line x1="1380.9" y1="1073.4" x2="1347.8" y2="1040.3" stroke="#1a1a1a" stroke-width="2.8" />
<line x1="1380.9" y1="1073.4" x2="1347.8" y2="1040.3" stroke="#aaa" stroke-width="0.7" />
<line x1="1380.9" y1="1073.4" x2="1347.8" y2="1106.5" stroke="#1a1a1a" stroke-width="2.8" />
<line x1="1380.9" y1="1073.4" x2="1347.8" y2="1106.5" stroke="#aaa" stroke-width="0.7" />
<line x1="1380.9" y1="1073.4" x2="1414" y2="1040.3" stroke="#1a1a1a" stroke-width="2.8" />
<line x1="1380.9" y1="1073.4" x2="1414" y2="1040.3" stroke="#aaa" stroke-width="0.7" />
<line x1="1380.9" y1="1073.4" x2="1414" y2="1106.5" stroke="#1a1a1a" stroke-width="2.8" />
<line x1="1380.9" y1="1073.4" x2="1414" y2="1106.5" stroke="#aaa" stroke-width="0.7" />
<circle cx="1380.9" cy="1073.4" r="34.6" stroke="#1a1a1a" stroke-width="2.2" fill="none"/>
<circle cx="1380.9" cy="1073.4" r="34.6" stroke="#aaa" stroke-width="0.5" fill="none"/>
<circle cx="1380.9" cy="1073.4" r="29.2" stroke="#1a1a1a" stroke-width="2" fill="none"/>
<circle cx="1380.9" cy="1073.4" r="29.2" stroke="#aaa" stroke-width="0.5" fill="none"/>
<circle cx="1380.9" cy="1073.4" r="23.8" stroke="#1a1a1a" stroke-width="2" fill="none"/>
<circle cx="1380.9" cy="1073.4" r="23.8" stroke="#aaa" stroke-width="0.5" fill="none"/>
<circle cx="1380.9" cy="1073.4" r="18.4" stroke="#1a1a1a" stroke-width="2" fill="none"/>
<circle cx="1380.9" cy="1073.4" r="18.4" stroke="#aaa" stroke-width="0.5" fill="none"/>
<circle cx="1380.9" cy="1073.4" r="13" stroke="#1a1a1a" stroke-width="2.2" fill="none"/>
<circle cx="1380.9" cy="1073.4" r="13" stroke="#aaa" stroke-width="0.5" fill="none"/>
<circle cx="1380.9" cy="1073.4" r="8.2" stroke="#1a1a1a" stroke-width="1.9" fill="none"/>
<circle cx="1380.9" cy="1073.4" r="8.2" stroke="#aaa" stroke-width="0.5" fill="none"/>
<circle cx="1380.9" cy="1073.4" r="4.2" stroke="#1a1a1a" stroke-width="1.7" fill="none"/>
<circle cx="1380.9" cy="1073.4" r="4.2" stroke="#aaa" stroke-width="0.5" fill="none"/>
<circle cx="1380.9" cy="1073.4" r="32.8" stroke="#555" stroke-width="0.6" fill="none"/>
<circle cx="1380.9" cy="1073.4" r="11.4" stroke="#555" stroke-width="0.7" fill="none"/>
<path d="M1377.9,1042.4 L1381.9,1051.4 M1382.9,1042.4 L1383.9,1051.4 M1389.9,1043.4 L1387.9,1060.4" stroke="#333" stroke-width="0.9" fill="none" />
<path d="M1349.9,1067.4 Q1358.9,1064.4 1365.9,1068.4 M1353.9,1069.4 Q1351.9,1081.4 1358.9,1093.4 M1360.9,1086.4 L1354.9,1092.4" stroke="#333" stroke-width="0.9" fill="none" />
<path d="M1410.9,1076.4 Q1402.9,1079.4 1394.9,1078.4 M1385.9,1089.4 Q1389.9,1098.4 1385.9,1105.4 M1385.9,1105.4 Q1374.9,1106.4 1366.9,1101.4" stroke="#333" stroke-width="0.9" fill="none" />
<path d="M1398.9,1065.4 V1075.4 M1402.9,1065.4 V1075.4 M1406.9,1066.4 V1074.4" stroke="#444" stroke-width="1" fill="none" />
<circle cx="1347.8" cy="1040.3" r="3.8" stroke="#111" stroke-width="1" fill="#222"/>
<circle cx="1347.8" cy="1040.3" r="2" stroke="#999" stroke-width="0.7" fill="none"/>
<circle cx="1347.8" cy="1106.5" r="3.8" stroke="#111" stroke-width="1" fill="#222"/>
<circle cx="1347.8" cy="1106.5" r="2" stroke="#999" stroke-width="0.7" fill="none"/>
<circle cx="1414" cy="1040.3" r="3.8" stroke="#111" stroke-width="1" fill="#222"/>
<circle cx="1414" cy="1040.3" r="2" stroke="#999" stroke-width="0.7" fill="none"/>
<circle cx="1414" cy="1106.5" r="3.8" stroke="#111" stroke-width="1" fill="#222"/>
<circle cx="1414" cy="1106.5" r="2" stroke="#999" stroke-width="0.7" fill="none"/>
<line x1="1176.1" y1="1118.5" x2="1176.1" y2="1126.3" stroke="#333" stroke-width="1.5" />
<line x1="1187.63" y1="1118.5" x2="1187.63" y2="1126.3" stroke="#333" stroke-width="1.5" />
<line x1="1199.16" y1="1118.5" x2="1199.16" y2="1126.3" stroke="#333" stroke-width="1.5" />
<line x1="1210.69" y1="1118.5" x2="1210.69" y2="1126.3" stroke="#333" stroke-width="1.5" />
<line x1="1222.22" y1="1118.5" x2="1222.22" y2="1126.3" stroke="#333" stroke-width="1.5" />
<line x1="1233.75" y1="1118.5" x2="1233.75" y2="1126.3" stroke="#333" stroke-width="1.5" />
<line x1="1245.28" y1="1118.5" x2="1245.28" y2="1126.3" stroke="#333" stroke-width="1.5" />
<line x1="1256.81" y1="1118.5" x2="1256.81" y2="1126.3" stroke="#333" stroke-width="1.5" />
<line x1="1268.34" y1="1118.5" x2="1268.34" y2="1126.3" stroke="#333" stroke-width="1.5" />
<line x1="1279.87" y1="1118.5" x2="1279.87" y2="1126.3" stroke="#333" stroke-width="1.5" />
<line x1="1291.4" y1="1118.5" x2="1291.4" y2="1126.3" stroke="#333" stroke-width="1.5" />
<line x1="1302.93" y1="1118.5" x2="1302.93" y2="1126.3" stroke="#333" stroke-width="1.5" />
<line x1="1314.46" y1="1118.5" x2="1314.46" y2="1126.3" stroke="#333" stroke-width="1.5" />
<line x1="1325.99" y1="1118.5" x2="1325.99" y2="1126.3" stroke="#333" stroke-width="1.5" />
<line x1="1337.52" y1="1118.5" x2="1337.52" y2="1126.3" stroke="#333" stroke-width="1.5" />
<line x1="1349.05" y1="1118.5" x2="1349.05" y2="1126.3" stroke="#333" stroke-width="1.5" />
<line x1="1360.58" y1="1118.5" x2="1360.58" y2="1126.3" stroke="#333" stroke-width="1.5" />
<line x1="1372.11" y1="1118.5" x2="1372.11" y2="1126.3" stroke="#333" stroke-width="1.5" />
<line x1="1383.64" y1="1118.5" x2="1383.64" y2="1126.3" stroke="#333" stroke-width="1.5" />
<line x1="1155" y1="1137.2" x2="1497.5" y2="1137.2" stroke="#555" stroke-width="1.6" />
<line x1="1155" y1="1138.6" x2="1497.5" y2="1138.6" stroke="#222" stroke-width="1" />
<path d="M1153.4,1115.1 V1138.6 M1155.6,1117.1 V1137.6 M1155.6,1128.6 H1160.6 V1117.1" stroke="#222" stroke-width="0.9" fill="none" />
<path d="M1497.8,1115.1 V1138.6 M1495.6,1117.1 V1137.6 M1495.6,1128.6 H1490.8 V1117.1" stroke="#222" stroke-width="0.9" fill="none" />
<line x1="1389" y1="1118.3" x2="1482" y2="1118.3" stroke="#444" stroke-width="0.9" />
<line x1="1389" y1="1126.7" x2="1482" y2="1126.7" stroke="#333" stroke-width="1.5" />
<path d="M1416.6,1117.1 A41,41 0 0 0 1474.8,1117.1" stroke="#222" stroke-width="1" fill="#fff" />
<circle cx="1419.4" cy="1118.7" r="3.4" stroke="#222" stroke-width="1" fill="#fff"/>
<circle cx="1419.4" cy="1118.7" r="1.6" stroke="#222" stroke-width="0.8" fill="none"/>
<circle cx="1471.6" cy="1118.7" r="3.4" stroke="#222" stroke-width="1" fill="#fff"/>
<circle cx="1471.6" cy="1118.7" r="1.6" stroke="#222" stroke-width="0.8" fill="none"/>
</svg>
</body></html>
